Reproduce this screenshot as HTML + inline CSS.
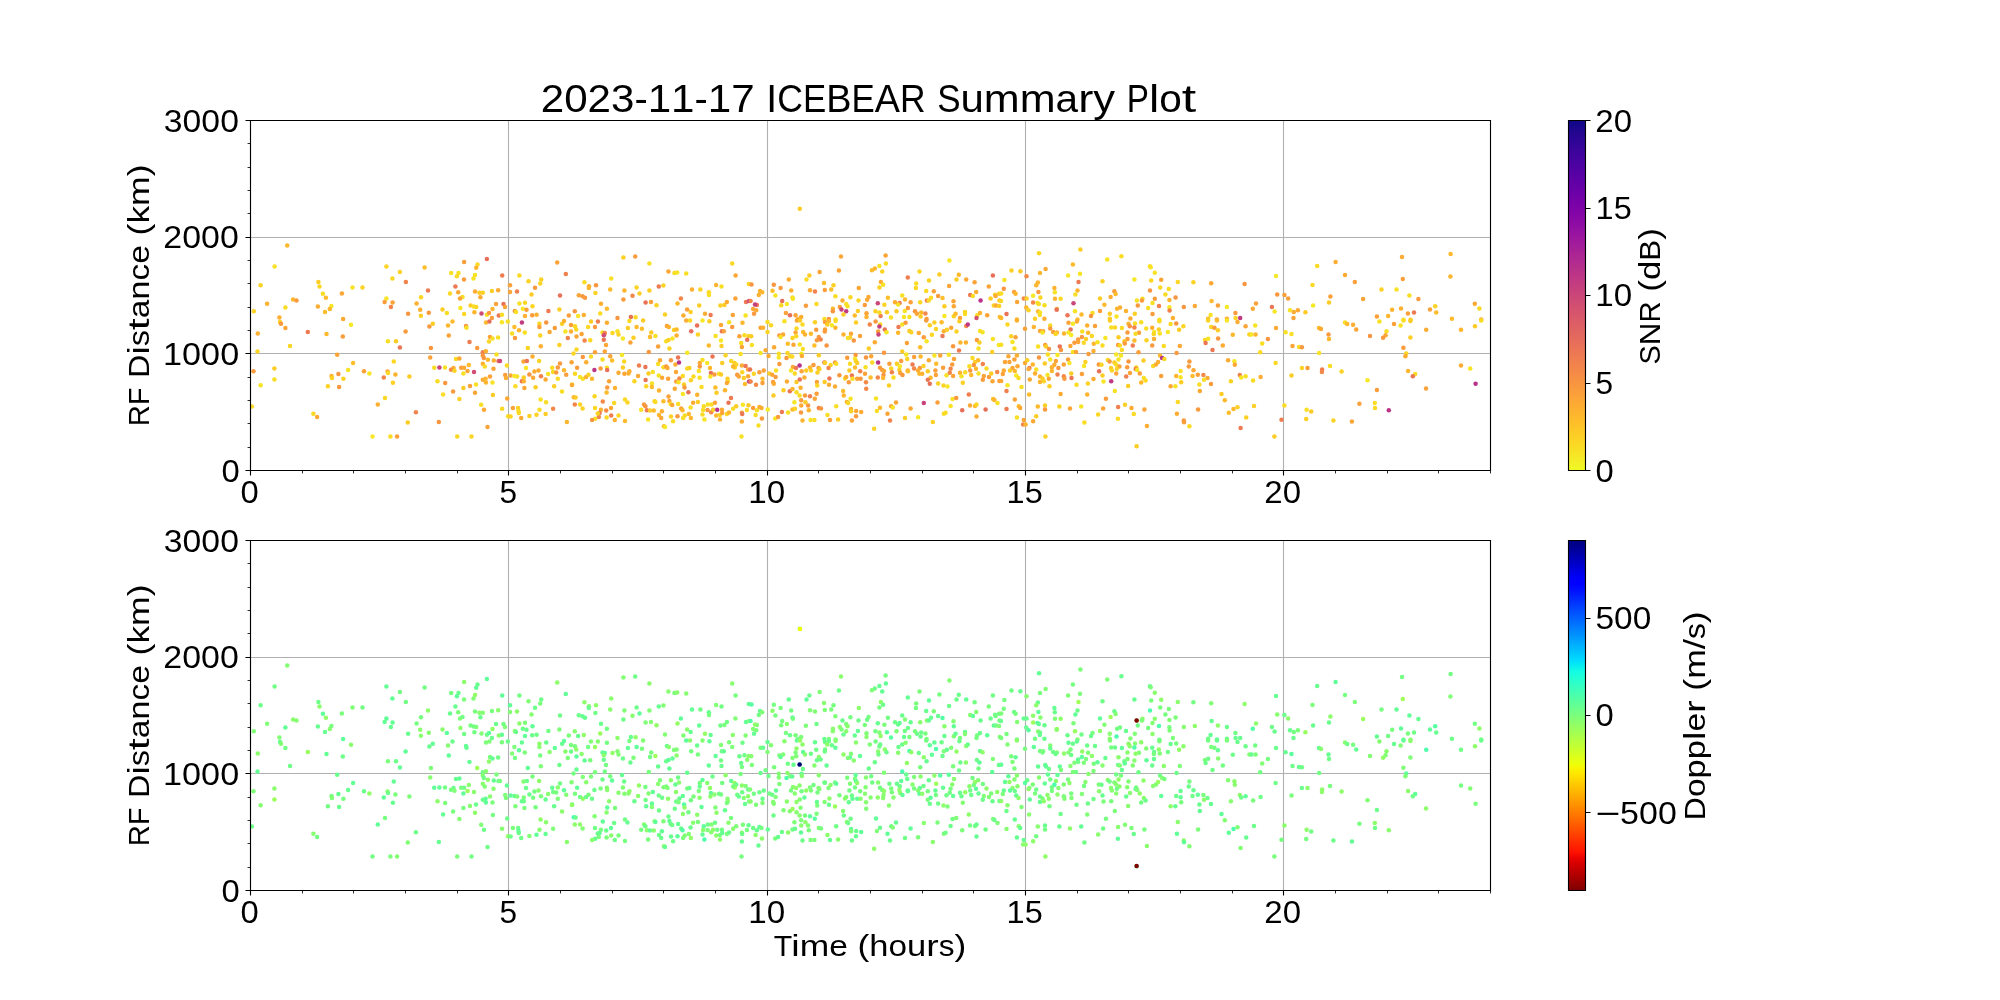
<!DOCTYPE html><html><head><meta charset="utf-8"><title>2023-11-17 ICEBEAR Summary Plot</title><style>html,body{margin:0;padding:0;background:#fff;}svg{display:block;will-change:transform;}text{font-family:"Liberation Sans",sans-serif;fill:#000;}</style></head><body>
<svg width="2000" height="1000" viewBox="0 0 2000 1000">
<rect x="0" y="0" width="2000" height="1000" fill="#fff"/>
<defs><linearGradient id="gp" x1="0" y1="1" x2="0" y2="0"><stop offset="0.0000" stop-color="#f0f921"/><stop offset="0.0156" stop-color="#f2f227"/><stop offset="0.0312" stop-color="#f5eb27"/><stop offset="0.0469" stop-color="#f7e425"/><stop offset="0.0625" stop-color="#f9dd25"/><stop offset="0.0781" stop-color="#fbd724"/><stop offset="0.0938" stop-color="#fcd025"/><stop offset="0.1094" stop-color="#fdca26"/><stop offset="0.1250" stop-color="#fdc328"/><stop offset="0.1406" stop-color="#febd2a"/><stop offset="0.1562" stop-color="#feb72d"/><stop offset="0.1719" stop-color="#fdb130"/><stop offset="0.1875" stop-color="#fdab33"/><stop offset="0.2031" stop-color="#fca537"/><stop offset="0.2188" stop-color="#fb9f3a"/><stop offset="0.2344" stop-color="#f99a3e"/><stop offset="0.2500" stop-color="#f89441"/><stop offset="0.2656" stop-color="#f68f44"/><stop offset="0.2812" stop-color="#f48948"/><stop offset="0.2969" stop-color="#f2844b"/><stop offset="0.3125" stop-color="#f07f4f"/><stop offset="0.3281" stop-color="#ed7a52"/><stop offset="0.3438" stop-color="#eb7556"/><stop offset="0.3594" stop-color="#e87059"/><stop offset="0.3750" stop-color="#e56b5d"/><stop offset="0.3906" stop-color="#e26660"/><stop offset="0.4062" stop-color="#df6263"/><stop offset="0.4219" stop-color="#dc5d67"/><stop offset="0.4375" stop-color="#d9586a"/><stop offset="0.4531" stop-color="#d5546e"/><stop offset="0.4688" stop-color="#d24f71"/><stop offset="0.4844" stop-color="#ce4b75"/><stop offset="0.5000" stop-color="#cb4679"/><stop offset="0.5156" stop-color="#c7427c"/><stop offset="0.5312" stop-color="#c33d80"/><stop offset="0.5469" stop-color="#bf3984"/><stop offset="0.5625" stop-color="#bb3488"/><stop offset="0.5781" stop-color="#b6308b"/><stop offset="0.5938" stop-color="#b22b8f"/><stop offset="0.6094" stop-color="#ad2793"/><stop offset="0.6250" stop-color="#a82296"/><stop offset="0.6406" stop-color="#a31e9a"/><stop offset="0.6562" stop-color="#9e199d"/><stop offset="0.6719" stop-color="#99159f"/><stop offset="0.6875" stop-color="#9410a2"/><stop offset="0.7031" stop-color="#8e0ca4"/><stop offset="0.7188" stop-color="#8808a6"/><stop offset="0.7344" stop-color="#8305a7"/><stop offset="0.7500" stop-color="#7d03a8"/><stop offset="0.7656" stop-color="#7701a8"/><stop offset="0.7812" stop-color="#7100a8"/><stop offset="0.7969" stop-color="#6a00a8"/><stop offset="0.8125" stop-color="#6400a7"/><stop offset="0.8281" stop-color="#5e01a6"/><stop offset="0.8438" stop-color="#5801a4"/><stop offset="0.8594" stop-color="#5102a3"/><stop offset="0.8750" stop-color="#4b03a1"/><stop offset="0.8906" stop-color="#44039e"/><stop offset="0.9062" stop-color="#3e049c"/><stop offset="0.9219" stop-color="#370499"/><stop offset="0.9375" stop-color="#2f0596"/><stop offset="0.9531" stop-color="#280592"/><stop offset="0.9688" stop-color="#20068f"/><stop offset="0.9844" stop-color="#16078a"/><stop offset="1.0000" stop-color="#0d0887"/></linearGradient>
<linearGradient id="gj" x1="0" y1="1" x2="0" y2="0"><stop offset="0.0000" stop-color="#800000"/><stop offset="0.0156" stop-color="#920000"/><stop offset="0.0312" stop-color="#a40000"/><stop offset="0.0469" stop-color="#b60000"/><stop offset="0.0625" stop-color="#c80000"/><stop offset="0.0781" stop-color="#da0000"/><stop offset="0.0938" stop-color="#ed0400"/><stop offset="0.1094" stop-color="#ff1300"/><stop offset="0.1250" stop-color="#ff2200"/><stop offset="0.1406" stop-color="#ff3000"/><stop offset="0.1562" stop-color="#ff3f00"/><stop offset="0.1719" stop-color="#ff4e00"/><stop offset="0.1875" stop-color="#ff5d00"/><stop offset="0.2031" stop-color="#ff6c00"/><stop offset="0.2188" stop-color="#ff7a00"/><stop offset="0.2344" stop-color="#ff8900"/><stop offset="0.2500" stop-color="#ff9800"/><stop offset="0.2656" stop-color="#ffa700"/><stop offset="0.2812" stop-color="#ffb600"/><stop offset="0.2969" stop-color="#ffc400"/><stop offset="0.3125" stop-color="#ffd300"/><stop offset="0.3281" stop-color="#ffe200"/><stop offset="0.3438" stop-color="#fbf100"/><stop offset="0.3594" stop-color="#eeff09"/><stop offset="0.3750" stop-color="#e1ff16"/><stop offset="0.3906" stop-color="#d4ff23"/><stop offset="0.4062" stop-color="#c7ff30"/><stop offset="0.4219" stop-color="#baff3c"/><stop offset="0.4375" stop-color="#adff49"/><stop offset="0.4531" stop-color="#a0ff56"/><stop offset="0.4688" stop-color="#94ff63"/><stop offset="0.4844" stop-color="#87ff70"/><stop offset="0.5000" stop-color="#7aff7d"/><stop offset="0.5156" stop-color="#6dff8a"/><stop offset="0.5312" stop-color="#60ff97"/><stop offset="0.5469" stop-color="#53ffa4"/><stop offset="0.5625" stop-color="#46ffb1"/><stop offset="0.5781" stop-color="#39ffbe"/><stop offset="0.5938" stop-color="#2cffca"/><stop offset="0.6094" stop-color="#1fffd7"/><stop offset="0.6250" stop-color="#13fce4"/><stop offset="0.6406" stop-color="#06edf1"/><stop offset="0.6562" stop-color="#00dcfe"/><stop offset="0.6719" stop-color="#00ccff"/><stop offset="0.6875" stop-color="#00bcff"/><stop offset="0.7031" stop-color="#00adff"/><stop offset="0.7188" stop-color="#009cff"/><stop offset="0.7344" stop-color="#008cff"/><stop offset="0.7500" stop-color="#007dff"/><stop offset="0.7656" stop-color="#006dff"/><stop offset="0.7812" stop-color="#005dff"/><stop offset="0.7969" stop-color="#004dff"/><stop offset="0.8125" stop-color="#003dff"/><stop offset="0.8281" stop-color="#002dff"/><stop offset="0.8438" stop-color="#001dff"/><stop offset="0.8594" stop-color="#000dff"/><stop offset="0.8750" stop-color="#0000ff"/><stop offset="0.8906" stop-color="#0000fa"/><stop offset="0.9062" stop-color="#0000e8"/><stop offset="0.9219" stop-color="#0000d6"/><stop offset="0.9375" stop-color="#0000c4"/><stop offset="0.9531" stop-color="#0000b2"/><stop offset="0.9688" stop-color="#00009f"/><stop offset="0.9844" stop-color="#00008d"/><stop offset="1.0000" stop-color="#000080"/></linearGradient></defs>
<path d="M250.5 120V470M508.5 120V470M767.5 120V470M1025.5 120V470M1283.5 120V470M250 353.5H1490M250 237.5H1490" stroke="#b0b0b0" stroke-width="1.11" fill="none"/>
<rect x="1568" y="120" width="17.5" height="350" fill="url(#gp)"/>
<path d="M250.5 540V890M508.5 540V890M767.5 540V890M1025.5 540V890M1283.5 540V890M250 773.5H1490M250 657.5H1490" stroke="#b0b0b0" stroke-width="1.11" fill="none"/>
<rect x="1568" y="540" width="17.5" height="350" fill="url(#gj)"/>
<defs><clipPath id="ca"><rect x="250" y="120" width="1240" height="350"/></clipPath><clipPath id="cb"><rect x="250" y="540" width="1240" height="350"/></clipPath></defs><g clip-path="url(#ca)"><circle cx="287.2" cy="245.6" r="2.25" fill="#feb82c"/><circle cx="274.6" cy="266.5" r="2.25" fill="#f8e125"/><circle cx="386.4" cy="266.5" r="2.25" fill="#fbd524"/><circle cx="424.6" cy="267.6" r="2.25" fill="#febd2a"/><circle cx="399.9" cy="271.9" r="2.25" fill="#fcd225"/><circle cx="464.1" cy="262.1" r="2.25" fill="#fb9f3a"/><circle cx="486.9" cy="259.0" r="2.25" fill="#e87059"/><circle cx="477.5" cy="264.4" r="2.25" fill="#fad824"/><circle cx="476.2" cy="267.8" r="2.25" fill="#fdb52e"/><circle cx="451.2" cy="273.1" r="2.25" fill="#f8e125"/><circle cx="458.5" cy="273.1" r="2.25" fill="#f8e125"/><circle cx="456.9" cy="276.2" r="2.25" fill="#fada24"/><circle cx="464.0" cy="279.4" r="2.25" fill="#fa9b3d"/><circle cx="475.0" cy="275.0" r="2.25" fill="#f7e225"/><circle cx="473.5" cy="278.5" r="2.25" fill="#f7e425"/><circle cx="260.6" cy="285.2" r="2.25" fill="#fbd324"/><circle cx="318.4" cy="282.1" r="2.25" fill="#fcce25"/><circle cx="319.5" cy="286.5" r="2.25" fill="#fbd724"/><circle cx="392.4" cy="278.5" r="2.25" fill="#fad824"/><circle cx="405.9" cy="282.1" r="2.25" fill="#f1834c"/><circle cx="352.5" cy="287.5" r="2.25" fill="#f7e225"/><circle cx="362.5" cy="287.5" r="2.25" fill="#fbd324"/><circle cx="341.9" cy="293.4" r="2.25" fill="#fca835"/><circle cx="322.9" cy="293.8" r="2.25" fill="#f9dc24"/><circle cx="325.9" cy="297.8" r="2.25" fill="#febb2b"/><circle cx="455.4" cy="286.6" r="2.25" fill="#ed7953"/><circle cx="428.0" cy="290.6" r="2.25" fill="#ee7b51"/><circle cx="450.0" cy="293.4" r="2.25" fill="#fad824"/><circle cx="458.2" cy="292.2" r="2.25" fill="#fca835"/><circle cx="475.0" cy="291.5" r="2.25" fill="#fdab33"/><circle cx="479.4" cy="292.8" r="2.25" fill="#fdcb26"/><circle cx="482.8" cy="292.8" r="2.25" fill="#fcd025"/><circle cx="491.9" cy="290.9" r="2.25" fill="#fcd025"/><circle cx="498.1" cy="290.2" r="2.25" fill="#fdac33"/><circle cx="421.0" cy="297.2" r="2.25" fill="#fbd724"/><circle cx="462.5" cy="296.9" r="2.25" fill="#fada24"/><circle cx="460.0" cy="298.5" r="2.25" fill="#fca636"/><circle cx="480.4" cy="297.2" r="2.25" fill="#fdab33"/><circle cx="293.1" cy="299.4" r="2.25" fill="#feb72d"/><circle cx="296.5" cy="300.6" r="2.25" fill="#fa9c3c"/><circle cx="267.1" cy="303.8" r="2.25" fill="#fdb22f"/><circle cx="386.4" cy="298.5" r="2.25" fill="#f6e626"/><circle cx="384.6" cy="301.9" r="2.25" fill="#fa9e3b"/><circle cx="392.6" cy="302.5" r="2.25" fill="#fca338"/><circle cx="390.9" cy="306.9" r="2.25" fill="#f3854b"/><circle cx="416.6" cy="303.5" r="2.25" fill="#fdb22f"/><circle cx="285.4" cy="307.5" r="2.25" fill="#f9dd25"/><circle cx="317.9" cy="306.6" r="2.25" fill="#fdae32"/><circle cx="331.4" cy="306.0" r="2.25" fill="#f7e425"/><circle cx="329.8" cy="309.0" r="2.25" fill="#fdb52e"/><circle cx="325.0" cy="311.9" r="2.25" fill="#febd2a"/><circle cx="253.8" cy="311.2" r="2.25" fill="#fcd225"/><circle cx="496.0" cy="304.1" r="2.25" fill="#fba238"/><circle cx="470.6" cy="305.4" r="2.25" fill="#fdcb26"/><circle cx="473.8" cy="306.6" r="2.25" fill="#f8e125"/><circle cx="476.2" cy="306.9" r="2.25" fill="#fbd724"/><circle cx="460.4" cy="308.1" r="2.25" fill="#f6e626"/><circle cx="442.5" cy="309.4" r="2.25" fill="#fcce25"/><circle cx="420.2" cy="309.8" r="2.25" fill="#fdb130"/><circle cx="446.9" cy="312.9" r="2.25" fill="#f9dc24"/><circle cx="428.8" cy="312.8" r="2.25" fill="#f99a3e"/><circle cx="408.1" cy="313.8" r="2.25" fill="#f9973f"/><circle cx="420.9" cy="315.8" r="2.25" fill="#fcce25"/><circle cx="464.1" cy="313.9" r="2.25" fill="#fad824"/><circle cx="474.4" cy="312.2" r="2.25" fill="#fdb52e"/><circle cx="481.5" cy="313.4" r="2.25" fill="#cf4c74"/><circle cx="486.9" cy="314.8" r="2.25" fill="#f8df25"/><circle cx="489.0" cy="313.1" r="2.25" fill="#f99a3e"/><circle cx="492.5" cy="309.0" r="2.25" fill="#fdb52e"/><circle cx="491.9" cy="318.1" r="2.25" fill="#fa9e3b"/><circle cx="498.8" cy="315.6" r="2.25" fill="#eb7655"/><circle cx="279.4" cy="317.5" r="2.25" fill="#fdaf31"/><circle cx="343.1" cy="319.1" r="2.25" fill="#fca934"/><circle cx="280.0" cy="321.9" r="2.25" fill="#fcd225"/><circle cx="281.0" cy="323.8" r="2.25" fill="#f9983e"/><circle cx="285.4" cy="328.1" r="2.25" fill="#fca537"/><circle cx="257.8" cy="333.4" r="2.25" fill="#fdaf31"/><circle cx="307.8" cy="331.9" r="2.25" fill="#ed7953"/><circle cx="326.5" cy="334.0" r="2.25" fill="#feb82c"/><circle cx="351.0" cy="324.8" r="2.25" fill="#f6e826"/><circle cx="342.8" cy="336.6" r="2.25" fill="#fa9c3c"/><circle cx="290.0" cy="345.9" r="2.25" fill="#fbd524"/><circle cx="257.5" cy="351.6" r="2.25" fill="#fbd724"/><circle cx="387.9" cy="341.2" r="2.25" fill="#f8df25"/><circle cx="396.0" cy="341.2" r="2.25" fill="#fccd25"/><circle cx="405.6" cy="331.6" r="2.25" fill="#fa9c3c"/><circle cx="399.9" cy="347.5" r="2.25" fill="#eb7655"/><circle cx="429.4" cy="326.5" r="2.25" fill="#f99a3e"/><circle cx="432.8" cy="323.8" r="2.25" fill="#fdcb26"/><circle cx="448.0" cy="325.6" r="2.25" fill="#feb72d"/><circle cx="452.5" cy="321.6" r="2.25" fill="#feba2c"/><circle cx="466.0" cy="326.0" r="2.25" fill="#f89540"/><circle cx="466.5" cy="327.8" r="2.25" fill="#f8e125"/><circle cx="448.8" cy="335.6" r="2.25" fill="#fba238"/><circle cx="430.9" cy="348.1" r="2.25" fill="#f89540"/><circle cx="469.5" cy="341.9" r="2.25" fill="#ef7c51"/><circle cx="477.2" cy="347.9" r="2.25" fill="#f9983e"/><circle cx="486.0" cy="322.5" r="2.25" fill="#feba2c"/><circle cx="489.4" cy="321.5" r="2.25" fill="#e76e5b"/><circle cx="490.0" cy="336.9" r="2.25" fill="#fba238"/><circle cx="492.5" cy="338.5" r="2.25" fill="#f8df25"/><circle cx="498.1" cy="337.5" r="2.25" fill="#f8df25"/><circle cx="489.0" cy="341.6" r="2.25" fill="#fbd524"/><circle cx="482.8" cy="352.2" r="2.25" fill="#f07f4f"/><circle cx="485.9" cy="351.2" r="2.25" fill="#fdb130"/><circle cx="496.5" cy="354.4" r="2.25" fill="#f8df25"/><circle cx="337.2" cy="354.8" r="2.25" fill="#fca537"/><circle cx="353.1" cy="363.1" r="2.25" fill="#febd2a"/><circle cx="393.8" cy="361.5" r="2.25" fill="#fbd724"/><circle cx="430.2" cy="357.5" r="2.25" fill="#fca338"/><circle cx="456.0" cy="359.0" r="2.25" fill="#fad824"/><circle cx="459.4" cy="358.4" r="2.25" fill="#fca934"/><circle cx="482.8" cy="355.6" r="2.25" fill="#f9973f"/><circle cx="483.8" cy="358.1" r="2.25" fill="#f89540"/><circle cx="487.9" cy="359.8" r="2.25" fill="#feba2c"/><circle cx="493.8" cy="360.6" r="2.25" fill="#fdb130"/><circle cx="498.5" cy="360.9" r="2.25" fill="#e87059"/><circle cx="274.4" cy="368.5" r="2.25" fill="#fccd25"/><circle cx="253.5" cy="371.2" r="2.25" fill="#fa9b3d"/><circle cx="348.1" cy="370.0" r="2.25" fill="#f7e225"/><circle cx="364.0" cy="371.2" r="2.25" fill="#fba139"/><circle cx="369.4" cy="373.5" r="2.25" fill="#f6e626"/><circle cx="387.6" cy="371.5" r="2.25" fill="#fca636"/><circle cx="388.0" cy="373.1" r="2.25" fill="#fada24"/><circle cx="395.4" cy="374.6" r="2.25" fill="#fdb22f"/><circle cx="434.2" cy="367.8" r="2.25" fill="#f9dc24"/><circle cx="439.4" cy="367.5" r="2.25" fill="#cb4679"/><circle cx="445.0" cy="367.5" r="2.25" fill="#f8e125"/><circle cx="453.5" cy="367.9" r="2.25" fill="#fdac33"/><circle cx="451.0" cy="369.8" r="2.25" fill="#f58b47"/><circle cx="454.5" cy="370.8" r="2.25" fill="#fbd524"/><circle cx="461.2" cy="367.8" r="2.25" fill="#fb9f3a"/><circle cx="464.1" cy="367.8" r="2.25" fill="#fca934"/><circle cx="467.5" cy="371.0" r="2.25" fill="#fca636"/><circle cx="463.4" cy="373.5" r="2.25" fill="#f8df25"/><circle cx="468.8" cy="365.0" r="2.25" fill="#febb2b"/><circle cx="474.0" cy="371.9" r="2.25" fill="#d04d73"/><circle cx="482.8" cy="363.8" r="2.25" fill="#fdb130"/><circle cx="484.8" cy="366.6" r="2.25" fill="#f9dd25"/><circle cx="493.5" cy="368.8" r="2.25" fill="#fca537"/><circle cx="338.4" cy="374.1" r="2.25" fill="#f9973f"/><circle cx="331.5" cy="376.0" r="2.25" fill="#fdb42f"/><circle cx="332.0" cy="378.1" r="2.25" fill="#fcd225"/><circle cx="343.4" cy="378.8" r="2.25" fill="#fcd225"/><circle cx="383.8" cy="377.5" r="2.25" fill="#f3854b"/><circle cx="409.4" cy="376.5" r="2.25" fill="#fdcb26"/><circle cx="274.4" cy="379.4" r="2.25" fill="#f8df25"/><circle cx="260.6" cy="385.2" r="2.25" fill="#f7e425"/><circle cx="327.9" cy="386.2" r="2.25" fill="#fbd324"/><circle cx="339.1" cy="387.1" r="2.25" fill="#f9983e"/><circle cx="392.9" cy="382.8" r="2.25" fill="#fcd025"/><circle cx="437.5" cy="381.2" r="2.25" fill="#f9dd25"/><circle cx="445.2" cy="382.9" r="2.25" fill="#f9973f"/><circle cx="482.8" cy="379.8" r="2.25" fill="#fdac33"/><circle cx="485.6" cy="378.8" r="2.25" fill="#fdb42f"/><circle cx="485.9" cy="382.5" r="2.25" fill="#fdb52e"/><circle cx="490.0" cy="376.5" r="2.25" fill="#fca338"/><circle cx="492.5" cy="382.5" r="2.25" fill="#f7e225"/><circle cx="476.0" cy="384.5" r="2.25" fill="#f8df25"/><circle cx="470.0" cy="385.9" r="2.25" fill="#fba139"/><circle cx="463.4" cy="388.1" r="2.25" fill="#fdcb26"/><circle cx="453.1" cy="391.4" r="2.25" fill="#fa9b3d"/><circle cx="443.1" cy="394.6" r="2.25" fill="#f9dc24"/><circle cx="459.4" cy="399.0" r="2.25" fill="#fcd025"/><circle cx="475.0" cy="392.8" r="2.25" fill="#fca636"/><circle cx="492.9" cy="395.0" r="2.25" fill="#fdcb26"/><circle cx="385.0" cy="398.1" r="2.25" fill="#fbd724"/><circle cx="377.8" cy="404.4" r="2.25" fill="#fdaf31"/><circle cx="251.9" cy="406.5" r="2.25" fill="#fada24"/><circle cx="481.2" cy="404.8" r="2.25" fill="#f9dc24"/><circle cx="484.0" cy="409.8" r="2.25" fill="#fca934"/><circle cx="415.9" cy="412.2" r="2.25" fill="#f2844b"/><circle cx="313.4" cy="413.8" r="2.25" fill="#fbd724"/><circle cx="317.1" cy="417.0" r="2.25" fill="#fca835"/><circle cx="407.8" cy="422.5" r="2.25" fill="#fcce25"/><circle cx="438.8" cy="421.9" r="2.25" fill="#f89540"/><circle cx="487.5" cy="426.9" r="2.25" fill="#fca338"/><circle cx="372.5" cy="436.5" r="2.25" fill="#f6e826"/><circle cx="390.4" cy="436.5" r="2.25" fill="#f9dc24"/><circle cx="397.1" cy="436.5" r="2.25" fill="#fb9f3a"/><circle cx="457.2" cy="436.5" r="2.25" fill="#fad824"/><circle cx="471.5" cy="436.5" r="2.25" fill="#fbd524"/><circle cx="557.2" cy="262.6" r="2.25" fill="#fca338"/><circle cx="623.4" cy="257.5" r="2.25" fill="#fcd025"/><circle cx="635.2" cy="256.5" r="2.25" fill="#fa9c3c"/><circle cx="649.4" cy="263.4" r="2.25" fill="#f8e125"/><circle cx="732.2" cy="263.4" r="2.25" fill="#fad824"/><circle cx="502.2" cy="275.4" r="2.25" fill="#ef7c51"/><circle cx="519.4" cy="275.4" r="2.25" fill="#fad824"/><circle cx="565.8" cy="274.0" r="2.25" fill="#f0804e"/><circle cx="668.4" cy="271.4" r="2.25" fill="#fca835"/><circle cx="674.4" cy="272.9" r="2.25" fill="#f9dc24"/><circle cx="677.2" cy="272.5" r="2.25" fill="#f7e225"/><circle cx="686.2" cy="273.4" r="2.25" fill="#f8df25"/><circle cx="735.6" cy="275.6" r="2.25" fill="#fca835"/><circle cx="528.5" cy="281.2" r="2.25" fill="#fcd225"/><circle cx="541.2" cy="279.4" r="2.25" fill="#fcd225"/><circle cx="540.2" cy="283.4" r="2.25" fill="#fbd524"/><circle cx="611.2" cy="278.4" r="2.25" fill="#f7e225"/><circle cx="584.4" cy="282.2" r="2.25" fill="#f9dd25"/><circle cx="510.0" cy="285.2" r="2.25" fill="#fba139"/><circle cx="535.0" cy="287.8" r="2.25" fill="#f9983e"/><circle cx="589.0" cy="286.2" r="2.25" fill="#fdac33"/><circle cx="588.8" cy="288.1" r="2.25" fill="#fdb52e"/><circle cx="596.0" cy="285.2" r="2.25" fill="#f89540"/><circle cx="636.6" cy="287.6" r="2.25" fill="#fcd225"/><circle cx="658.8" cy="286.6" r="2.25" fill="#ee7b51"/><circle cx="663.4" cy="285.6" r="2.25" fill="#fcd225"/><circle cx="716.1" cy="285.0" r="2.25" fill="#fdb42f"/><circle cx="721.5" cy="286.5" r="2.25" fill="#f8df25"/><circle cx="748.8" cy="284.0" r="2.25" fill="#fad824"/><circle cx="610.2" cy="289.6" r="2.25" fill="#febb2b"/><circle cx="624.4" cy="290.6" r="2.25" fill="#fdb52e"/><circle cx="649.4" cy="290.4" r="2.25" fill="#fcd025"/><circle cx="692.0" cy="289.6" r="2.25" fill="#fdaf31"/><circle cx="700.4" cy="289.4" r="2.25" fill="#fbd324"/><circle cx="708.8" cy="292.2" r="2.25" fill="#fad824"/><circle cx="709.0" cy="295.0" r="2.25" fill="#f8e125"/><circle cx="510.0" cy="291.9" r="2.25" fill="#fca537"/><circle cx="517.0" cy="291.5" r="2.25" fill="#f0804e"/><circle cx="531.5" cy="294.4" r="2.25" fill="#fdca26"/><circle cx="560.0" cy="295.4" r="2.25" fill="#e97158"/><circle cx="578.8" cy="295.2" r="2.25" fill="#fca537"/><circle cx="582.5" cy="296.2" r="2.25" fill="#f99a3e"/><circle cx="585.0" cy="297.8" r="2.25" fill="#f9983e"/><circle cx="595.4" cy="293.1" r="2.25" fill="#fbd324"/><circle cx="632.5" cy="295.8" r="2.25" fill="#f3874a"/><circle cx="639.5" cy="293.5" r="2.25" fill="#fccd25"/><circle cx="623.4" cy="299.4" r="2.25" fill="#fa9b3d"/><circle cx="680.9" cy="298.5" r="2.25" fill="#f3874a"/><circle cx="735.4" cy="298.4" r="2.25" fill="#fca338"/><circle cx="503.5" cy="304.0" r="2.25" fill="#e97158"/><circle cx="505.0" cy="306.9" r="2.25" fill="#fca338"/><circle cx="519.4" cy="303.4" r="2.25" fill="#f8e125"/><circle cx="525.0" cy="302.8" r="2.25" fill="#fbd724"/><circle cx="532.5" cy="306.2" r="2.25" fill="#fbd724"/><circle cx="601.0" cy="303.8" r="2.25" fill="#fdaf31"/><circle cx="645.6" cy="302.5" r="2.25" fill="#e97158"/><circle cx="651.0" cy="302.1" r="2.25" fill="#fba139"/><circle cx="656.5" cy="305.2" r="2.25" fill="#fcd225"/><circle cx="677.5" cy="303.4" r="2.25" fill="#feb72d"/><circle cx="699.2" cy="305.6" r="2.25" fill="#fcce25"/><circle cx="720.4" cy="305.6" r="2.25" fill="#fcd025"/><circle cx="724.4" cy="305.0" r="2.25" fill="#fdcb26"/><circle cx="726.9" cy="301.9" r="2.25" fill="#fdab33"/><circle cx="746.0" cy="302.1" r="2.25" fill="#eb7655"/><circle cx="749.1" cy="301.0" r="2.25" fill="#c6417d"/><circle cx="522.8" cy="308.8" r="2.25" fill="#f6e626"/><circle cx="526.5" cy="309.8" r="2.25" fill="#fb9f3a"/><circle cx="514.8" cy="311.0" r="2.25" fill="#fa9c3c"/><circle cx="516.0" cy="311.9" r="2.25" fill="#f8df25"/><circle cx="548.4" cy="310.9" r="2.25" fill="#ed7a52"/><circle cx="559.4" cy="309.4" r="2.25" fill="#fcd025"/><circle cx="606.9" cy="308.8" r="2.25" fill="#feba2c"/><circle cx="574.8" cy="311.2" r="2.25" fill="#f89540"/><circle cx="687.1" cy="309.4" r="2.25" fill="#fba139"/><circle cx="690.6" cy="311.9" r="2.25" fill="#fcce25"/><circle cx="501.9" cy="314.8" r="2.25" fill="#f9dd25"/><circle cx="525.0" cy="316.0" r="2.25" fill="#fdaf31"/><circle cx="532.2" cy="315.2" r="2.25" fill="#fa9c3c"/><circle cx="536.6" cy="314.8" r="2.25" fill="#fdb130"/><circle cx="568.8" cy="315.4" r="2.25" fill="#fb9f3a"/><circle cx="578.1" cy="316.0" r="2.25" fill="#f7e425"/><circle cx="583.8" cy="315.0" r="2.25" fill="#fdaf31"/><circle cx="600.2" cy="313.5" r="2.25" fill="#fada24"/><circle cx="617.5" cy="317.9" r="2.25" fill="#f89540"/><circle cx="630.9" cy="316.9" r="2.25" fill="#e87059"/><circle cx="635.6" cy="317.2" r="2.25" fill="#fad824"/><circle cx="665.0" cy="314.4" r="2.25" fill="#fcd025"/><circle cx="683.4" cy="315.6" r="2.25" fill="#fdae32"/><circle cx="705.0" cy="313.8" r="2.25" fill="#fdac33"/><circle cx="710.6" cy="315.0" r="2.25" fill="#ee7b51"/><circle cx="732.8" cy="315.0" r="2.25" fill="#fba139"/><circle cx="745.6" cy="315.6" r="2.25" fill="#f7e225"/><circle cx="501.9" cy="322.2" r="2.25" fill="#f6e626"/><circle cx="507.8" cy="321.5" r="2.25" fill="#f8df25"/><circle cx="521.9" cy="322.5" r="2.25" fill="#c23c81"/><circle cx="514.4" cy="327.1" r="2.25" fill="#febb2b"/><circle cx="519.0" cy="330.2" r="2.25" fill="#feb72d"/><circle cx="512.1" cy="333.4" r="2.25" fill="#f9dd25"/><circle cx="524.8" cy="332.5" r="2.25" fill="#f8df25"/><circle cx="515.0" cy="338.1" r="2.25" fill="#f99a3e"/><circle cx="539.4" cy="323.8" r="2.25" fill="#fbd324"/><circle cx="539.4" cy="326.9" r="2.25" fill="#fa9c3c"/><circle cx="546.2" cy="322.5" r="2.25" fill="#f89540"/><circle cx="540.2" cy="335.6" r="2.25" fill="#fcd225"/><circle cx="549.6" cy="331.9" r="2.25" fill="#fca934"/><circle cx="554.8" cy="328.1" r="2.25" fill="#fa9c3c"/><circle cx="562.1" cy="323.8" r="2.25" fill="#fcce25"/><circle cx="564.0" cy="321.0" r="2.25" fill="#fdb130"/><circle cx="565.4" cy="331.5" r="2.25" fill="#f7e425"/><circle cx="571.0" cy="325.0" r="2.25" fill="#fb9f3a"/><circle cx="575.0" cy="326.2" r="2.25" fill="#fbd724"/><circle cx="576.2" cy="329.4" r="2.25" fill="#fad824"/><circle cx="571.0" cy="331.5" r="2.25" fill="#fdac33"/><circle cx="567.8" cy="338.1" r="2.25" fill="#f1814d"/><circle cx="576.5" cy="336.5" r="2.25" fill="#fca636"/><circle cx="581.6" cy="334.0" r="2.25" fill="#fca338"/><circle cx="588.1" cy="327.1" r="2.25" fill="#fbd724"/><circle cx="591.0" cy="321.5" r="2.25" fill="#fdcb26"/><circle cx="595.0" cy="326.9" r="2.25" fill="#f9983e"/><circle cx="597.9" cy="321.5" r="2.25" fill="#f07f4f"/><circle cx="606.9" cy="322.8" r="2.25" fill="#fdae32"/><circle cx="602.5" cy="332.5" r="2.25" fill="#f9dd25"/><circle cx="604.8" cy="333.1" r="2.25" fill="#f0804e"/><circle cx="603.8" cy="335.2" r="2.25" fill="#cf4c74"/><circle cx="612.5" cy="332.9" r="2.25" fill="#fbd724"/><circle cx="617.5" cy="331.2" r="2.25" fill="#f8e125"/><circle cx="618.5" cy="334.4" r="2.25" fill="#fbd324"/><circle cx="629.4" cy="321.0" r="2.25" fill="#fada24"/><circle cx="627.9" cy="328.1" r="2.25" fill="#fdcb26"/><circle cx="636.6" cy="327.1" r="2.25" fill="#feb82c"/><circle cx="641.9" cy="328.8" r="2.25" fill="#febd2a"/><circle cx="643.1" cy="320.6" r="2.25" fill="#fdcb26"/><circle cx="633.5" cy="337.8" r="2.25" fill="#fcce25"/><circle cx="651.2" cy="332.5" r="2.25" fill="#fdca26"/><circle cx="655.4" cy="335.9" r="2.25" fill="#f9dd25"/><circle cx="650.0" cy="336.9" r="2.25" fill="#feba2c"/><circle cx="666.9" cy="326.0" r="2.25" fill="#fba238"/><circle cx="668.8" cy="326.9" r="2.25" fill="#fdb22f"/><circle cx="674.0" cy="330.0" r="2.25" fill="#fcce25"/><circle cx="676.6" cy="329.4" r="2.25" fill="#feba2c"/><circle cx="676.6" cy="335.6" r="2.25" fill="#fdb130"/><circle cx="672.5" cy="338.4" r="2.25" fill="#f7e425"/><circle cx="686.2" cy="320.6" r="2.25" fill="#fdae32"/><circle cx="690.0" cy="320.6" r="2.25" fill="#fad824"/><circle cx="691.2" cy="331.2" r="2.25" fill="#e76e5b"/><circle cx="697.1" cy="325.6" r="2.25" fill="#e87059"/><circle cx="697.9" cy="334.6" r="2.25" fill="#fcd225"/><circle cx="702.5" cy="320.6" r="2.25" fill="#f6e826"/><circle cx="709.4" cy="321.2" r="2.25" fill="#fccd25"/><circle cx="721.0" cy="325.0" r="2.25" fill="#fca636"/><circle cx="721.9" cy="331.2" r="2.25" fill="#e97158"/><circle cx="723.8" cy="331.2" r="2.25" fill="#fba139"/><circle cx="729.1" cy="322.2" r="2.25" fill="#f7e225"/><circle cx="732.2" cy="327.1" r="2.25" fill="#f9973f"/><circle cx="742.5" cy="322.8" r="2.25" fill="#feb72d"/><circle cx="739.4" cy="336.2" r="2.25" fill="#fba139"/><circle cx="744.4" cy="335.2" r="2.25" fill="#f9dd25"/><circle cx="748.5" cy="336.0" r="2.25" fill="#fbd524"/><circle cx="527.8" cy="348.1" r="2.25" fill="#fbd324"/><circle cx="540.8" cy="346.2" r="2.25" fill="#fdaf31"/><circle cx="559.4" cy="345.0" r="2.25" fill="#fcd025"/><circle cx="576.5" cy="349.4" r="2.25" fill="#fad824"/><circle cx="584.6" cy="340.6" r="2.25" fill="#f3874a"/><circle cx="590.2" cy="340.2" r="2.25" fill="#fad824"/><circle cx="603.8" cy="339.8" r="2.25" fill="#eb7655"/><circle cx="606.0" cy="345.0" r="2.25" fill="#fca636"/><circle cx="622.9" cy="338.5" r="2.25" fill="#f6e826"/><circle cx="630.4" cy="342.5" r="2.25" fill="#fca338"/><circle cx="658.1" cy="346.6" r="2.25" fill="#fba139"/><circle cx="669.4" cy="348.5" r="2.25" fill="#fbd524"/><circle cx="666.2" cy="341.2" r="2.25" fill="#f9dd25"/><circle cx="668.5" cy="340.0" r="2.25" fill="#fcd025"/><circle cx="708.8" cy="345.6" r="2.25" fill="#feba2c"/><circle cx="715.6" cy="335.9" r="2.25" fill="#f8df25"/><circle cx="721.0" cy="340.6" r="2.25" fill="#f6e826"/><circle cx="721.5" cy="346.0" r="2.25" fill="#fccd25"/><circle cx="741.9" cy="346.9" r="2.25" fill="#fba238"/><circle cx="741.2" cy="343.1" r="2.25" fill="#f9dd25"/><circle cx="747.2" cy="339.8" r="2.25" fill="#e97257"/><circle cx="573.5" cy="353.5" r="2.25" fill="#fbd524"/><circle cx="595.0" cy="352.2" r="2.25" fill="#fba238"/><circle cx="604.8" cy="351.5" r="2.25" fill="#fca636"/><circle cx="648.8" cy="351.9" r="2.25" fill="#f9983e"/><circle cx="687.2" cy="352.8" r="2.25" fill="#f6e626"/><circle cx="740.6" cy="354.0" r="2.25" fill="#f8e125"/><circle cx="500.0" cy="361.0" r="2.25" fill="#cd4a76"/><circle cx="506.9" cy="365.6" r="2.25" fill="#fada24"/><circle cx="532.5" cy="356.5" r="2.25" fill="#fdae32"/><circle cx="523.5" cy="361.5" r="2.25" fill="#fca636"/><circle cx="526.9" cy="361.0" r="2.25" fill="#eb7655"/><circle cx="539.1" cy="361.0" r="2.25" fill="#fbd324"/><circle cx="526.0" cy="367.9" r="2.25" fill="#f7e425"/><circle cx="560.0" cy="363.5" r="2.25" fill="#fa9b3d"/><circle cx="557.8" cy="367.5" r="2.25" fill="#f99a3e"/><circle cx="552.2" cy="367.8" r="2.25" fill="#f9dc24"/><circle cx="571.6" cy="362.2" r="2.25" fill="#fca537"/><circle cx="577.1" cy="367.8" r="2.25" fill="#fa9c3c"/><circle cx="582.8" cy="356.9" r="2.25" fill="#f9973f"/><circle cx="586.2" cy="362.2" r="2.25" fill="#fdae32"/><circle cx="591.0" cy="356.6" r="2.25" fill="#fada24"/><circle cx="602.5" cy="359.6" r="2.25" fill="#f9dc24"/><circle cx="610.2" cy="356.2" r="2.25" fill="#fca537"/><circle cx="612.1" cy="360.6" r="2.25" fill="#febd2a"/><circle cx="622.0" cy="355.0" r="2.25" fill="#f6e826"/><circle cx="624.1" cy="361.5" r="2.25" fill="#fad824"/><circle cx="622.9" cy="367.5" r="2.25" fill="#fdcb26"/><circle cx="594.4" cy="370.0" r="2.25" fill="#bd3786"/><circle cx="600.6" cy="368.5" r="2.25" fill="#fa9c3c"/><circle cx="606.9" cy="367.8" r="2.25" fill="#f9dd25"/><circle cx="607.2" cy="370.0" r="2.25" fill="#e87059"/><circle cx="639.0" cy="365.6" r="2.25" fill="#f0804e"/><circle cx="645.4" cy="366.9" r="2.25" fill="#ea7457"/><circle cx="658.1" cy="364.0" r="2.25" fill="#f9dd25"/><circle cx="660.0" cy="360.2" r="2.25" fill="#fdab33"/><circle cx="663.5" cy="367.2" r="2.25" fill="#fad824"/><circle cx="666.2" cy="366.5" r="2.25" fill="#f99a3e"/><circle cx="667.5" cy="368.1" r="2.25" fill="#fca934"/><circle cx="670.9" cy="360.2" r="2.25" fill="#f89540"/><circle cx="675.4" cy="364.4" r="2.25" fill="#fdae32"/><circle cx="678.1" cy="357.5" r="2.25" fill="#eb7556"/><circle cx="679.0" cy="362.5" r="2.25" fill="#b7318a"/><circle cx="687.2" cy="368.5" r="2.25" fill="#fada24"/><circle cx="689.4" cy="368.1" r="2.25" fill="#fcd025"/><circle cx="699.8" cy="363.1" r="2.25" fill="#fdab33"/><circle cx="699.8" cy="366.5" r="2.25" fill="#f9983e"/><circle cx="702.5" cy="360.0" r="2.25" fill="#f9dd25"/><circle cx="707.2" cy="363.1" r="2.25" fill="#f6e626"/><circle cx="712.5" cy="356.6" r="2.25" fill="#eb7655"/><circle cx="710.0" cy="367.9" r="2.25" fill="#feb72d"/><circle cx="722.2" cy="362.9" r="2.25" fill="#fdcb26"/><circle cx="725.6" cy="355.2" r="2.25" fill="#fbd524"/><circle cx="731.2" cy="361.0" r="2.25" fill="#fad824"/><circle cx="734.4" cy="363.1" r="2.25" fill="#fcd025"/><circle cx="736.2" cy="364.4" r="2.25" fill="#fbd324"/><circle cx="734.8" cy="367.5" r="2.25" fill="#fcd025"/><circle cx="733.1" cy="366.5" r="2.25" fill="#feb72d"/><circle cx="741.9" cy="365.4" r="2.25" fill="#fdac33"/><circle cx="745.6" cy="366.0" r="2.25" fill="#eb7556"/><circle cx="748.1" cy="369.4" r="2.25" fill="#fba238"/><circle cx="505.2" cy="375.0" r="2.25" fill="#fa9e3b"/><circle cx="506.0" cy="378.1" r="2.25" fill="#fdae32"/><circle cx="510.6" cy="375.6" r="2.25" fill="#fca934"/><circle cx="514.4" cy="376.0" r="2.25" fill="#f6e826"/><circle cx="517.1" cy="376.5" r="2.25" fill="#f8df25"/><circle cx="529.4" cy="374.6" r="2.25" fill="#f89540"/><circle cx="533.1" cy="377.8" r="2.25" fill="#fca835"/><circle cx="534.4" cy="371.5" r="2.25" fill="#fdac33"/><circle cx="538.5" cy="370.6" r="2.25" fill="#fdae32"/><circle cx="541.0" cy="376.2" r="2.25" fill="#f0804e"/><circle cx="523.8" cy="377.5" r="2.25" fill="#fcce25"/><circle cx="521.9" cy="381.2" r="2.25" fill="#eb7556"/><circle cx="523.8" cy="381.2" r="2.25" fill="#fdb22f"/><circle cx="545.6" cy="379.6" r="2.25" fill="#fca934"/><circle cx="548.1" cy="374.0" r="2.25" fill="#f8e125"/><circle cx="553.1" cy="372.1" r="2.25" fill="#fad824"/><circle cx="556.2" cy="372.5" r="2.25" fill="#f99a3e"/><circle cx="557.8" cy="378.8" r="2.25" fill="#f9dc24"/><circle cx="564.0" cy="370.2" r="2.25" fill="#feba2c"/><circle cx="566.2" cy="374.8" r="2.25" fill="#fb9f3a"/><circle cx="575.0" cy="373.8" r="2.25" fill="#fbd724"/><circle cx="580.0" cy="376.9" r="2.25" fill="#f6e626"/><circle cx="582.9" cy="378.8" r="2.25" fill="#f8df25"/><circle cx="586.2" cy="376.9" r="2.25" fill="#fdaf31"/><circle cx="588.5" cy="374.8" r="2.25" fill="#fbd324"/><circle cx="592.0" cy="378.8" r="2.25" fill="#feba2c"/><circle cx="618.5" cy="372.8" r="2.25" fill="#fdab33"/><circle cx="624.4" cy="373.8" r="2.25" fill="#fca537"/><circle cx="628.5" cy="373.5" r="2.25" fill="#fdb22f"/><circle cx="629.4" cy="371.2" r="2.25" fill="#fdb130"/><circle cx="609.1" cy="381.2" r="2.25" fill="#fca338"/><circle cx="634.4" cy="381.2" r="2.25" fill="#fbd524"/><circle cx="638.1" cy="375.9" r="2.25" fill="#fca835"/><circle cx="645.6" cy="380.0" r="2.25" fill="#eb7655"/><circle cx="648.5" cy="373.5" r="2.25" fill="#fccd25"/><circle cx="652.8" cy="371.9" r="2.25" fill="#f8e125"/><circle cx="658.8" cy="375.6" r="2.25" fill="#f7e225"/><circle cx="662.1" cy="377.8" r="2.25" fill="#fca934"/><circle cx="668.1" cy="378.8" r="2.25" fill="#fca338"/><circle cx="676.0" cy="371.9" r="2.25" fill="#fca835"/><circle cx="676.2" cy="381.5" r="2.25" fill="#fa9e3b"/><circle cx="679.4" cy="378.4" r="2.25" fill="#f48849"/><circle cx="682.8" cy="375.9" r="2.25" fill="#fbd724"/><circle cx="678.5" cy="382.2" r="2.25" fill="#f8e125"/><circle cx="684.0" cy="384.4" r="2.25" fill="#fccd25"/><circle cx="690.9" cy="380.2" r="2.25" fill="#fbd324"/><circle cx="693.5" cy="376.5" r="2.25" fill="#fada24"/><circle cx="698.8" cy="371.0" r="2.25" fill="#f7e225"/><circle cx="699.6" cy="377.8" r="2.25" fill="#f7e225"/><circle cx="710.9" cy="372.9" r="2.25" fill="#e76e5b"/><circle cx="714.4" cy="374.6" r="2.25" fill="#f9983e"/><circle cx="710.4" cy="376.6" r="2.25" fill="#f7e225"/><circle cx="719.0" cy="373.8" r="2.25" fill="#f8df25"/><circle cx="721.0" cy="374.4" r="2.25" fill="#fdcb26"/><circle cx="727.5" cy="378.8" r="2.25" fill="#fdca26"/><circle cx="727.8" cy="381.5" r="2.25" fill="#fbd524"/><circle cx="726.9" cy="383.1" r="2.25" fill="#fca934"/><circle cx="737.2" cy="374.8" r="2.25" fill="#f9983e"/><circle cx="738.8" cy="376.5" r="2.25" fill="#fca537"/><circle cx="742.2" cy="372.2" r="2.25" fill="#fbd724"/><circle cx="743.8" cy="378.1" r="2.25" fill="#fcce25"/><circle cx="748.1" cy="376.2" r="2.25" fill="#fdac33"/><circle cx="749.1" cy="381.6" r="2.25" fill="#c43e7f"/><circle cx="745.0" cy="384.1" r="2.25" fill="#febd2a"/><circle cx="515.4" cy="386.2" r="2.25" fill="#f9dd25"/><circle cx="524.4" cy="388.1" r="2.25" fill="#fca537"/><circle cx="535.6" cy="387.2" r="2.25" fill="#fcce25"/><circle cx="554.1" cy="386.2" r="2.25" fill="#fcd025"/><circle cx="562.0" cy="391.5" r="2.25" fill="#f9dd25"/><circle cx="572.2" cy="384.4" r="2.25" fill="#f7e425"/><circle cx="571.9" cy="385.0" r="2.25" fill="#fca835"/><circle cx="607.2" cy="387.5" r="2.25" fill="#fa9b3d"/><circle cx="606.6" cy="392.5" r="2.25" fill="#febb2b"/><circle cx="615.0" cy="387.9" r="2.25" fill="#fdb22f"/><circle cx="646.2" cy="386.2" r="2.25" fill="#fbd724"/><circle cx="651.9" cy="383.5" r="2.25" fill="#f7e225"/><circle cx="651.9" cy="386.9" r="2.25" fill="#feba2c"/><circle cx="659.0" cy="390.6" r="2.25" fill="#fdb22f"/><circle cx="674.8" cy="388.8" r="2.25" fill="#fca934"/><circle cx="684.5" cy="387.5" r="2.25" fill="#f99a3e"/><circle cx="682.9" cy="394.0" r="2.25" fill="#f6e626"/><circle cx="688.4" cy="392.2" r="2.25" fill="#e97158"/><circle cx="701.5" cy="386.9" r="2.25" fill="#f9dd25"/><circle cx="697.2" cy="394.8" r="2.25" fill="#fdb130"/><circle cx="715.4" cy="387.5" r="2.25" fill="#febd2a"/><circle cx="716.5" cy="392.8" r="2.25" fill="#fcce25"/><circle cx="725.0" cy="390.2" r="2.25" fill="#fdb52e"/><circle cx="507.2" cy="398.5" r="2.25" fill="#fca537"/><circle cx="540.6" cy="399.4" r="2.25" fill="#f7e225"/><circle cx="546.0" cy="402.2" r="2.25" fill="#f9dd25"/><circle cx="573.8" cy="397.2" r="2.25" fill="#fdb42f"/><circle cx="575.6" cy="397.5" r="2.25" fill="#fdcb26"/><circle cx="594.6" cy="396.2" r="2.25" fill="#fbd724"/><circle cx="602.8" cy="401.5" r="2.25" fill="#f48849"/><circle cx="614.1" cy="402.9" r="2.25" fill="#fad824"/><circle cx="625.0" cy="399.6" r="2.25" fill="#fad824"/><circle cx="627.5" cy="402.5" r="2.25" fill="#fbd524"/><circle cx="654.6" cy="401.2" r="2.25" fill="#fbd324"/><circle cx="655.4" cy="401.9" r="2.25" fill="#f9dc24"/><circle cx="663.4" cy="401.2" r="2.25" fill="#febd2a"/><circle cx="668.5" cy="396.5" r="2.25" fill="#fba238"/><circle cx="669.4" cy="401.0" r="2.25" fill="#fba139"/><circle cx="693.1" cy="402.8" r="2.25" fill="#fdac33"/><circle cx="697.9" cy="402.1" r="2.25" fill="#fdcb26"/><circle cx="731.0" cy="398.1" r="2.25" fill="#ed7a52"/><circle cx="728.5" cy="402.8" r="2.25" fill="#eb7655"/><circle cx="502.1" cy="408.8" r="2.25" fill="#fada24"/><circle cx="512.9" cy="408.1" r="2.25" fill="#fba238"/><circle cx="518.1" cy="408.1" r="2.25" fill="#fcd025"/><circle cx="518.5" cy="411.0" r="2.25" fill="#f8df25"/><circle cx="518.8" cy="413.1" r="2.25" fill="#fada24"/><circle cx="508.1" cy="416.2" r="2.25" fill="#fada24"/><circle cx="510.6" cy="416.5" r="2.25" fill="#fbd324"/><circle cx="521.2" cy="418.1" r="2.25" fill="#fdab33"/><circle cx="529.4" cy="416.0" r="2.25" fill="#fcd025"/><circle cx="536.5" cy="414.8" r="2.25" fill="#fcd225"/><circle cx="539.5" cy="409.8" r="2.25" fill="#f9dd25"/><circle cx="545.6" cy="414.0" r="2.25" fill="#fcce25"/><circle cx="553.1" cy="408.8" r="2.25" fill="#f3874a"/><circle cx="574.8" cy="404.6" r="2.25" fill="#f3874a"/><circle cx="580.0" cy="404.4" r="2.25" fill="#fbd524"/><circle cx="582.6" cy="408.5" r="2.25" fill="#fbd324"/><circle cx="595.0" cy="408.1" r="2.25" fill="#fad824"/><circle cx="600.9" cy="409.8" r="2.25" fill="#fdb130"/><circle cx="599.6" cy="413.1" r="2.25" fill="#ef7c51"/><circle cx="598.8" cy="416.9" r="2.25" fill="#f2844b"/><circle cx="597.8" cy="413.5" r="2.25" fill="#fbd524"/><circle cx="595.2" cy="418.8" r="2.25" fill="#f9dc24"/><circle cx="592.1" cy="420.0" r="2.25" fill="#f89540"/><circle cx="606.2" cy="410.6" r="2.25" fill="#f58b47"/><circle cx="611.0" cy="408.1" r="2.25" fill="#fca934"/><circle cx="611.2" cy="415.4" r="2.25" fill="#f07f4f"/><circle cx="606.6" cy="417.5" r="2.25" fill="#fad824"/><circle cx="618.5" cy="415.4" r="2.25" fill="#fbd724"/><circle cx="614.8" cy="420.0" r="2.25" fill="#fdb22f"/><circle cx="625.0" cy="421.0" r="2.25" fill="#feba2c"/><circle cx="644.0" cy="404.4" r="2.25" fill="#f99a3e"/><circle cx="645.4" cy="406.2" r="2.25" fill="#f89540"/><circle cx="641.2" cy="409.8" r="2.25" fill="#f8e125"/><circle cx="646.9" cy="410.2" r="2.25" fill="#ee7b51"/><circle cx="650.0" cy="410.6" r="2.25" fill="#fdcb26"/><circle cx="653.8" cy="410.6" r="2.25" fill="#febb2b"/><circle cx="648.1" cy="419.4" r="2.25" fill="#f6e626"/><circle cx="661.9" cy="411.2" r="2.25" fill="#fdaf31"/><circle cx="659.0" cy="415.0" r="2.25" fill="#fdb52e"/><circle cx="661.2" cy="418.1" r="2.25" fill="#fca636"/><circle cx="670.6" cy="404.1" r="2.25" fill="#f8e125"/><circle cx="672.2" cy="405.0" r="2.25" fill="#fca636"/><circle cx="678.1" cy="404.0" r="2.25" fill="#f9dc24"/><circle cx="681.2" cy="408.5" r="2.25" fill="#fca338"/><circle cx="682.5" cy="410.2" r="2.25" fill="#feb72d"/><circle cx="671.0" cy="416.5" r="2.25" fill="#fcd025"/><circle cx="677.5" cy="416.2" r="2.25" fill="#fa9b3d"/><circle cx="683.1" cy="418.1" r="2.25" fill="#f8df25"/><circle cx="684.8" cy="415.6" r="2.25" fill="#fada24"/><circle cx="688.8" cy="414.0" r="2.25" fill="#feb82c"/><circle cx="690.9" cy="418.1" r="2.25" fill="#feb82c"/><circle cx="690.6" cy="407.5" r="2.25" fill="#f8e125"/><circle cx="703.8" cy="406.2" r="2.25" fill="#f9dc24"/><circle cx="707.9" cy="404.4" r="2.25" fill="#f8e125"/><circle cx="711.6" cy="404.4" r="2.25" fill="#fada24"/><circle cx="715.0" cy="402.8" r="2.25" fill="#fca338"/><circle cx="703.1" cy="410.0" r="2.25" fill="#f9dc24"/><circle cx="707.5" cy="410.0" r="2.25" fill="#f99a3e"/><circle cx="711.2" cy="412.2" r="2.25" fill="#f3874a"/><circle cx="713.1" cy="409.8" r="2.25" fill="#fccd25"/><circle cx="717.2" cy="409.8" r="2.25" fill="#b83289"/><circle cx="721.9" cy="409.8" r="2.25" fill="#fdab33"/><circle cx="702.5" cy="414.4" r="2.25" fill="#fada24"/><circle cx="716.2" cy="415.6" r="2.25" fill="#feb72d"/><circle cx="720.0" cy="415.0" r="2.25" fill="#fbd324"/><circle cx="722.2" cy="413.1" r="2.25" fill="#fca338"/><circle cx="726.9" cy="414.0" r="2.25" fill="#fbd524"/><circle cx="729.0" cy="412.5" r="2.25" fill="#feb72d"/><circle cx="733.1" cy="408.8" r="2.25" fill="#f9dc24"/><circle cx="736.2" cy="406.2" r="2.25" fill="#fccd25"/><circle cx="742.9" cy="404.8" r="2.25" fill="#f6e626"/><circle cx="748.5" cy="405.2" r="2.25" fill="#fdcb26"/><circle cx="746.9" cy="410.0" r="2.25" fill="#f9dd25"/><circle cx="741.9" cy="412.8" r="2.25" fill="#f99a3e"/><circle cx="742.2" cy="414.0" r="2.25" fill="#ec7754"/><circle cx="704.4" cy="419.6" r="2.25" fill="#f7e425"/><circle cx="720.0" cy="419.6" r="2.25" fill="#fdb22f"/><circle cx="566.9" cy="421.9" r="2.25" fill="#fdb52e"/><circle cx="673.1" cy="421.2" r="2.25" fill="#f9dd25"/><circle cx="664.0" cy="426.2" r="2.25" fill="#febb2b"/><circle cx="665.0" cy="426.9" r="2.25" fill="#f6e826"/><circle cx="741.9" cy="421.6" r="2.25" fill="#fdae32"/><circle cx="741.5" cy="436.5" r="2.25" fill="#f8e125"/><circle cx="799.8" cy="208.8" r="2.25" fill="#fccd25"/><circle cx="841.0" cy="256.6" r="2.25" fill="#fca636"/><circle cx="885.6" cy="255.4" r="2.25" fill="#fca537"/><circle cx="885.9" cy="263.5" r="2.25" fill="#f9dd25"/><circle cx="879.4" cy="265.9" r="2.25" fill="#f7e225"/><circle cx="874.8" cy="268.5" r="2.25" fill="#fdb52e"/><circle cx="871.9" cy="270.2" r="2.25" fill="#febb2b"/><circle cx="882.2" cy="271.4" r="2.25" fill="#fbd324"/><circle cx="838.9" cy="270.4" r="2.25" fill="#fca338"/><circle cx="819.6" cy="272.1" r="2.25" fill="#fca537"/><circle cx="809.4" cy="275.4" r="2.25" fill="#fdcb26"/><circle cx="806.5" cy="279.5" r="2.25" fill="#fada24"/><circle cx="788.8" cy="279.5" r="2.25" fill="#fdae32"/><circle cx="949.4" cy="260.4" r="2.25" fill="#f6e626"/><circle cx="919.5" cy="271.6" r="2.25" fill="#fbd724"/><circle cx="939.4" cy="274.4" r="2.25" fill="#fccd25"/><circle cx="907.8" cy="277.6" r="2.25" fill="#ef7e50"/><circle cx="929.0" cy="280.4" r="2.25" fill="#fbd324"/><circle cx="958.8" cy="274.8" r="2.25" fill="#feb72d"/><circle cx="956.5" cy="279.6" r="2.25" fill="#fcce25"/><circle cx="966.2" cy="279.6" r="2.25" fill="#fca934"/><circle cx="974.6" cy="282.2" r="2.25" fill="#fca338"/><circle cx="992.9" cy="275.4" r="2.25" fill="#e76f5a"/><circle cx="988.8" cy="286.5" r="2.25" fill="#fba238"/><circle cx="949.1" cy="286.0" r="2.25" fill="#fca537"/><circle cx="916.2" cy="283.5" r="2.25" fill="#f9dd25"/><circle cx="915.9" cy="287.9" r="2.25" fill="#fbd724"/><circle cx="880.9" cy="282.1" r="2.25" fill="#fdab33"/><circle cx="883.1" cy="284.8" r="2.25" fill="#f8e125"/><circle cx="879.4" cy="287.5" r="2.25" fill="#fcd225"/><circle cx="858.8" cy="287.9" r="2.25" fill="#fca636"/><circle cx="833.5" cy="285.2" r="2.25" fill="#fcd025"/><circle cx="831.2" cy="289.4" r="2.25" fill="#febd2a"/><circle cx="824.8" cy="290.0" r="2.25" fill="#fb9f3a"/><circle cx="824.0" cy="283.1" r="2.25" fill="#febb2b"/><circle cx="810.0" cy="290.2" r="2.25" fill="#fdab33"/><circle cx="815.0" cy="291.6" r="2.25" fill="#f1814d"/><circle cx="791.2" cy="290.4" r="2.25" fill="#fdaf31"/><circle cx="780.6" cy="288.1" r="2.25" fill="#fa9b3d"/><circle cx="773.8" cy="284.8" r="2.25" fill="#f89540"/><circle cx="772.5" cy="290.8" r="2.25" fill="#febd2a"/><circle cx="775.4" cy="295.4" r="2.25" fill="#f6e626"/><circle cx="751.5" cy="284.5" r="2.25" fill="#f89540"/><circle cx="760.0" cy="291.0" r="2.25" fill="#fdb22f"/><circle cx="762.2" cy="292.2" r="2.25" fill="#feb72d"/><circle cx="758.8" cy="295.0" r="2.25" fill="#fdb130"/><circle cx="926.2" cy="290.9" r="2.25" fill="#fada24"/><circle cx="933.8" cy="291.2" r="2.25" fill="#fca338"/><circle cx="938.1" cy="295.9" r="2.25" fill="#fa9c3c"/><circle cx="942.5" cy="298.1" r="2.25" fill="#febd2a"/><circle cx="976.2" cy="292.0" r="2.25" fill="#fdae32"/><circle cx="970.2" cy="295.0" r="2.25" fill="#ed7953"/><circle cx="972.9" cy="295.9" r="2.25" fill="#fada24"/><circle cx="995.0" cy="294.8" r="2.25" fill="#fcd225"/><circle cx="995.6" cy="296.0" r="2.25" fill="#fdab33"/><circle cx="990.6" cy="298.4" r="2.25" fill="#fcce25"/><circle cx="999.1" cy="293.8" r="2.25" fill="#fdcb26"/><circle cx="980.6" cy="300.4" r="2.25" fill="#ba3388"/><circle cx="953.5" cy="301.2" r="2.25" fill="#fca537"/><circle cx="953.8" cy="306.2" r="2.25" fill="#fca636"/><circle cx="944.4" cy="306.2" r="2.25" fill="#fccd25"/><circle cx="931.0" cy="297.8" r="2.25" fill="#fada24"/><circle cx="926.9" cy="300.4" r="2.25" fill="#f48948"/><circle cx="928.8" cy="300.6" r="2.25" fill="#fada24"/><circle cx="920.2" cy="302.2" r="2.25" fill="#fad824"/><circle cx="910.6" cy="302.2" r="2.25" fill="#fb9f3a"/><circle cx="905.0" cy="299.4" r="2.25" fill="#feb82c"/><circle cx="902.2" cy="295.6" r="2.25" fill="#f8e125"/><circle cx="899.6" cy="303.1" r="2.25" fill="#ef7c51"/><circle cx="898.1" cy="304.4" r="2.25" fill="#f7e425"/><circle cx="895.0" cy="302.2" r="2.25" fill="#fdae32"/><circle cx="887.9" cy="297.8" r="2.25" fill="#febd2a"/><circle cx="884.4" cy="304.8" r="2.25" fill="#fcd225"/><circle cx="877.8" cy="303.2" r="2.25" fill="#cc4778"/><circle cx="868.5" cy="296.9" r="2.25" fill="#fca934"/><circle cx="867.1" cy="299.8" r="2.25" fill="#fca835"/><circle cx="864.8" cy="305.0" r="2.25" fill="#fa9b3d"/><circle cx="858.5" cy="300.6" r="2.25" fill="#fbd524"/><circle cx="850.4" cy="297.2" r="2.25" fill="#fbd724"/><circle cx="842.5" cy="300.4" r="2.25" fill="#fdae32"/><circle cx="846.2" cy="304.0" r="2.25" fill="#f8e125"/><circle cx="847.5" cy="306.2" r="2.25" fill="#f8e125"/><circle cx="839.8" cy="306.9" r="2.25" fill="#fa9e3b"/><circle cx="841.5" cy="309.4" r="2.25" fill="#cb4679"/><circle cx="846.2" cy="311.2" r="2.25" fill="#c13b82"/><circle cx="843.5" cy="314.6" r="2.25" fill="#fcce25"/><circle cx="835.4" cy="296.2" r="2.25" fill="#f9dc24"/><circle cx="832.9" cy="308.8" r="2.25" fill="#feb72d"/><circle cx="832.8" cy="311.2" r="2.25" fill="#f9973f"/><circle cx="857.9" cy="310.9" r="2.25" fill="#fcce25"/><circle cx="866.5" cy="313.2" r="2.25" fill="#fca338"/><circle cx="866.5" cy="316.9" r="2.25" fill="#fdb130"/><circle cx="854.8" cy="315.4" r="2.25" fill="#feba2c"/><circle cx="880.6" cy="316.0" r="2.25" fill="#ee7b51"/><circle cx="875.4" cy="311.2" r="2.25" fill="#fcd225"/><circle cx="879.4" cy="312.5" r="2.25" fill="#fad824"/><circle cx="886.9" cy="312.2" r="2.25" fill="#fdcb26"/><circle cx="891.0" cy="317.5" r="2.25" fill="#f7e225"/><circle cx="896.5" cy="311.2" r="2.25" fill="#fdcb26"/><circle cx="904.8" cy="311.0" r="2.25" fill="#f7e425"/><circle cx="907.9" cy="307.9" r="2.25" fill="#fa9c3c"/><circle cx="904.0" cy="316.9" r="2.25" fill="#f7e425"/><circle cx="909.4" cy="316.9" r="2.25" fill="#f8e125"/><circle cx="915.0" cy="311.2" r="2.25" fill="#f9983e"/><circle cx="916.9" cy="313.8" r="2.25" fill="#fca636"/><circle cx="921.2" cy="312.5" r="2.25" fill="#feb82c"/><circle cx="925.4" cy="313.5" r="2.25" fill="#f48849"/><circle cx="920.6" cy="316.5" r="2.25" fill="#fccd25"/><circle cx="926.6" cy="319.1" r="2.25" fill="#f9983e"/><circle cx="944.4" cy="316.0" r="2.25" fill="#f6e826"/><circle cx="953.8" cy="316.2" r="2.25" fill="#fcd025"/><circle cx="955.6" cy="313.8" r="2.25" fill="#feba2c"/><circle cx="960.0" cy="318.1" r="2.25" fill="#fb9f3a"/><circle cx="965.0" cy="312.1" r="2.25" fill="#fbd524"/><circle cx="965.0" cy="314.0" r="2.25" fill="#f9dd25"/><circle cx="977.2" cy="315.2" r="2.25" fill="#f9dc24"/><circle cx="980.0" cy="312.9" r="2.25" fill="#fdb52e"/><circle cx="976.5" cy="318.1" r="2.25" fill="#d45270"/><circle cx="987.2" cy="315.2" r="2.25" fill="#fca338"/><circle cx="993.8" cy="305.6" r="2.25" fill="#fcd025"/><circle cx="996.0" cy="305.4" r="2.25" fill="#fdac33"/><circle cx="999.1" cy="306.0" r="2.25" fill="#fcce25"/><circle cx="999.4" cy="300.6" r="2.25" fill="#fccd25"/><circle cx="999.8" cy="316.9" r="2.25" fill="#febb2b"/><circle cx="816.5" cy="304.1" r="2.25" fill="#fad824"/><circle cx="805.9" cy="305.8" r="2.25" fill="#fa9b3d"/><circle cx="792.5" cy="297.5" r="2.25" fill="#fada24"/><circle cx="792.9" cy="298.8" r="2.25" fill="#f7e425"/><circle cx="786.9" cy="304.0" r="2.25" fill="#f6e826"/><circle cx="782.2" cy="301.0" r="2.25" fill="#e76e5b"/><circle cx="781.2" cy="305.2" r="2.25" fill="#fbd524"/><circle cx="756.9" cy="305.0" r="2.25" fill="#eb7655"/><circle cx="755.0" cy="304.4" r="2.25" fill="#c5407e"/><circle cx="753.1" cy="309.0" r="2.25" fill="#fca835"/><circle cx="756.2" cy="310.2" r="2.25" fill="#fdab33"/><circle cx="754.0" cy="313.8" r="2.25" fill="#f99a3e"/><circle cx="750.6" cy="301.0" r="2.25" fill="#f3874a"/><circle cx="785.9" cy="312.9" r="2.25" fill="#fba238"/><circle cx="790.0" cy="315.2" r="2.25" fill="#e87059"/><circle cx="795.6" cy="315.2" r="2.25" fill="#fca338"/><circle cx="801.2" cy="316.9" r="2.25" fill="#fdae32"/><circle cx="798.1" cy="319.0" r="2.25" fill="#fdb22f"/><circle cx="824.4" cy="319.1" r="2.25" fill="#f8df25"/><circle cx="828.8" cy="319.1" r="2.25" fill="#f89540"/><circle cx="835.6" cy="319.4" r="2.25" fill="#f8df25"/><circle cx="767.5" cy="321.9" r="2.25" fill="#fada24"/><circle cx="771.0" cy="325.2" r="2.25" fill="#fad824"/><circle cx="767.5" cy="331.9" r="2.25" fill="#fbd324"/><circle cx="760.6" cy="327.8" r="2.25" fill="#fca537"/><circle cx="763.1" cy="327.8" r="2.25" fill="#fdb130"/><circle cx="751.2" cy="336.2" r="2.25" fill="#fdcb26"/><circle cx="784.4" cy="321.2" r="2.25" fill="#f8e125"/><circle cx="796.9" cy="320.6" r="2.25" fill="#fca636"/><circle cx="800.0" cy="320.6" r="2.25" fill="#fdca26"/><circle cx="802.5" cy="324.4" r="2.25" fill="#fada24"/><circle cx="796.5" cy="328.5" r="2.25" fill="#fad824"/><circle cx="795.6" cy="332.5" r="2.25" fill="#fca835"/><circle cx="803.1" cy="331.9" r="2.25" fill="#febb2b"/><circle cx="805.0" cy="334.4" r="2.25" fill="#fdb22f"/><circle cx="796.2" cy="336.2" r="2.25" fill="#fbd724"/><circle cx="792.5" cy="338.1" r="2.25" fill="#fbd524"/><circle cx="779.4" cy="335.6" r="2.25" fill="#f9983e"/><circle cx="783.1" cy="334.4" r="2.25" fill="#fca835"/><circle cx="780.6" cy="336.9" r="2.25" fill="#f7e225"/><circle cx="810.9" cy="333.8" r="2.25" fill="#febb2b"/><circle cx="815.0" cy="322.2" r="2.25" fill="#fcd025"/><circle cx="816.2" cy="329.8" r="2.25" fill="#f99a3e"/><circle cx="825.0" cy="321.9" r="2.25" fill="#fba139"/><circle cx="828.8" cy="321.2" r="2.25" fill="#feb82c"/><circle cx="827.2" cy="324.4" r="2.25" fill="#fcce25"/><circle cx="831.9" cy="325.2" r="2.25" fill="#f6e826"/><circle cx="835.6" cy="321.0" r="2.25" fill="#fada24"/><circle cx="835.4" cy="327.8" r="2.25" fill="#fdb52e"/><circle cx="825.0" cy="329.4" r="2.25" fill="#fca338"/><circle cx="824.8" cy="331.5" r="2.25" fill="#fa9b3d"/><circle cx="818.8" cy="336.9" r="2.25" fill="#f9983e"/><circle cx="820.6" cy="339.4" r="2.25" fill="#f2844b"/><circle cx="816.9" cy="340.2" r="2.25" fill="#f99a3e"/><circle cx="843.5" cy="334.4" r="2.25" fill="#fdb22f"/><circle cx="851.0" cy="333.8" r="2.25" fill="#fca835"/><circle cx="850.0" cy="337.5" r="2.25" fill="#fccd25"/><circle cx="847.9" cy="338.1" r="2.25" fill="#f8df25"/><circle cx="853.8" cy="340.4" r="2.25" fill="#f89540"/><circle cx="860.0" cy="336.0" r="2.25" fill="#fba139"/><circle cx="856.0" cy="322.5" r="2.25" fill="#fcd025"/><circle cx="869.8" cy="324.4" r="2.25" fill="#f3874a"/><circle cx="875.6" cy="321.5" r="2.25" fill="#f99a3e"/><circle cx="880.2" cy="324.4" r="2.25" fill="#fad824"/><circle cx="879.4" cy="326.5" r="2.25" fill="#c43e7f"/><circle cx="878.1" cy="331.5" r="2.25" fill="#fca338"/><circle cx="878.5" cy="334.4" r="2.25" fill="#c8437b"/><circle cx="884.8" cy="329.4" r="2.25" fill="#ea7457"/><circle cx="886.5" cy="332.2" r="2.25" fill="#f7e425"/><circle cx="898.5" cy="327.1" r="2.25" fill="#ed7953"/><circle cx="902.2" cy="324.4" r="2.25" fill="#f8df25"/><circle cx="905.6" cy="322.8" r="2.25" fill="#fa9b3d"/><circle cx="898.1" cy="332.8" r="2.25" fill="#feb72d"/><circle cx="909.4" cy="331.0" r="2.25" fill="#fdcb26"/><circle cx="911.2" cy="332.2" r="2.25" fill="#fbd324"/><circle cx="918.8" cy="333.1" r="2.25" fill="#fdab33"/><circle cx="923.8" cy="337.2" r="2.25" fill="#fa9c3c"/><circle cx="926.6" cy="341.2" r="2.25" fill="#f6e826"/><circle cx="926.2" cy="320.6" r="2.25" fill="#fa9e3b"/><circle cx="929.8" cy="325.2" r="2.25" fill="#fcce25"/><circle cx="934.4" cy="322.5" r="2.25" fill="#fcd025"/><circle cx="936.0" cy="329.0" r="2.25" fill="#fbd324"/><circle cx="931.9" cy="334.8" r="2.25" fill="#fbd524"/><circle cx="941.6" cy="322.2" r="2.25" fill="#febb2b"/><circle cx="943.8" cy="331.2" r="2.25" fill="#fdb130"/><circle cx="946.9" cy="329.8" r="2.25" fill="#fcce25"/><circle cx="942.5" cy="336.0" r="2.25" fill="#ec7754"/><circle cx="951.2" cy="327.8" r="2.25" fill="#fca537"/><circle cx="956.5" cy="331.5" r="2.25" fill="#fbd324"/><circle cx="959.4" cy="321.2" r="2.25" fill="#fcce25"/><circle cx="966.2" cy="326.0" r="2.25" fill="#f58b47"/><circle cx="967.8" cy="324.4" r="2.25" fill="#be3885"/><circle cx="980.0" cy="331.0" r="2.25" fill="#f7e225"/><circle cx="982.5" cy="332.2" r="2.25" fill="#f7e225"/><circle cx="976.9" cy="340.0" r="2.25" fill="#fa9b3d"/><circle cx="979.4" cy="342.5" r="2.25" fill="#fccd25"/><circle cx="992.9" cy="339.0" r="2.25" fill="#f8e125"/><circle cx="751.9" cy="345.0" r="2.25" fill="#f8df25"/><circle cx="765.6" cy="350.2" r="2.25" fill="#fca835"/><circle cx="760.6" cy="353.1" r="2.25" fill="#f6e626"/><circle cx="774.1" cy="347.2" r="2.25" fill="#fca835"/><circle cx="787.8" cy="343.8" r="2.25" fill="#febd2a"/><circle cx="793.5" cy="344.8" r="2.25" fill="#fca636"/><circle cx="799.8" cy="344.5" r="2.25" fill="#f8e125"/><circle cx="802.9" cy="349.0" r="2.25" fill="#f8e125"/><circle cx="814.4" cy="345.6" r="2.25" fill="#febd2a"/><circle cx="826.6" cy="345.6" r="2.25" fill="#f89540"/><circle cx="874.8" cy="342.2" r="2.25" fill="#fdab33"/><circle cx="868.8" cy="348.5" r="2.25" fill="#fcce25"/><circle cx="884.0" cy="352.8" r="2.25" fill="#f9983e"/><circle cx="906.9" cy="343.1" r="2.25" fill="#fba238"/><circle cx="920.2" cy="347.2" r="2.25" fill="#febd2a"/><circle cx="902.2" cy="351.5" r="2.25" fill="#fcce25"/><circle cx="906.2" cy="354.4" r="2.25" fill="#f7e425"/><circle cx="953.1" cy="346.2" r="2.25" fill="#f9983e"/><circle cx="960.4" cy="342.5" r="2.25" fill="#fdb52e"/><circle cx="965.9" cy="342.5" r="2.25" fill="#fdb22f"/><circle cx="959.0" cy="350.4" r="2.25" fill="#ee7b51"/><circle cx="978.5" cy="348.5" r="2.25" fill="#f7e225"/><circle cx="992.2" cy="351.9" r="2.25" fill="#fccd25"/><circle cx="998.8" cy="345.0" r="2.25" fill="#f6e626"/><circle cx="778.8" cy="353.8" r="2.25" fill="#f9dc24"/><circle cx="787.5" cy="353.1" r="2.25" fill="#fbd724"/><circle cx="801.5" cy="353.8" r="2.25" fill="#f6e626"/><circle cx="768.5" cy="356.0" r="2.25" fill="#fdac33"/><circle cx="778.8" cy="357.5" r="2.25" fill="#f6e626"/><circle cx="786.5" cy="358.1" r="2.25" fill="#f9973f"/><circle cx="790.0" cy="356.2" r="2.25" fill="#fbd724"/><circle cx="792.2" cy="356.6" r="2.25" fill="#fad824"/><circle cx="801.9" cy="356.0" r="2.25" fill="#fca934"/><circle cx="818.8" cy="355.2" r="2.25" fill="#fccd25"/><circle cx="779.4" cy="364.1" r="2.25" fill="#fa9b3d"/><circle cx="792.9" cy="366.9" r="2.25" fill="#fca934"/><circle cx="796.0" cy="367.9" r="2.25" fill="#ed7a52"/><circle cx="799.6" cy="365.6" r="2.25" fill="#b7318a"/><circle cx="791.0" cy="370.6" r="2.25" fill="#f6e626"/><circle cx="794.8" cy="373.5" r="2.25" fill="#fad824"/><circle cx="801.6" cy="371.2" r="2.25" fill="#fca537"/><circle cx="806.2" cy="370.6" r="2.25" fill="#fdcb26"/><circle cx="811.0" cy="370.6" r="2.25" fill="#fbd724"/><circle cx="810.0" cy="367.5" r="2.25" fill="#feba2c"/><circle cx="813.5" cy="365.0" r="2.25" fill="#fa9c3c"/><circle cx="818.5" cy="368.1" r="2.25" fill="#fca537"/><circle cx="819.4" cy="369.0" r="2.25" fill="#fccd25"/><circle cx="824.4" cy="362.5" r="2.25" fill="#e76f5a"/><circle cx="825.0" cy="362.8" r="2.25" fill="#fccd25"/><circle cx="830.6" cy="365.0" r="2.25" fill="#fbd724"/><circle cx="828.5" cy="368.1" r="2.25" fill="#f3874a"/><circle cx="835.0" cy="362.5" r="2.25" fill="#fb9f3a"/><circle cx="836.2" cy="363.8" r="2.25" fill="#f9dc24"/><circle cx="776.0" cy="370.4" r="2.25" fill="#f8df25"/><circle cx="763.8" cy="370.6" r="2.25" fill="#fca338"/><circle cx="759.4" cy="372.2" r="2.25" fill="#fb9f3a"/><circle cx="753.8" cy="373.8" r="2.25" fill="#fbd524"/><circle cx="750.0" cy="369.4" r="2.25" fill="#e97257"/><circle cx="847.2" cy="357.8" r="2.25" fill="#fa9b3d"/><circle cx="855.6" cy="355.0" r="2.25" fill="#f9973f"/><circle cx="855.0" cy="358.8" r="2.25" fill="#f6e826"/><circle cx="856.0" cy="361.2" r="2.25" fill="#fbd524"/><circle cx="857.2" cy="363.1" r="2.25" fill="#fcce25"/><circle cx="850.0" cy="363.8" r="2.25" fill="#f9dd25"/><circle cx="855.0" cy="367.5" r="2.25" fill="#febd2a"/><circle cx="849.4" cy="370.4" r="2.25" fill="#fdca26"/><circle cx="860.2" cy="371.2" r="2.25" fill="#f3854b"/><circle cx="865.0" cy="373.8" r="2.25" fill="#fca338"/><circle cx="865.6" cy="367.2" r="2.25" fill="#f8e125"/><circle cx="866.0" cy="357.5" r="2.25" fill="#f89540"/><circle cx="871.2" cy="356.2" r="2.25" fill="#fca537"/><circle cx="872.2" cy="362.5" r="2.25" fill="#fad824"/><circle cx="878.1" cy="362.5" r="2.25" fill="#b83289"/><circle cx="880.0" cy="367.8" r="2.25" fill="#fb9f3a"/><circle cx="882.2" cy="370.0" r="2.25" fill="#fa9b3d"/><circle cx="884.0" cy="371.0" r="2.25" fill="#fca835"/><circle cx="889.4" cy="363.8" r="2.25" fill="#fb9f3a"/><circle cx="891.2" cy="368.5" r="2.25" fill="#fbd324"/><circle cx="891.9" cy="372.2" r="2.25" fill="#f1814d"/><circle cx="896.9" cy="363.8" r="2.25" fill="#fccd25"/><circle cx="899.8" cy="366.2" r="2.25" fill="#f6e826"/><circle cx="899.4" cy="370.0" r="2.25" fill="#fcce25"/><circle cx="901.2" cy="361.0" r="2.25" fill="#fa9c3c"/><circle cx="907.2" cy="359.1" r="2.25" fill="#fcd025"/><circle cx="907.8" cy="370.6" r="2.25" fill="#fdae32"/><circle cx="912.5" cy="364.4" r="2.25" fill="#ed7a52"/><circle cx="914.1" cy="368.5" r="2.25" fill="#f48849"/><circle cx="914.1" cy="357.1" r="2.25" fill="#fb9f3a"/><circle cx="920.6" cy="356.5" r="2.25" fill="#feba2c"/><circle cx="919.8" cy="367.9" r="2.25" fill="#f9973f"/><circle cx="923.5" cy="366.0" r="2.25" fill="#fcd025"/><circle cx="918.1" cy="370.6" r="2.25" fill="#fdac33"/><circle cx="928.8" cy="360.2" r="2.25" fill="#fdab33"/><circle cx="936.2" cy="363.8" r="2.25" fill="#febb2b"/><circle cx="934.4" cy="355.4" r="2.25" fill="#f6e626"/><circle cx="940.2" cy="355.6" r="2.25" fill="#fca537"/><circle cx="943.1" cy="367.8" r="2.25" fill="#fb9f3a"/><circle cx="948.8" cy="354.8" r="2.25" fill="#f7e225"/><circle cx="954.0" cy="359.0" r="2.25" fill="#fca338"/><circle cx="952.2" cy="364.4" r="2.25" fill="#fa9e3b"/><circle cx="950.6" cy="368.8" r="2.25" fill="#f3874a"/><circle cx="935.4" cy="370.6" r="2.25" fill="#fba139"/><circle cx="969.4" cy="366.2" r="2.25" fill="#f9dd25"/><circle cx="972.5" cy="358.1" r="2.25" fill="#fada24"/><circle cx="975.0" cy="361.9" r="2.25" fill="#fcce25"/><circle cx="978.1" cy="360.2" r="2.25" fill="#feba2c"/><circle cx="973.8" cy="365.0" r="2.25" fill="#f9983e"/><circle cx="976.0" cy="368.8" r="2.25" fill="#feb72d"/><circle cx="982.8" cy="364.0" r="2.25" fill="#f1814d"/><circle cx="986.5" cy="368.5" r="2.25" fill="#fad824"/><circle cx="970.2" cy="370.6" r="2.25" fill="#f9983e"/><circle cx="762.5" cy="378.8" r="2.25" fill="#feba2c"/><circle cx="762.5" cy="383.1" r="2.25" fill="#fb9f3a"/><circle cx="756.0" cy="384.8" r="2.25" fill="#f48948"/><circle cx="750.6" cy="381.5" r="2.25" fill="#f1814d"/><circle cx="769.4" cy="373.4" r="2.25" fill="#fccd25"/><circle cx="772.2" cy="374.8" r="2.25" fill="#fca537"/><circle cx="775.6" cy="376.9" r="2.25" fill="#f99a3e"/><circle cx="773.1" cy="381.9" r="2.25" fill="#fa9e3b"/><circle cx="773.8" cy="383.8" r="2.25" fill="#fdab33"/><circle cx="786.9" cy="381.5" r="2.25" fill="#fdac33"/><circle cx="796.5" cy="382.1" r="2.25" fill="#fdca26"/><circle cx="799.8" cy="379.4" r="2.25" fill="#ea7457"/><circle cx="804.4" cy="377.5" r="2.25" fill="#fdaf31"/><circle cx="817.5" cy="372.5" r="2.25" fill="#fccd25"/><circle cx="816.9" cy="382.1" r="2.25" fill="#fca338"/><circle cx="817.2" cy="385.6" r="2.25" fill="#fbd724"/><circle cx="824.6" cy="381.9" r="2.25" fill="#fdcb26"/><circle cx="829.4" cy="378.5" r="2.25" fill="#ea7457"/><circle cx="829.0" cy="384.8" r="2.25" fill="#fdac33"/><circle cx="835.0" cy="386.6" r="2.25" fill="#fdae32"/><circle cx="839.4" cy="375.2" r="2.25" fill="#f9983e"/><circle cx="845.0" cy="378.4" r="2.25" fill="#fbd524"/><circle cx="846.2" cy="376.9" r="2.25" fill="#fdae32"/><circle cx="848.8" cy="382.2" r="2.25" fill="#fa9c3c"/><circle cx="851.9" cy="375.6" r="2.25" fill="#ec7754"/><circle cx="852.5" cy="378.8" r="2.25" fill="#f8e125"/><circle cx="857.2" cy="378.8" r="2.25" fill="#fba238"/><circle cx="860.6" cy="378.8" r="2.25" fill="#f9973f"/><circle cx="866.0" cy="382.2" r="2.25" fill="#f48948"/><circle cx="866.2" cy="388.8" r="2.25" fill="#f48849"/><circle cx="870.6" cy="377.5" r="2.25" fill="#febb2b"/><circle cx="877.8" cy="377.5" r="2.25" fill="#f3874a"/><circle cx="883.5" cy="375.0" r="2.25" fill="#f89540"/><circle cx="883.1" cy="377.9" r="2.25" fill="#feb72d"/><circle cx="889.0" cy="385.6" r="2.25" fill="#fcce25"/><circle cx="893.5" cy="377.5" r="2.25" fill="#f9dc24"/><circle cx="900.2" cy="373.1" r="2.25" fill="#fba238"/><circle cx="902.5" cy="375.0" r="2.25" fill="#f9973f"/><circle cx="907.8" cy="371.2" r="2.25" fill="#febd2a"/><circle cx="919.4" cy="373.8" r="2.25" fill="#feba2c"/><circle cx="922.2" cy="373.8" r="2.25" fill="#fdb22f"/><circle cx="927.8" cy="371.2" r="2.25" fill="#fdcb26"/><circle cx="930.6" cy="377.8" r="2.25" fill="#feb82c"/><circle cx="927.8" cy="379.8" r="2.25" fill="#ec7754"/><circle cx="929.8" cy="383.8" r="2.25" fill="#e87059"/><circle cx="935.9" cy="375.0" r="2.25" fill="#fba139"/><circle cx="938.1" cy="383.4" r="2.25" fill="#fbd324"/><circle cx="943.5" cy="385.6" r="2.25" fill="#fcd225"/><circle cx="947.5" cy="386.5" r="2.25" fill="#f7e425"/><circle cx="946.5" cy="375.2" r="2.25" fill="#f8e125"/><circle cx="949.8" cy="372.8" r="2.25" fill="#f3874a"/><circle cx="953.1" cy="376.0" r="2.25" fill="#fca338"/><circle cx="960.0" cy="372.8" r="2.25" fill="#fdb130"/><circle cx="961.5" cy="376.2" r="2.25" fill="#f7e225"/><circle cx="965.2" cy="372.2" r="2.25" fill="#f9dd25"/><circle cx="962.8" cy="382.8" r="2.25" fill="#fcd025"/><circle cx="971.2" cy="375.0" r="2.25" fill="#feba2c"/><circle cx="978.5" cy="373.4" r="2.25" fill="#f8e125"/><circle cx="983.8" cy="376.0" r="2.25" fill="#fba238"/><circle cx="982.8" cy="379.8" r="2.25" fill="#fa9c3c"/><circle cx="989.0" cy="376.9" r="2.25" fill="#fa9b3d"/><circle cx="992.5" cy="381.2" r="2.25" fill="#fca636"/><circle cx="991.2" cy="373.5" r="2.25" fill="#fccd25"/><circle cx="997.2" cy="371.9" r="2.25" fill="#f48948"/><circle cx="999.4" cy="381.0" r="2.25" fill="#fa9c3c"/><circle cx="783.5" cy="390.2" r="2.25" fill="#fccd25"/><circle cx="789.8" cy="391.2" r="2.25" fill="#eb7655"/><circle cx="792.5" cy="389.0" r="2.25" fill="#fdb52e"/><circle cx="796.5" cy="392.2" r="2.25" fill="#f9dd25"/><circle cx="800.6" cy="387.8" r="2.25" fill="#fdaf31"/><circle cx="773.5" cy="395.6" r="2.25" fill="#fdcb26"/><circle cx="799.6" cy="395.6" r="2.25" fill="#f9dd25"/><circle cx="805.0" cy="395.6" r="2.25" fill="#fa9b3d"/><circle cx="810.0" cy="396.2" r="2.25" fill="#f0804e"/><circle cx="814.8" cy="398.8" r="2.25" fill="#fca537"/><circle cx="816.6" cy="393.8" r="2.25" fill="#fa9e3b"/><circle cx="801.2" cy="400.2" r="2.25" fill="#fa9b3d"/><circle cx="794.4" cy="402.2" r="2.25" fill="#f6e626"/><circle cx="805.4" cy="402.2" r="2.25" fill="#fcce25"/><circle cx="801.2" cy="405.6" r="2.25" fill="#fca934"/><circle cx="808.1" cy="405.4" r="2.25" fill="#f9983e"/><circle cx="808.8" cy="410.2" r="2.25" fill="#fdb52e"/><circle cx="843.1" cy="391.0" r="2.25" fill="#febd2a"/><circle cx="843.8" cy="395.6" r="2.25" fill="#fdb42f"/><circle cx="850.6" cy="398.8" r="2.25" fill="#f7e425"/><circle cx="846.9" cy="401.9" r="2.25" fill="#fdb22f"/><circle cx="848.1" cy="403.1" r="2.25" fill="#fbd724"/><circle cx="836.2" cy="406.2" r="2.25" fill="#f8df25"/><circle cx="818.8" cy="408.1" r="2.25" fill="#f3854b"/><circle cx="821.0" cy="408.5" r="2.25" fill="#f9973f"/><circle cx="876.0" cy="398.5" r="2.25" fill="#f7e225"/><circle cx="896.0" cy="402.5" r="2.25" fill="#fca537"/><circle cx="891.2" cy="406.2" r="2.25" fill="#fca835"/><circle cx="892.8" cy="407.5" r="2.25" fill="#f7e425"/><circle cx="880.0" cy="407.8" r="2.25" fill="#feb82c"/><circle cx="876.9" cy="411.0" r="2.25" fill="#f9dd25"/><circle cx="910.6" cy="408.4" r="2.25" fill="#fca835"/><circle cx="923.8" cy="403.1" r="2.25" fill="#c8437b"/><circle cx="937.5" cy="402.5" r="2.25" fill="#fb9f3a"/><circle cx="950.6" cy="406.0" r="2.25" fill="#f7e225"/><circle cx="952.5" cy="399.1" r="2.25" fill="#f7e225"/><circle cx="956.2" cy="398.1" r="2.25" fill="#f9973f"/><circle cx="968.8" cy="394.4" r="2.25" fill="#f07f4f"/><circle cx="962.2" cy="410.2" r="2.25" fill="#e76e5b"/><circle cx="970.0" cy="405.6" r="2.25" fill="#fca934"/><circle cx="975.0" cy="406.0" r="2.25" fill="#feba2c"/><circle cx="976.5" cy="404.4" r="2.25" fill="#fbd524"/><circle cx="985.6" cy="409.4" r="2.25" fill="#e76f5a"/><circle cx="993.1" cy="399.0" r="2.25" fill="#febb2b"/><circle cx="994.4" cy="400.0" r="2.25" fill="#fdb52e"/><circle cx="997.5" cy="403.1" r="2.25" fill="#f8e125"/><circle cx="753.1" cy="408.1" r="2.25" fill="#fa9e3b"/><circle cx="756.9" cy="410.2" r="2.25" fill="#f8df25"/><circle cx="759.4" cy="406.9" r="2.25" fill="#fdb22f"/><circle cx="761.5" cy="407.9" r="2.25" fill="#fdac33"/><circle cx="767.8" cy="409.6" r="2.25" fill="#f6e826"/><circle cx="851.0" cy="409.0" r="2.25" fill="#feb72d"/><circle cx="851.2" cy="411.2" r="2.25" fill="#fcd025"/><circle cx="856.2" cy="411.0" r="2.25" fill="#fca835"/><circle cx="861.2" cy="411.9" r="2.25" fill="#fdac33"/><circle cx="755.6" cy="415.0" r="2.25" fill="#f9dc24"/><circle cx="761.9" cy="418.4" r="2.25" fill="#fa9b3d"/><circle cx="758.5" cy="425.4" r="2.25" fill="#f9dc24"/><circle cx="775.2" cy="418.5" r="2.25" fill="#f6e626"/><circle cx="778.1" cy="416.9" r="2.25" fill="#fa9b3d"/><circle cx="781.9" cy="411.9" r="2.25" fill="#ed7953"/><circle cx="788.1" cy="412.5" r="2.25" fill="#f8df25"/><circle cx="792.5" cy="409.4" r="2.25" fill="#feb82c"/><circle cx="795.0" cy="408.8" r="2.25" fill="#fcd225"/><circle cx="801.0" cy="412.5" r="2.25" fill="#f99a3e"/><circle cx="802.5" cy="420.6" r="2.25" fill="#fdb52e"/><circle cx="810.6" cy="420.0" r="2.25" fill="#f7e225"/><circle cx="814.4" cy="420.0" r="2.25" fill="#f9dc24"/><circle cx="827.5" cy="415.0" r="2.25" fill="#f9dd25"/><circle cx="830.0" cy="420.0" r="2.25" fill="#fb9f3a"/><circle cx="838.1" cy="419.4" r="2.25" fill="#fcce25"/><circle cx="851.9" cy="420.6" r="2.25" fill="#fca338"/><circle cx="856.0" cy="416.2" r="2.25" fill="#fa9b3d"/><circle cx="887.5" cy="413.8" r="2.25" fill="#fca537"/><circle cx="890.0" cy="420.4" r="2.25" fill="#f1834c"/><circle cx="905.0" cy="418.1" r="2.25" fill="#fcce25"/><circle cx="918.1" cy="417.2" r="2.25" fill="#f6e826"/><circle cx="932.8" cy="421.9" r="2.25" fill="#fcd025"/><circle cx="943.8" cy="413.8" r="2.25" fill="#f9dc24"/><circle cx="945.6" cy="412.8" r="2.25" fill="#fada24"/><circle cx="976.5" cy="416.5" r="2.25" fill="#fdae32"/><circle cx="874.1" cy="428.8" r="2.25" fill="#fcd225"/><circle cx="1039.0" cy="253.2" r="2.25" fill="#fbd724"/><circle cx="1080.4" cy="249.4" r="2.25" fill="#fcce25"/><circle cx="1107.2" cy="259.4" r="2.25" fill="#f7e425"/><circle cx="1121.4" cy="256.2" r="2.25" fill="#f9dc24"/><circle cx="1072.9" cy="264.5" r="2.25" fill="#feba2c"/><circle cx="1011.5" cy="270.6" r="2.25" fill="#fcd025"/><circle cx="1020.4" cy="271.2" r="2.25" fill="#fdcb26"/><circle cx="1045.6" cy="269.0" r="2.25" fill="#fca835"/><circle cx="1040.0" cy="272.9" r="2.25" fill="#feb82c"/><circle cx="1026.5" cy="276.2" r="2.25" fill="#f58b47"/><circle cx="1068.1" cy="275.6" r="2.25" fill="#f6e626"/><circle cx="1080.0" cy="273.8" r="2.25" fill="#f7e425"/><circle cx="1150.0" cy="266.2" r="2.25" fill="#f8df25"/><circle cx="1150.6" cy="267.2" r="2.25" fill="#f7e225"/><circle cx="1154.8" cy="272.8" r="2.25" fill="#f8e125"/><circle cx="1004.4" cy="280.0" r="2.25" fill="#f7e225"/><circle cx="1037.9" cy="282.5" r="2.25" fill="#fdb52e"/><circle cx="1036.2" cy="285.2" r="2.25" fill="#fdb52e"/><circle cx="1078.5" cy="281.9" r="2.25" fill="#ed7a52"/><circle cx="1102.5" cy="281.2" r="2.25" fill="#fcd225"/><circle cx="1134.4" cy="279.4" r="2.25" fill="#f6e626"/><circle cx="1151.2" cy="280.4" r="2.25" fill="#fbd724"/><circle cx="1161.2" cy="279.8" r="2.25" fill="#fca537"/><circle cx="1177.8" cy="281.9" r="2.25" fill="#fbd724"/><circle cx="1193.4" cy="282.2" r="2.25" fill="#fcd225"/><circle cx="1211.2" cy="283.2" r="2.25" fill="#fca636"/><circle cx="1244.6" cy="284.1" r="2.25" fill="#f89540"/><circle cx="1003.8" cy="288.8" r="2.25" fill="#f89540"/><circle cx="1014.1" cy="291.9" r="2.25" fill="#fba238"/><circle cx="1015.6" cy="293.8" r="2.25" fill="#feb72d"/><circle cx="1001.2" cy="293.5" r="2.25" fill="#f8df25"/><circle cx="1054.4" cy="288.1" r="2.25" fill="#fdb22f"/><circle cx="1054.8" cy="292.2" r="2.25" fill="#f8e125"/><circle cx="1038.4" cy="291.9" r="2.25" fill="#fa9b3d"/><circle cx="1077.5" cy="290.4" r="2.25" fill="#fdb52e"/><circle cx="1075.4" cy="294.6" r="2.25" fill="#f8df25"/><circle cx="1114.4" cy="291.2" r="2.25" fill="#fa9e3b"/><circle cx="1115.6" cy="294.0" r="2.25" fill="#feba2c"/><circle cx="1150.0" cy="290.6" r="2.25" fill="#f9973f"/><circle cx="1160.2" cy="287.5" r="2.25" fill="#fad824"/><circle cx="1168.8" cy="289.0" r="2.25" fill="#f9dc24"/><circle cx="1165.4" cy="294.4" r="2.25" fill="#fada24"/><circle cx="1033.1" cy="295.8" r="2.25" fill="#f6e826"/><circle cx="1040.4" cy="297.5" r="2.25" fill="#fbd524"/><circle cx="1023.8" cy="298.4" r="2.25" fill="#f48948"/><circle cx="1026.6" cy="298.4" r="2.25" fill="#fcce25"/><circle cx="1055.0" cy="298.8" r="2.25" fill="#fdb42f"/><circle cx="1060.6" cy="298.8" r="2.25" fill="#fad824"/><circle cx="1100.0" cy="298.5" r="2.25" fill="#fcce25"/><circle cx="1110.6" cy="296.9" r="2.25" fill="#fdac33"/><circle cx="1136.9" cy="300.4" r="2.25" fill="#f7e225"/><circle cx="1142.5" cy="298.8" r="2.25" fill="#f9dd25"/><circle cx="1141.9" cy="300.6" r="2.25" fill="#fa9b3d"/><circle cx="1154.8" cy="298.8" r="2.25" fill="#fa9c3c"/><circle cx="1169.4" cy="300.0" r="2.25" fill="#fdb52e"/><circle cx="1175.6" cy="297.5" r="2.25" fill="#f89540"/><circle cx="1211.6" cy="301.0" r="2.25" fill="#feba2c"/><circle cx="1001.0" cy="301.0" r="2.25" fill="#fad824"/><circle cx="1017.1" cy="302.1" r="2.25" fill="#fca636"/><circle cx="1033.1" cy="302.5" r="2.25" fill="#f3874a"/><circle cx="1037.5" cy="303.1" r="2.25" fill="#f9dd25"/><circle cx="1038.8" cy="304.0" r="2.25" fill="#f9dc24"/><circle cx="1044.5" cy="305.2" r="2.25" fill="#f9dc24"/><circle cx="1073.5" cy="303.2" r="2.25" fill="#cb4679"/><circle cx="1104.4" cy="304.8" r="2.25" fill="#feba2c"/><circle cx="1152.5" cy="303.1" r="2.25" fill="#f8df25"/><circle cx="1137.8" cy="305.6" r="2.25" fill="#f9973f"/><circle cx="1159.0" cy="305.9" r="2.25" fill="#f0804e"/><circle cx="1169.4" cy="307.2" r="2.25" fill="#f6e826"/><circle cx="1183.8" cy="306.9" r="2.25" fill="#f89540"/><circle cx="1194.8" cy="305.9" r="2.25" fill="#fca835"/><circle cx="1217.9" cy="305.4" r="2.25" fill="#fb9f3a"/><circle cx="1226.9" cy="307.1" r="2.25" fill="#f6e826"/><circle cx="1148.1" cy="308.1" r="2.25" fill="#f8df25"/><circle cx="1120.0" cy="307.5" r="2.25" fill="#fdae32"/><circle cx="1117.1" cy="308.8" r="2.25" fill="#fdb42f"/><circle cx="1126.0" cy="311.0" r="2.25" fill="#fdb22f"/><circle cx="1100.0" cy="310.9" r="2.25" fill="#fa9e3b"/><circle cx="1075.0" cy="311.2" r="2.25" fill="#f7e425"/><circle cx="1056.9" cy="309.0" r="2.25" fill="#fdaf31"/><circle cx="1056.6" cy="309.8" r="2.25" fill="#e97158"/><circle cx="1026.2" cy="307.5" r="2.25" fill="#feb72d"/><circle cx="1028.5" cy="310.2" r="2.25" fill="#fbd324"/><circle cx="1038.1" cy="311.5" r="2.25" fill="#feb82c"/><circle cx="1040.0" cy="312.5" r="2.25" fill="#f7e425"/><circle cx="1039.8" cy="315.0" r="2.25" fill="#f8df25"/><circle cx="1006.5" cy="314.0" r="2.25" fill="#e97257"/><circle cx="1067.5" cy="315.2" r="2.25" fill="#eb7556"/><circle cx="1081.5" cy="314.4" r="2.25" fill="#feb82c"/><circle cx="1092.5" cy="313.1" r="2.25" fill="#fada24"/><circle cx="1091.0" cy="316.0" r="2.25" fill="#f89540"/><circle cx="1109.8" cy="313.8" r="2.25" fill="#fcce25"/><circle cx="1116.5" cy="316.5" r="2.25" fill="#f6e626"/><circle cx="1134.8" cy="313.8" r="2.25" fill="#fcd025"/><circle cx="1152.5" cy="314.0" r="2.25" fill="#fa9c3c"/><circle cx="1169.6" cy="310.6" r="2.25" fill="#f2844b"/><circle cx="1210.6" cy="315.0" r="2.25" fill="#f7e225"/><circle cx="1235.4" cy="312.9" r="2.25" fill="#f9983e"/><circle cx="1001.2" cy="318.1" r="2.25" fill="#feb82c"/><circle cx="1016.9" cy="319.4" r="2.25" fill="#fdb52e"/><circle cx="1035.0" cy="318.8" r="2.25" fill="#fcd025"/><circle cx="1044.4" cy="318.8" r="2.25" fill="#fdaf31"/><circle cx="1077.5" cy="319.4" r="2.25" fill="#feba2c"/><circle cx="1109.8" cy="318.8" r="2.25" fill="#fccd25"/><circle cx="1130.4" cy="318.5" r="2.25" fill="#fdac33"/><circle cx="1159.4" cy="319.8" r="2.25" fill="#f8e125"/><circle cx="1172.9" cy="318.1" r="2.25" fill="#fdaf31"/><circle cx="1208.1" cy="318.8" r="2.25" fill="#febb2b"/><circle cx="1216.9" cy="319.4" r="2.25" fill="#fb9f3a"/><circle cx="1226.9" cy="318.8" r="2.25" fill="#fdaf31"/><circle cx="1235.6" cy="318.1" r="2.25" fill="#fbd324"/><circle cx="1240.2" cy="318.1" r="2.25" fill="#c03a83"/><circle cx="1007.5" cy="324.4" r="2.25" fill="#fbd724"/><circle cx="1016.9" cy="320.6" r="2.25" fill="#fdb22f"/><circle cx="1025.0" cy="328.8" r="2.25" fill="#fba139"/><circle cx="1033.8" cy="326.9" r="2.25" fill="#fdb42f"/><circle cx="1040.0" cy="331.0" r="2.25" fill="#fca934"/><circle cx="1043.1" cy="331.2" r="2.25" fill="#fb9f3a"/><circle cx="1042.5" cy="332.5" r="2.25" fill="#f7e425"/><circle cx="1050.2" cy="325.6" r="2.25" fill="#f9dc24"/><circle cx="1050.2" cy="328.5" r="2.25" fill="#fa9b3d"/><circle cx="1053.1" cy="331.9" r="2.25" fill="#fba139"/><circle cx="1056.9" cy="332.5" r="2.25" fill="#fdb42f"/><circle cx="1055.6" cy="334.0" r="2.25" fill="#fbd724"/><circle cx="1064.0" cy="333.4" r="2.25" fill="#fdb42f"/><circle cx="1068.5" cy="322.8" r="2.25" fill="#fba238"/><circle cx="1072.9" cy="323.8" r="2.25" fill="#f6e826"/><circle cx="1076.9" cy="321.5" r="2.25" fill="#fdaf31"/><circle cx="1070.6" cy="329.4" r="2.25" fill="#e97158"/><circle cx="1068.5" cy="332.5" r="2.25" fill="#f6e626"/><circle cx="1071.2" cy="335.0" r="2.25" fill="#f6e826"/><circle cx="1082.2" cy="331.5" r="2.25" fill="#f8df25"/><circle cx="1087.2" cy="325.6" r="2.25" fill="#fdb130"/><circle cx="1088.1" cy="332.8" r="2.25" fill="#feb82c"/><circle cx="1095.0" cy="325.9" r="2.25" fill="#fba139"/><circle cx="1091.9" cy="336.0" r="2.25" fill="#fbd524"/><circle cx="1081.9" cy="336.9" r="2.25" fill="#f9973f"/><circle cx="1111.2" cy="327.5" r="2.25" fill="#f8df25"/><circle cx="1115.0" cy="327.5" r="2.25" fill="#fbd724"/><circle cx="1121.9" cy="328.1" r="2.25" fill="#fada24"/><circle cx="1110.0" cy="320.6" r="2.25" fill="#fdcb26"/><circle cx="1128.5" cy="323.8" r="2.25" fill="#fdb52e"/><circle cx="1129.8" cy="326.2" r="2.25" fill="#f89540"/><circle cx="1135.0" cy="323.5" r="2.25" fill="#f9dc24"/><circle cx="1134.4" cy="327.5" r="2.25" fill="#f2844b"/><circle cx="1141.2" cy="322.2" r="2.25" fill="#f8df25"/><circle cx="1146.2" cy="328.5" r="2.25" fill="#f9dd25"/><circle cx="1139.0" cy="332.8" r="2.25" fill="#fba238"/><circle cx="1135.6" cy="333.8" r="2.25" fill="#f9dc24"/><circle cx="1127.5" cy="332.5" r="2.25" fill="#fa9b3d"/><circle cx="1152.2" cy="327.8" r="2.25" fill="#fdae32"/><circle cx="1154.1" cy="331.9" r="2.25" fill="#f6e626"/><circle cx="1153.8" cy="334.0" r="2.25" fill="#fbd724"/><circle cx="1158.8" cy="329.4" r="2.25" fill="#fccd25"/><circle cx="1159.8" cy="333.5" r="2.25" fill="#f8df25"/><circle cx="1159.4" cy="321.2" r="2.25" fill="#fada24"/><circle cx="1170.6" cy="324.0" r="2.25" fill="#fada24"/><circle cx="1176.2" cy="323.5" r="2.25" fill="#f89540"/><circle cx="1179.1" cy="329.8" r="2.25" fill="#fccd25"/><circle cx="1183.4" cy="326.2" r="2.25" fill="#fbd524"/><circle cx="1167.9" cy="331.9" r="2.25" fill="#f6e626"/><circle cx="1211.2" cy="326.9" r="2.25" fill="#fbd324"/><circle cx="1214.4" cy="327.8" r="2.25" fill="#fa9c3c"/><circle cx="1217.9" cy="330.2" r="2.25" fill="#fccd25"/><circle cx="1208.1" cy="320.6" r="2.25" fill="#fbd324"/><circle cx="1216.9" cy="320.6" r="2.25" fill="#febd2a"/><circle cx="1226.9" cy="320.6" r="2.25" fill="#f6e626"/><circle cx="1237.5" cy="321.9" r="2.25" fill="#fdae32"/><circle cx="1245.6" cy="326.2" r="2.25" fill="#fca537"/><circle cx="1232.8" cy="334.8" r="2.25" fill="#feb72d"/><circle cx="1011.2" cy="336.2" r="2.25" fill="#fbd324"/><circle cx="1015.6" cy="337.2" r="2.25" fill="#fba238"/><circle cx="1249.4" cy="334.4" r="2.25" fill="#fcd025"/><circle cx="1012.5" cy="341.9" r="2.25" fill="#f7e425"/><circle cx="1001.2" cy="344.8" r="2.25" fill="#f8df25"/><circle cx="1014.4" cy="348.5" r="2.25" fill="#fada24"/><circle cx="1038.1" cy="346.6" r="2.25" fill="#f8e125"/><circle cx="1045.2" cy="345.0" r="2.25" fill="#f9983e"/><circle cx="1046.0" cy="346.5" r="2.25" fill="#fcd025"/><circle cx="1049.0" cy="349.0" r="2.25" fill="#f89540"/><circle cx="1059.8" cy="346.6" r="2.25" fill="#e97257"/><circle cx="1061.0" cy="350.0" r="2.25" fill="#f89540"/><circle cx="1070.4" cy="346.0" r="2.25" fill="#fca636"/><circle cx="1074.4" cy="342.8" r="2.25" fill="#fa9c3c"/><circle cx="1078.1" cy="339.4" r="2.25" fill="#f99a3e"/><circle cx="1078.1" cy="341.9" r="2.25" fill="#fca537"/><circle cx="1083.8" cy="342.8" r="2.25" fill="#fad824"/><circle cx="1086.0" cy="339.0" r="2.25" fill="#fcce25"/><circle cx="1093.8" cy="343.8" r="2.25" fill="#fdb52e"/><circle cx="1097.5" cy="342.2" r="2.25" fill="#f8e125"/><circle cx="1102.5" cy="345.4" r="2.25" fill="#fada24"/><circle cx="1105.4" cy="338.1" r="2.25" fill="#f6e626"/><circle cx="1118.5" cy="337.2" r="2.25" fill="#fccd25"/><circle cx="1118.1" cy="345.0" r="2.25" fill="#f9983e"/><circle cx="1119.8" cy="345.6" r="2.25" fill="#fbd724"/><circle cx="1124.4" cy="341.2" r="2.25" fill="#fcce25"/><circle cx="1124.8" cy="343.5" r="2.25" fill="#f99a3e"/><circle cx="1127.5" cy="339.0" r="2.25" fill="#fb9f3a"/><circle cx="1134.4" cy="340.6" r="2.25" fill="#febb2b"/><circle cx="1132.8" cy="345.6" r="2.25" fill="#ef7e50"/><circle cx="1121.9" cy="350.0" r="2.25" fill="#fad824"/><circle cx="1146.5" cy="340.2" r="2.25" fill="#fbd324"/><circle cx="1154.0" cy="339.0" r="2.25" fill="#fdb130"/><circle cx="1152.2" cy="345.6" r="2.25" fill="#f99a3e"/><circle cx="1163.8" cy="346.0" r="2.25" fill="#fada24"/><circle cx="1179.8" cy="346.0" r="2.25" fill="#fca835"/><circle cx="1205.0" cy="340.0" r="2.25" fill="#fcd225"/><circle cx="1205.6" cy="342.9" r="2.25" fill="#eb7655"/><circle cx="1208.1" cy="338.8" r="2.25" fill="#f7e425"/><circle cx="1218.1" cy="338.5" r="2.25" fill="#f9973f"/><circle cx="1222.8" cy="345.4" r="2.25" fill="#fdab33"/><circle cx="1212.5" cy="350.0" r="2.25" fill="#ec7754"/><circle cx="1072.9" cy="351.9" r="2.25" fill="#f8e125"/><circle cx="1076.0" cy="351.9" r="2.25" fill="#fba238"/><circle cx="1093.5" cy="351.0" r="2.25" fill="#fdaf31"/><circle cx="1088.5" cy="354.0" r="2.25" fill="#fb9f3a"/><circle cx="1047.9" cy="354.4" r="2.25" fill="#f9dc24"/><circle cx="1057.5" cy="355.0" r="2.25" fill="#f6e826"/><circle cx="1121.0" cy="355.6" r="2.25" fill="#f6e626"/><circle cx="1116.2" cy="354.4" r="2.25" fill="#f6e626"/><circle cx="1138.5" cy="352.2" r="2.25" fill="#fba139"/><circle cx="1176.6" cy="353.1" r="2.25" fill="#fa9b3d"/><circle cx="1016.9" cy="355.6" r="2.25" fill="#fdaf31"/><circle cx="1008.4" cy="356.2" r="2.25" fill="#fca934"/><circle cx="1014.4" cy="359.4" r="2.25" fill="#fba238"/><circle cx="1005.0" cy="361.9" r="2.25" fill="#fca537"/><circle cx="1009.4" cy="361.9" r="2.25" fill="#fba238"/><circle cx="1017.5" cy="366.2" r="2.25" fill="#fca835"/><circle cx="1012.5" cy="367.9" r="2.25" fill="#fca338"/><circle cx="1003.8" cy="370.6" r="2.25" fill="#fdab33"/><circle cx="1010.0" cy="370.6" r="2.25" fill="#fdca26"/><circle cx="1014.8" cy="371.0" r="2.25" fill="#feb72d"/><circle cx="1002.8" cy="374.0" r="2.25" fill="#fba238"/><circle cx="1025.0" cy="363.1" r="2.25" fill="#fca934"/><circle cx="1027.2" cy="360.2" r="2.25" fill="#fccd25"/><circle cx="1029.4" cy="368.1" r="2.25" fill="#ea7457"/><circle cx="1028.5" cy="369.0" r="2.25" fill="#fdab33"/><circle cx="1032.8" cy="364.6" r="2.25" fill="#fdb52e"/><circle cx="1036.2" cy="369.4" r="2.25" fill="#f8df25"/><circle cx="1035.0" cy="373.5" r="2.25" fill="#fdae32"/><circle cx="1039.0" cy="357.5" r="2.25" fill="#f9983e"/><circle cx="1044.8" cy="363.4" r="2.25" fill="#fdcb26"/><circle cx="1050.2" cy="359.4" r="2.25" fill="#f7e425"/><circle cx="1055.9" cy="361.0" r="2.25" fill="#fca338"/><circle cx="1054.4" cy="364.8" r="2.25" fill="#fdae32"/><circle cx="1051.9" cy="367.2" r="2.25" fill="#fdb130"/><circle cx="1051.9" cy="370.9" r="2.25" fill="#fdb52e"/><circle cx="1058.4" cy="368.1" r="2.25" fill="#f9973f"/><circle cx="1063.8" cy="364.4" r="2.25" fill="#fca338"/><circle cx="1068.1" cy="359.4" r="2.25" fill="#fb9f3a"/><circle cx="1069.4" cy="363.1" r="2.25" fill="#f6e626"/><circle cx="1084.0" cy="366.0" r="2.25" fill="#f6e626"/><circle cx="1085.4" cy="361.9" r="2.25" fill="#fcd225"/><circle cx="1098.8" cy="364.4" r="2.25" fill="#f99a3e"/><circle cx="1101.5" cy="364.8" r="2.25" fill="#fbd524"/><circle cx="1099.1" cy="371.2" r="2.25" fill="#e87059"/><circle cx="1107.8" cy="360.0" r="2.25" fill="#fad824"/><circle cx="1109.6" cy="361.5" r="2.25" fill="#f99a3e"/><circle cx="1114.4" cy="362.5" r="2.25" fill="#fcce25"/><circle cx="1118.5" cy="359.4" r="2.25" fill="#f7e225"/><circle cx="1116.0" cy="364.4" r="2.25" fill="#f9dc24"/><circle cx="1119.4" cy="366.5" r="2.25" fill="#fba238"/><circle cx="1111.0" cy="367.9" r="2.25" fill="#fdcb26"/><circle cx="1111.9" cy="370.6" r="2.25" fill="#fbd724"/><circle cx="1116.9" cy="368.8" r="2.25" fill="#fbd324"/><circle cx="1128.5" cy="361.5" r="2.25" fill="#f9973f"/><circle cx="1127.2" cy="367.2" r="2.25" fill="#fa9b3d"/><circle cx="1136.2" cy="367.5" r="2.25" fill="#fccd25"/><circle cx="1135.6" cy="369.1" r="2.25" fill="#f48849"/><circle cx="1137.2" cy="370.0" r="2.25" fill="#f7e425"/><circle cx="1143.5" cy="360.6" r="2.25" fill="#fdcb26"/><circle cx="1153.1" cy="366.0" r="2.25" fill="#fbd724"/><circle cx="1156.0" cy="364.4" r="2.25" fill="#fdaf31"/><circle cx="1158.1" cy="361.9" r="2.25" fill="#fdaf31"/><circle cx="1160.0" cy="355.6" r="2.25" fill="#febd2a"/><circle cx="1162.1" cy="358.1" r="2.25" fill="#b7318a"/><circle cx="1164.4" cy="359.0" r="2.25" fill="#fad824"/><circle cx="1189.4" cy="361.6" r="2.25" fill="#fa9b3d"/><circle cx="1188.8" cy="366.5" r="2.25" fill="#f99a3e"/><circle cx="1193.5" cy="370.2" r="2.25" fill="#fca835"/><circle cx="1180.6" cy="370.9" r="2.25" fill="#f7e225"/><circle cx="1228.1" cy="360.2" r="2.25" fill="#fdac33"/><circle cx="1234.4" cy="361.2" r="2.25" fill="#f6e626"/><circle cx="1234.8" cy="364.8" r="2.25" fill="#fca636"/><circle cx="1016.2" cy="375.6" r="2.25" fill="#f6e826"/><circle cx="1018.5" cy="378.1" r="2.25" fill="#f9dc24"/><circle cx="1001.2" cy="381.0" r="2.25" fill="#fca934"/><circle cx="1007.5" cy="385.2" r="2.25" fill="#f6e626"/><circle cx="1021.5" cy="386.9" r="2.25" fill="#f8df25"/><circle cx="1029.8" cy="379.4" r="2.25" fill="#fdac33"/><circle cx="1040.0" cy="376.5" r="2.25" fill="#fdb22f"/><circle cx="1042.5" cy="378.5" r="2.25" fill="#fdcb26"/><circle cx="1040.0" cy="381.9" r="2.25" fill="#fdb52e"/><circle cx="1043.8" cy="381.2" r="2.25" fill="#fcd225"/><circle cx="1047.5" cy="375.0" r="2.25" fill="#f6e626"/><circle cx="1048.8" cy="378.8" r="2.25" fill="#fca835"/><circle cx="1049.5" cy="386.2" r="2.25" fill="#fcce25"/><circle cx="1057.5" cy="374.6" r="2.25" fill="#f0804e"/><circle cx="1063.8" cy="376.2" r="2.25" fill="#f48849"/><circle cx="1064.4" cy="378.8" r="2.25" fill="#f99a3e"/><circle cx="1071.2" cy="373.5" r="2.25" fill="#fcce25"/><circle cx="1071.5" cy="378.1" r="2.25" fill="#ea7457"/><circle cx="1076.5" cy="384.8" r="2.25" fill="#f9dc24"/><circle cx="1081.9" cy="374.1" r="2.25" fill="#fb9f3a"/><circle cx="1087.9" cy="383.5" r="2.25" fill="#fcd225"/><circle cx="1093.5" cy="379.0" r="2.25" fill="#fdac33"/><circle cx="1102.5" cy="375.6" r="2.25" fill="#fccd25"/><circle cx="1103.5" cy="381.6" r="2.25" fill="#f7e425"/><circle cx="1111.2" cy="381.2" r="2.25" fill="#c03a83"/><circle cx="1116.2" cy="373.5" r="2.25" fill="#fca537"/><circle cx="1126.2" cy="376.5" r="2.25" fill="#f0804e"/><circle cx="1130.0" cy="373.1" r="2.25" fill="#fba238"/><circle cx="1128.1" cy="386.0" r="2.25" fill="#fcce25"/><circle cx="1139.8" cy="373.5" r="2.25" fill="#fba139"/><circle cx="1141.2" cy="382.5" r="2.25" fill="#feb72d"/><circle cx="1143.8" cy="378.1" r="2.25" fill="#f8df25"/><circle cx="1145.6" cy="380.6" r="2.25" fill="#fada24"/><circle cx="1161.2" cy="376.0" r="2.25" fill="#fb9f3a"/><circle cx="1176.2" cy="375.9" r="2.25" fill="#fdb42f"/><circle cx="1180.6" cy="377.2" r="2.25" fill="#f7e225"/><circle cx="1181.2" cy="382.2" r="2.25" fill="#fccd25"/><circle cx="1170.6" cy="386.2" r="2.25" fill="#fca835"/><circle cx="1175.4" cy="386.2" r="2.25" fill="#f7e225"/><circle cx="1192.5" cy="375.9" r="2.25" fill="#febb2b"/><circle cx="1197.8" cy="374.8" r="2.25" fill="#fb9f3a"/><circle cx="1203.4" cy="375.0" r="2.25" fill="#f48849"/><circle cx="1207.5" cy="378.1" r="2.25" fill="#fdac33"/><circle cx="1204.0" cy="379.8" r="2.25" fill="#f9dc24"/><circle cx="1211.0" cy="384.1" r="2.25" fill="#fa9b3d"/><circle cx="1199.4" cy="384.6" r="2.25" fill="#f9dd25"/><circle cx="1230.9" cy="381.2" r="2.25" fill="#fcd225"/><circle cx="1239.8" cy="375.0" r="2.25" fill="#f1834c"/><circle cx="1241.2" cy="377.5" r="2.25" fill="#f7e425"/><circle cx="1245.6" cy="376.2" r="2.25" fill="#f8df25"/><circle cx="1006.5" cy="390.9" r="2.25" fill="#f07f4f"/><circle cx="1029.1" cy="394.5" r="2.25" fill="#febd2a"/><circle cx="1014.8" cy="399.4" r="2.25" fill="#fca338"/><circle cx="1060.6" cy="394.1" r="2.25" fill="#fca934"/><circle cx="1087.2" cy="394.6" r="2.25" fill="#fdb42f"/><circle cx="1114.8" cy="391.0" r="2.25" fill="#f7e225"/><circle cx="1105.9" cy="398.8" r="2.25" fill="#fa9c3c"/><circle cx="1199.8" cy="390.9" r="2.25" fill="#fca934"/><circle cx="1221.5" cy="394.0" r="2.25" fill="#fdcb26"/><circle cx="1224.8" cy="400.2" r="2.25" fill="#feba2c"/><circle cx="1177.8" cy="401.9" r="2.25" fill="#fad824"/><circle cx="1018.8" cy="406.2" r="2.25" fill="#febb2b"/><circle cx="1020.2" cy="407.9" r="2.25" fill="#fca934"/><circle cx="1006.5" cy="409.0" r="2.25" fill="#ed7953"/><circle cx="1037.8" cy="406.6" r="2.25" fill="#feb82c"/><circle cx="1045.0" cy="405.6" r="2.25" fill="#fccd25"/><circle cx="1045.0" cy="409.4" r="2.25" fill="#f9983e"/><circle cx="1059.4" cy="406.5" r="2.25" fill="#fcd225"/><circle cx="1070.0" cy="408.5" r="2.25" fill="#fca636"/><circle cx="1081.2" cy="406.5" r="2.25" fill="#f7e425"/><circle cx="1103.1" cy="408.5" r="2.25" fill="#fca537"/><circle cx="1118.1" cy="406.9" r="2.25" fill="#f07f4f"/><circle cx="1125.0" cy="404.8" r="2.25" fill="#fcce25"/><circle cx="1131.5" cy="408.1" r="2.25" fill="#fdab33"/><circle cx="1144.4" cy="409.4" r="2.25" fill="#fca537"/><circle cx="1198.1" cy="409.4" r="2.25" fill="#f99a3e"/><circle cx="1233.5" cy="409.1" r="2.25" fill="#feb82c"/><circle cx="1237.5" cy="407.2" r="2.25" fill="#fcd025"/><circle cx="1228.8" cy="412.8" r="2.25" fill="#febe2a"/><circle cx="1176.9" cy="413.8" r="2.25" fill="#fdac33"/><circle cx="1098.1" cy="414.6" r="2.25" fill="#fbd724"/><circle cx="1133.8" cy="414.0" r="2.25" fill="#f9dc24"/><circle cx="1036.2" cy="416.2" r="2.25" fill="#fcce25"/><circle cx="1016.9" cy="417.5" r="2.25" fill="#f8df25"/><circle cx="1023.8" cy="420.0" r="2.25" fill="#fca636"/><circle cx="1023.1" cy="424.4" r="2.25" fill="#f3854b"/><circle cx="1025.6" cy="424.4" r="2.25" fill="#fdb52e"/><circle cx="1033.1" cy="421.2" r="2.25" fill="#fca934"/><circle cx="1117.9" cy="418.8" r="2.25" fill="#fada24"/><circle cx="1084.4" cy="422.5" r="2.25" fill="#f9dc24"/><circle cx="1183.8" cy="420.6" r="2.25" fill="#f99a3e"/><circle cx="1184.0" cy="422.2" r="2.25" fill="#fa9e3b"/><circle cx="1189.4" cy="426.2" r="2.25" fill="#fad824"/><circle cx="1246.2" cy="417.5" r="2.25" fill="#fcd025"/><circle cx="1240.6" cy="428.1" r="2.25" fill="#ee7b51"/><circle cx="1146.9" cy="425.9" r="2.25" fill="#fdae32"/><circle cx="1045.4" cy="436.5" r="2.25" fill="#fcd225"/><circle cx="1450.6" cy="254.0" r="2.25" fill="#feba2c"/><circle cx="1402.0" cy="256.9" r="2.25" fill="#fdac33"/><circle cx="1335.6" cy="261.9" r="2.25" fill="#fdae32"/><circle cx="1317.2" cy="266.0" r="2.25" fill="#fada24"/><circle cx="1276.0" cy="276.0" r="2.25" fill="#f6e826"/><circle cx="1345.0" cy="275.0" r="2.25" fill="#fca934"/><circle cx="1354.8" cy="282.1" r="2.25" fill="#fb9f3a"/><circle cx="1402.8" cy="279.0" r="2.25" fill="#fa9e3b"/><circle cx="1450.4" cy="276.5" r="2.25" fill="#fdb52e"/><circle cx="1312.5" cy="285.0" r="2.25" fill="#fad824"/><circle cx="1381.5" cy="289.6" r="2.25" fill="#fcd025"/><circle cx="1396.5" cy="289.4" r="2.25" fill="#f7e225"/><circle cx="1277.2" cy="294.6" r="2.25" fill="#f9973f"/><circle cx="1284.4" cy="295.0" r="2.25" fill="#fa9e3b"/><circle cx="1288.1" cy="298.5" r="2.25" fill="#fa9e3b"/><circle cx="1330.4" cy="296.5" r="2.25" fill="#fba139"/><circle cx="1409.4" cy="295.4" r="2.25" fill="#f9dd25"/><circle cx="1418.4" cy="299.0" r="2.25" fill="#fa9b3d"/><circle cx="1363.1" cy="299.0" r="2.25" fill="#fca338"/><circle cx="1329.0" cy="302.5" r="2.25" fill="#fdcb26"/><circle cx="1313.1" cy="305.6" r="2.25" fill="#f6e826"/><circle cx="1256.0" cy="303.5" r="2.25" fill="#fca338"/><circle cx="1271.9" cy="306.9" r="2.25" fill="#ec7754"/><circle cx="1252.8" cy="308.8" r="2.25" fill="#fca835"/><circle cx="1274.6" cy="311.5" r="2.25" fill="#f6e626"/><circle cx="1290.0" cy="310.2" r="2.25" fill="#f7e225"/><circle cx="1293.8" cy="312.1" r="2.25" fill="#fdab33"/><circle cx="1297.9" cy="310.2" r="2.25" fill="#fca934"/><circle cx="1305.4" cy="312.2" r="2.25" fill="#fdcb26"/><circle cx="1474.8" cy="303.8" r="2.25" fill="#fca835"/><circle cx="1479.4" cy="308.4" r="2.25" fill="#fad824"/><circle cx="1435.2" cy="306.2" r="2.25" fill="#fbd324"/><circle cx="1430.0" cy="309.4" r="2.25" fill="#fca338"/><circle cx="1436.2" cy="312.5" r="2.25" fill="#febe2a"/><circle cx="1401.0" cy="308.4" r="2.25" fill="#fdaf31"/><circle cx="1392.1" cy="309.8" r="2.25" fill="#fdb42f"/><circle cx="1407.9" cy="313.5" r="2.25" fill="#fb9f3a"/><circle cx="1414.0" cy="312.5" r="2.25" fill="#ed7953"/><circle cx="1376.9" cy="316.5" r="2.25" fill="#fb9f3a"/><circle cx="1388.1" cy="316.0" r="2.25" fill="#fdb52e"/><circle cx="1293.5" cy="318.1" r="2.25" fill="#fca338"/><circle cx="1451.9" cy="318.8" r="2.25" fill="#feba2c"/><circle cx="1481.2" cy="319.4" r="2.25" fill="#fdae32"/><circle cx="1403.5" cy="319.8" r="2.25" fill="#f9dd25"/><circle cx="1410.6" cy="319.8" r="2.25" fill="#fccd25"/><circle cx="1255.2" cy="325.4" r="2.25" fill="#f7e425"/><circle cx="1276.0" cy="327.9" r="2.25" fill="#fdab33"/><circle cx="1251.5" cy="334.4" r="2.25" fill="#f6e626"/><circle cx="1255.6" cy="334.4" r="2.25" fill="#fdb42f"/><circle cx="1267.9" cy="339.0" r="2.25" fill="#f89540"/><circle cx="1262.2" cy="343.4" r="2.25" fill="#f9dc24"/><circle cx="1260.2" cy="352.2" r="2.25" fill="#fada24"/><circle cx="1285.6" cy="332.2" r="2.25" fill="#f8e125"/><circle cx="1291.5" cy="334.1" r="2.25" fill="#f8df25"/><circle cx="1292.5" cy="346.0" r="2.25" fill="#fca537"/><circle cx="1299.0" cy="346.9" r="2.25" fill="#f9dd25"/><circle cx="1301.9" cy="347.2" r="2.25" fill="#f9983e"/><circle cx="1319.0" cy="328.1" r="2.25" fill="#febb2b"/><circle cx="1321.0" cy="329.0" r="2.25" fill="#fca934"/><circle cx="1328.5" cy="334.6" r="2.25" fill="#f99a3e"/><circle cx="1329.0" cy="339.0" r="2.25" fill="#feb82c"/><circle cx="1319.1" cy="352.9" r="2.25" fill="#f7e225"/><circle cx="1345.0" cy="322.5" r="2.25" fill="#f9dc24"/><circle cx="1347.2" cy="324.0" r="2.25" fill="#feba2c"/><circle cx="1353.1" cy="324.8" r="2.25" fill="#fdae32"/><circle cx="1356.2" cy="329.4" r="2.25" fill="#fca537"/><circle cx="1370.0" cy="335.9" r="2.25" fill="#f89540"/><circle cx="1379.4" cy="321.5" r="2.25" fill="#f7e225"/><circle cx="1386.5" cy="331.2" r="2.25" fill="#f8df25"/><circle cx="1385.6" cy="335.2" r="2.25" fill="#fca835"/><circle cx="1383.1" cy="337.8" r="2.25" fill="#f9983e"/><circle cx="1394.0" cy="324.0" r="2.25" fill="#fb9f3a"/><circle cx="1400.6" cy="325.6" r="2.25" fill="#f8e125"/><circle cx="1403.5" cy="320.6" r="2.25" fill="#f9dc24"/><circle cx="1410.4" cy="321.0" r="2.25" fill="#fdcb26"/><circle cx="1410.4" cy="337.5" r="2.25" fill="#fccd25"/><circle cx="1403.4" cy="347.8" r="2.25" fill="#fa9b3d"/><circle cx="1406.2" cy="353.5" r="2.25" fill="#fcd225"/><circle cx="1405.4" cy="356.2" r="2.25" fill="#fdac33"/><circle cx="1426.2" cy="329.8" r="2.25" fill="#fdac33"/><circle cx="1461.0" cy="329.8" r="2.25" fill="#fdb52e"/><circle cx="1475.0" cy="326.2" r="2.25" fill="#fdcb26"/><circle cx="1481.2" cy="320.6" r="2.25" fill="#f9dc24"/><circle cx="1275.6" cy="363.1" r="2.25" fill="#fad824"/><circle cx="1301.9" cy="368.1" r="2.25" fill="#fbd324"/><circle cx="1307.5" cy="367.9" r="2.25" fill="#fa9e3b"/><circle cx="1322.1" cy="369.4" r="2.25" fill="#ef7c51"/><circle cx="1321.9" cy="371.9" r="2.25" fill="#f48849"/><circle cx="1330.0" cy="366.0" r="2.25" fill="#f9dc24"/><circle cx="1341.6" cy="371.6" r="2.25" fill="#fbd324"/><circle cx="1291.5" cy="375.4" r="2.25" fill="#fccd25"/><circle cx="1260.6" cy="376.9" r="2.25" fill="#fdac33"/><circle cx="1253.1" cy="380.6" r="2.25" fill="#fada24"/><circle cx="1367.5" cy="380.2" r="2.25" fill="#f6e826"/><circle cx="1376.9" cy="390.0" r="2.25" fill="#fa9e3b"/><circle cx="1408.1" cy="370.9" r="2.25" fill="#fdb42f"/><circle cx="1415.2" cy="374.0" r="2.25" fill="#f9dd25"/><circle cx="1412.8" cy="376.2" r="2.25" fill="#eb7655"/><circle cx="1426.0" cy="388.5" r="2.25" fill="#fba238"/><circle cx="1461.0" cy="365.6" r="2.25" fill="#fdac33"/><circle cx="1470.2" cy="368.4" r="2.25" fill="#f6e626"/><circle cx="1475.6" cy="383.8" r="2.25" fill="#b83289"/><circle cx="1254.0" cy="405.9" r="2.25" fill="#fcd025"/><circle cx="1284.4" cy="405.6" r="2.25" fill="#f9dc24"/><circle cx="1306.6" cy="409.8" r="2.25" fill="#f8df25"/><circle cx="1311.2" cy="411.5" r="2.25" fill="#fdcb26"/><circle cx="1359.4" cy="403.8" r="2.25" fill="#fba139"/><circle cx="1374.8" cy="403.1" r="2.25" fill="#f9dd25"/><circle cx="1375.0" cy="408.1" r="2.25" fill="#fad824"/><circle cx="1388.8" cy="410.2" r="2.25" fill="#bb3488"/><circle cx="1281.5" cy="419.8" r="2.25" fill="#ef7e50"/><circle cx="1306.2" cy="419.1" r="2.25" fill="#fcd025"/><circle cx="1333.4" cy="420.4" r="2.25" fill="#fbd324"/><circle cx="1351.9" cy="421.6" r="2.25" fill="#fca537"/><circle cx="1274.4" cy="436.5" r="2.25" fill="#fccd25"/><circle cx="1136.6" cy="446.2" r="2.25" fill="#fccd25"/></g><g clip-path="url(#cb)"><circle cx="287.2" cy="665.6" r="2.25" fill="#83ff73"/><circle cx="274.6" cy="686.5" r="2.25" fill="#73ff83"/><circle cx="386.4" cy="686.5" r="2.25" fill="#63ff94"/><circle cx="424.6" cy="687.6" r="2.25" fill="#73ff83"/><circle cx="399.9" cy="691.9" r="2.25" fill="#73ff83"/><circle cx="464.1" cy="682.1" r="2.25" fill="#8dff6a"/><circle cx="486.9" cy="679.0" r="2.25" fill="#60ff97"/><circle cx="477.5" cy="684.4" r="2.25" fill="#6aff8d"/><circle cx="476.2" cy="687.8" r="2.25" fill="#60ff97"/><circle cx="451.2" cy="693.1" r="2.25" fill="#77ff80"/><circle cx="458.5" cy="693.1" r="2.25" fill="#6aff8d"/><circle cx="456.9" cy="696.2" r="2.25" fill="#60ff97"/><circle cx="464.0" cy="699.4" r="2.25" fill="#7dff7a"/><circle cx="475.0" cy="695.0" r="2.25" fill="#94ff63"/><circle cx="473.5" cy="698.5" r="2.25" fill="#83ff73"/><circle cx="260.6" cy="705.2" r="2.25" fill="#6dff8a"/><circle cx="318.4" cy="702.1" r="2.25" fill="#6dff8a"/><circle cx="319.5" cy="706.5" r="2.25" fill="#8aff6d"/><circle cx="392.4" cy="698.5" r="2.25" fill="#60ff97"/><circle cx="405.9" cy="702.1" r="2.25" fill="#73ff83"/><circle cx="352.5" cy="707.5" r="2.25" fill="#80ff77"/><circle cx="362.5" cy="707.5" r="2.25" fill="#73ff83"/><circle cx="341.9" cy="713.4" r="2.25" fill="#7aff7d"/><circle cx="322.9" cy="713.8" r="2.25" fill="#60ff97"/><circle cx="325.9" cy="717.8" r="2.25" fill="#90ff66"/><circle cx="455.4" cy="706.6" r="2.25" fill="#66ff90"/><circle cx="428.0" cy="710.6" r="2.25" fill="#8dff6a"/><circle cx="450.0" cy="713.4" r="2.25" fill="#6aff8d"/><circle cx="458.2" cy="712.2" r="2.25" fill="#7dff7a"/><circle cx="475.0" cy="711.5" r="2.25" fill="#7aff7d"/><circle cx="479.4" cy="712.8" r="2.25" fill="#87ff70"/><circle cx="482.8" cy="712.8" r="2.25" fill="#83ff73"/><circle cx="491.9" cy="710.9" r="2.25" fill="#7aff7d"/><circle cx="498.1" cy="710.2" r="2.25" fill="#8aff6d"/><circle cx="421.0" cy="717.2" r="2.25" fill="#77ff80"/><circle cx="462.5" cy="716.9" r="2.25" fill="#70ff87"/><circle cx="460.0" cy="718.5" r="2.25" fill="#7dff7a"/><circle cx="480.4" cy="717.2" r="2.25" fill="#6aff8d"/><circle cx="293.1" cy="719.4" r="2.25" fill="#8aff6d"/><circle cx="296.5" cy="720.6" r="2.25" fill="#87ff70"/><circle cx="267.1" cy="723.8" r="2.25" fill="#80ff77"/><circle cx="386.4" cy="718.5" r="2.25" fill="#60ff97"/><circle cx="384.6" cy="721.9" r="2.25" fill="#63ff94"/><circle cx="392.6" cy="722.5" r="2.25" fill="#63ff94"/><circle cx="390.9" cy="726.9" r="2.25" fill="#66ff90"/><circle cx="416.6" cy="723.5" r="2.25" fill="#77ff80"/><circle cx="285.4" cy="727.5" r="2.25" fill="#60ff97"/><circle cx="317.9" cy="726.6" r="2.25" fill="#66ff90"/><circle cx="331.4" cy="726.0" r="2.25" fill="#77ff80"/><circle cx="329.8" cy="729.0" r="2.25" fill="#87ff70"/><circle cx="325.0" cy="731.9" r="2.25" fill="#66ff90"/><circle cx="253.8" cy="731.2" r="2.25" fill="#80ff77"/><circle cx="496.0" cy="724.1" r="2.25" fill="#6aff8d"/><circle cx="470.6" cy="725.4" r="2.25" fill="#77ff80"/><circle cx="473.8" cy="726.6" r="2.25" fill="#73ff83"/><circle cx="476.2" cy="726.9" r="2.25" fill="#7dff7a"/><circle cx="460.4" cy="728.1" r="2.25" fill="#8dff6a"/><circle cx="442.5" cy="729.4" r="2.25" fill="#8aff6d"/><circle cx="420.2" cy="729.8" r="2.25" fill="#8aff6d"/><circle cx="446.9" cy="732.9" r="2.25" fill="#60ff97"/><circle cx="428.8" cy="732.8" r="2.25" fill="#87ff70"/><circle cx="408.1" cy="733.8" r="2.25" fill="#66ff90"/><circle cx="420.9" cy="735.8" r="2.25" fill="#87ff70"/><circle cx="464.1" cy="733.9" r="2.25" fill="#70ff87"/><circle cx="474.4" cy="732.2" r="2.25" fill="#73ff83"/><circle cx="481.5" cy="733.4" r="2.25" fill="#80ff77"/><circle cx="486.9" cy="734.8" r="2.25" fill="#70ff87"/><circle cx="489.0" cy="733.1" r="2.25" fill="#60ff97"/><circle cx="492.5" cy="729.0" r="2.25" fill="#90ff66"/><circle cx="491.9" cy="738.1" r="2.25" fill="#6aff8d"/><circle cx="498.8" cy="735.6" r="2.25" fill="#8dff6a"/><circle cx="279.4" cy="737.5" r="2.25" fill="#80ff77"/><circle cx="343.1" cy="739.1" r="2.25" fill="#5dff9a"/><circle cx="280.0" cy="741.9" r="2.25" fill="#66ff90"/><circle cx="281.0" cy="743.8" r="2.25" fill="#83ff73"/><circle cx="285.4" cy="748.1" r="2.25" fill="#70ff87"/><circle cx="257.8" cy="753.4" r="2.25" fill="#8aff6d"/><circle cx="307.8" cy="751.9" r="2.25" fill="#97ff60"/><circle cx="326.5" cy="754.0" r="2.25" fill="#63ff94"/><circle cx="351.0" cy="744.8" r="2.25" fill="#8aff6d"/><circle cx="342.8" cy="756.6" r="2.25" fill="#70ff87"/><circle cx="290.0" cy="765.9" r="2.25" fill="#70ff87"/><circle cx="257.5" cy="771.6" r="2.25" fill="#63ff94"/><circle cx="387.9" cy="761.2" r="2.25" fill="#7aff7d"/><circle cx="396.0" cy="761.2" r="2.25" fill="#6dff8a"/><circle cx="405.6" cy="751.6" r="2.25" fill="#60ff97"/><circle cx="399.9" cy="767.5" r="2.25" fill="#63ff94"/><circle cx="429.4" cy="746.5" r="2.25" fill="#6aff8d"/><circle cx="432.8" cy="743.8" r="2.25" fill="#63ff94"/><circle cx="448.0" cy="745.6" r="2.25" fill="#83ff73"/><circle cx="452.5" cy="741.6" r="2.25" fill="#6aff8d"/><circle cx="466.0" cy="746.0" r="2.25" fill="#63ff94"/><circle cx="466.5" cy="747.8" r="2.25" fill="#63ff94"/><circle cx="448.8" cy="755.6" r="2.25" fill="#60ff97"/><circle cx="430.9" cy="768.1" r="2.25" fill="#7dff7a"/><circle cx="469.5" cy="761.9" r="2.25" fill="#63ff94"/><circle cx="477.2" cy="767.9" r="2.25" fill="#9dff5a"/><circle cx="486.0" cy="742.5" r="2.25" fill="#7dff7a"/><circle cx="489.4" cy="741.5" r="2.25" fill="#80ff77"/><circle cx="490.0" cy="756.9" r="2.25" fill="#7aff7d"/><circle cx="492.5" cy="758.5" r="2.25" fill="#63ff94"/><circle cx="498.1" cy="757.5" r="2.25" fill="#70ff87"/><circle cx="489.0" cy="761.6" r="2.25" fill="#8dff6a"/><circle cx="482.8" cy="772.2" r="2.25" fill="#70ff87"/><circle cx="485.9" cy="771.2" r="2.25" fill="#8aff6d"/><circle cx="496.5" cy="774.4" r="2.25" fill="#7aff7d"/><circle cx="337.2" cy="774.8" r="2.25" fill="#6aff8d"/><circle cx="353.1" cy="783.1" r="2.25" fill="#63ff94"/><circle cx="393.8" cy="781.5" r="2.25" fill="#63ff94"/><circle cx="430.2" cy="777.5" r="2.25" fill="#87ff70"/><circle cx="456.0" cy="779.0" r="2.25" fill="#66ff90"/><circle cx="459.4" cy="778.4" r="2.25" fill="#63ff94"/><circle cx="482.8" cy="775.6" r="2.25" fill="#83ff73"/><circle cx="483.8" cy="778.1" r="2.25" fill="#6dff8a"/><circle cx="487.9" cy="779.8" r="2.25" fill="#8dff6a"/><circle cx="493.8" cy="780.6" r="2.25" fill="#66ff90"/><circle cx="498.5" cy="780.9" r="2.25" fill="#6dff8a"/><circle cx="274.4" cy="788.5" r="2.25" fill="#8aff6d"/><circle cx="253.5" cy="791.2" r="2.25" fill="#80ff77"/><circle cx="348.1" cy="790.0" r="2.25" fill="#66ff90"/><circle cx="364.0" cy="791.2" r="2.25" fill="#6aff8d"/><circle cx="369.4" cy="793.5" r="2.25" fill="#90ff66"/><circle cx="387.6" cy="791.5" r="2.25" fill="#8aff6d"/><circle cx="388.0" cy="793.1" r="2.25" fill="#70ff87"/><circle cx="395.4" cy="794.6" r="2.25" fill="#7dff7a"/><circle cx="434.2" cy="787.8" r="2.25" fill="#60ff97"/><circle cx="439.4" cy="787.5" r="2.25" fill="#63ff94"/><circle cx="445.0" cy="787.5" r="2.25" fill="#73ff83"/><circle cx="453.5" cy="787.9" r="2.25" fill="#6aff8d"/><circle cx="451.0" cy="789.8" r="2.25" fill="#77ff80"/><circle cx="454.5" cy="790.8" r="2.25" fill="#80ff77"/><circle cx="461.2" cy="787.8" r="2.25" fill="#77ff80"/><circle cx="464.1" cy="787.8" r="2.25" fill="#73ff83"/><circle cx="467.5" cy="791.0" r="2.25" fill="#9aff5d"/><circle cx="463.4" cy="793.5" r="2.25" fill="#60ff97"/><circle cx="468.8" cy="785.0" r="2.25" fill="#8aff6d"/><circle cx="474.0" cy="791.9" r="2.25" fill="#8aff6d"/><circle cx="482.8" cy="783.8" r="2.25" fill="#8aff6d"/><circle cx="484.8" cy="786.6" r="2.25" fill="#83ff73"/><circle cx="493.5" cy="788.8" r="2.25" fill="#8aff6d"/><circle cx="338.4" cy="794.1" r="2.25" fill="#66ff90"/><circle cx="331.5" cy="796.0" r="2.25" fill="#7aff7d"/><circle cx="332.0" cy="798.1" r="2.25" fill="#80ff77"/><circle cx="343.4" cy="798.8" r="2.25" fill="#77ff80"/><circle cx="383.8" cy="797.5" r="2.25" fill="#60ff97"/><circle cx="409.4" cy="796.5" r="2.25" fill="#7dff7a"/><circle cx="274.4" cy="799.4" r="2.25" fill="#9dff5a"/><circle cx="260.6" cy="805.2" r="2.25" fill="#87ff70"/><circle cx="327.9" cy="806.2" r="2.25" fill="#73ff83"/><circle cx="339.1" cy="807.1" r="2.25" fill="#6aff8d"/><circle cx="392.9" cy="802.8" r="2.25" fill="#66ff90"/><circle cx="437.5" cy="801.2" r="2.25" fill="#8dff6a"/><circle cx="445.2" cy="802.9" r="2.25" fill="#7dff7a"/><circle cx="482.8" cy="799.8" r="2.25" fill="#6dff8a"/><circle cx="485.6" cy="798.8" r="2.25" fill="#60ff97"/><circle cx="485.9" cy="802.5" r="2.25" fill="#60ff97"/><circle cx="490.0" cy="796.5" r="2.25" fill="#87ff70"/><circle cx="492.5" cy="802.5" r="2.25" fill="#7aff7d"/><circle cx="476.0" cy="804.5" r="2.25" fill="#6aff8d"/><circle cx="470.0" cy="805.9" r="2.25" fill="#87ff70"/><circle cx="463.4" cy="808.1" r="2.25" fill="#77ff80"/><circle cx="453.1" cy="811.4" r="2.25" fill="#7aff7d"/><circle cx="443.1" cy="814.6" r="2.25" fill="#63ff94"/><circle cx="459.4" cy="819.0" r="2.25" fill="#83ff73"/><circle cx="475.0" cy="812.8" r="2.25" fill="#8dff6a"/><circle cx="492.9" cy="815.0" r="2.25" fill="#77ff80"/><circle cx="385.0" cy="818.1" r="2.25" fill="#77ff80"/><circle cx="377.8" cy="824.4" r="2.25" fill="#60ff97"/><circle cx="251.9" cy="826.5" r="2.25" fill="#6dff8a"/><circle cx="481.2" cy="824.8" r="2.25" fill="#80ff77"/><circle cx="484.0" cy="829.8" r="2.25" fill="#70ff87"/><circle cx="415.9" cy="832.2" r="2.25" fill="#6dff8a"/><circle cx="313.4" cy="833.8" r="2.25" fill="#87ff70"/><circle cx="317.1" cy="837.0" r="2.25" fill="#73ff83"/><circle cx="407.8" cy="842.5" r="2.25" fill="#83ff73"/><circle cx="438.8" cy="841.9" r="2.25" fill="#66ff90"/><circle cx="487.5" cy="846.9" r="2.25" fill="#70ff87"/><circle cx="372.5" cy="856.5" r="2.25" fill="#73ff83"/><circle cx="390.4" cy="856.5" r="2.25" fill="#7dff7a"/><circle cx="397.1" cy="856.5" r="2.25" fill="#83ff73"/><circle cx="457.2" cy="856.5" r="2.25" fill="#7dff7a"/><circle cx="471.5" cy="856.5" r="2.25" fill="#73ff83"/><circle cx="557.2" cy="682.6" r="2.25" fill="#8dff6a"/><circle cx="623.4" cy="677.5" r="2.25" fill="#83ff73"/><circle cx="635.2" cy="676.5" r="2.25" fill="#70ff87"/><circle cx="649.4" cy="683.4" r="2.25" fill="#8aff6d"/><circle cx="732.2" cy="683.4" r="2.25" fill="#87ff70"/><circle cx="502.2" cy="695.4" r="2.25" fill="#60ff97"/><circle cx="519.4" cy="695.4" r="2.25" fill="#73ff83"/><circle cx="565.8" cy="694.0" r="2.25" fill="#60ff97"/><circle cx="668.4" cy="691.4" r="2.25" fill="#87ff70"/><circle cx="674.4" cy="692.9" r="2.25" fill="#7dff7a"/><circle cx="677.2" cy="692.5" r="2.25" fill="#8aff6d"/><circle cx="686.2" cy="693.4" r="2.25" fill="#87ff70"/><circle cx="735.6" cy="695.6" r="2.25" fill="#77ff80"/><circle cx="528.5" cy="701.2" r="2.25" fill="#80ff77"/><circle cx="541.2" cy="699.4" r="2.25" fill="#6dff8a"/><circle cx="540.2" cy="703.4" r="2.25" fill="#7aff7d"/><circle cx="611.2" cy="698.4" r="2.25" fill="#8aff6d"/><circle cx="584.4" cy="702.2" r="2.25" fill="#8dff6a"/><circle cx="510.0" cy="705.2" r="2.25" fill="#60ff97"/><circle cx="535.0" cy="707.8" r="2.25" fill="#6dff8a"/><circle cx="589.0" cy="706.2" r="2.25" fill="#87ff70"/><circle cx="588.8" cy="708.1" r="2.25" fill="#66ff90"/><circle cx="596.0" cy="705.2" r="2.25" fill="#8dff6a"/><circle cx="636.6" cy="707.6" r="2.25" fill="#6dff8a"/><circle cx="658.8" cy="706.6" r="2.25" fill="#66ff90"/><circle cx="663.4" cy="705.6" r="2.25" fill="#83ff73"/><circle cx="716.1" cy="705.0" r="2.25" fill="#83ff73"/><circle cx="721.5" cy="706.5" r="2.25" fill="#73ff83"/><circle cx="748.8" cy="704.0" r="2.25" fill="#66ff90"/><circle cx="610.2" cy="709.6" r="2.25" fill="#8aff6d"/><circle cx="624.4" cy="710.6" r="2.25" fill="#80ff77"/><circle cx="649.4" cy="710.4" r="2.25" fill="#80ff77"/><circle cx="692.0" cy="709.6" r="2.25" fill="#63ff94"/><circle cx="700.4" cy="709.4" r="2.25" fill="#73ff83"/><circle cx="708.8" cy="712.2" r="2.25" fill="#66ff90"/><circle cx="709.0" cy="715.0" r="2.25" fill="#77ff80"/><circle cx="510.0" cy="711.9" r="2.25" fill="#83ff73"/><circle cx="517.0" cy="711.5" r="2.25" fill="#8dff6a"/><circle cx="531.5" cy="714.4" r="2.25" fill="#87ff70"/><circle cx="560.0" cy="715.4" r="2.25" fill="#70ff87"/><circle cx="578.8" cy="715.2" r="2.25" fill="#6dff8a"/><circle cx="582.5" cy="716.2" r="2.25" fill="#66ff90"/><circle cx="585.0" cy="717.8" r="2.25" fill="#66ff90"/><circle cx="595.4" cy="713.1" r="2.25" fill="#70ff87"/><circle cx="632.5" cy="715.8" r="2.25" fill="#87ff70"/><circle cx="639.5" cy="713.5" r="2.25" fill="#60ff97"/><circle cx="623.4" cy="719.4" r="2.25" fill="#6dff8a"/><circle cx="680.9" cy="718.5" r="2.25" fill="#60ff97"/><circle cx="735.4" cy="718.4" r="2.25" fill="#80ff77"/><circle cx="503.5" cy="724.0" r="2.25" fill="#73ff83"/><circle cx="505.0" cy="726.9" r="2.25" fill="#80ff77"/><circle cx="519.4" cy="723.4" r="2.25" fill="#8dff6a"/><circle cx="525.0" cy="722.8" r="2.25" fill="#7dff7a"/><circle cx="532.5" cy="726.2" r="2.25" fill="#60ff97"/><circle cx="601.0" cy="723.8" r="2.25" fill="#6aff8d"/><circle cx="645.6" cy="722.5" r="2.25" fill="#80ff77"/><circle cx="651.0" cy="722.1" r="2.25" fill="#83ff73"/><circle cx="656.5" cy="725.2" r="2.25" fill="#90ff66"/><circle cx="677.5" cy="723.4" r="2.25" fill="#94ff63"/><circle cx="699.2" cy="725.6" r="2.25" fill="#63ff94"/><circle cx="720.4" cy="725.6" r="2.25" fill="#70ff87"/><circle cx="724.4" cy="725.0" r="2.25" fill="#7aff7d"/><circle cx="726.9" cy="721.9" r="2.25" fill="#73ff83"/><circle cx="746.0" cy="722.1" r="2.25" fill="#60ff97"/><circle cx="749.1" cy="721.0" r="2.25" fill="#87ff70"/><circle cx="522.8" cy="728.8" r="2.25" fill="#70ff87"/><circle cx="526.5" cy="729.8" r="2.25" fill="#66ff90"/><circle cx="514.8" cy="731.0" r="2.25" fill="#8aff6d"/><circle cx="516.0" cy="731.9" r="2.25" fill="#6aff8d"/><circle cx="548.4" cy="730.9" r="2.25" fill="#70ff87"/><circle cx="559.4" cy="729.4" r="2.25" fill="#7dff7a"/><circle cx="606.9" cy="728.8" r="2.25" fill="#73ff83"/><circle cx="574.8" cy="731.2" r="2.25" fill="#87ff70"/><circle cx="687.1" cy="729.4" r="2.25" fill="#8aff6d"/><circle cx="690.6" cy="731.9" r="2.25" fill="#66ff90"/><circle cx="501.9" cy="734.8" r="2.25" fill="#63ff94"/><circle cx="525.0" cy="736.0" r="2.25" fill="#60ff97"/><circle cx="532.2" cy="735.2" r="2.25" fill="#6dff8a"/><circle cx="536.6" cy="734.8" r="2.25" fill="#70ff87"/><circle cx="568.8" cy="735.4" r="2.25" fill="#7aff7d"/><circle cx="578.1" cy="736.0" r="2.25" fill="#66ff90"/><circle cx="583.8" cy="735.0" r="2.25" fill="#90ff66"/><circle cx="600.2" cy="733.5" r="2.25" fill="#9aff5d"/><circle cx="617.5" cy="737.9" r="2.25" fill="#8dff6a"/><circle cx="630.9" cy="736.9" r="2.25" fill="#66ff90"/><circle cx="635.6" cy="737.2" r="2.25" fill="#90ff66"/><circle cx="665.0" cy="734.4" r="2.25" fill="#83ff73"/><circle cx="683.4" cy="735.6" r="2.25" fill="#80ff77"/><circle cx="705.0" cy="733.8" r="2.25" fill="#90ff66"/><circle cx="710.6" cy="735.0" r="2.25" fill="#66ff90"/><circle cx="732.8" cy="735.0" r="2.25" fill="#8aff6d"/><circle cx="745.6" cy="735.6" r="2.25" fill="#83ff73"/><circle cx="501.9" cy="742.2" r="2.25" fill="#7aff7d"/><circle cx="507.8" cy="741.5" r="2.25" fill="#6dff8a"/><circle cx="521.9" cy="742.5" r="2.25" fill="#63ff94"/><circle cx="514.4" cy="747.1" r="2.25" fill="#7dff7a"/><circle cx="519.0" cy="750.2" r="2.25" fill="#60ff97"/><circle cx="512.1" cy="753.4" r="2.25" fill="#80ff77"/><circle cx="524.8" cy="752.5" r="2.25" fill="#7dff7a"/><circle cx="515.0" cy="758.1" r="2.25" fill="#73ff83"/><circle cx="539.4" cy="743.8" r="2.25" fill="#8dff6a"/><circle cx="539.4" cy="746.9" r="2.25" fill="#87ff70"/><circle cx="546.2" cy="742.5" r="2.25" fill="#6aff8d"/><circle cx="540.2" cy="755.6" r="2.25" fill="#77ff80"/><circle cx="549.6" cy="751.9" r="2.25" fill="#8aff6d"/><circle cx="554.8" cy="748.1" r="2.25" fill="#60ff97"/><circle cx="562.1" cy="743.8" r="2.25" fill="#66ff90"/><circle cx="564.0" cy="741.0" r="2.25" fill="#60ff97"/><circle cx="565.4" cy="751.5" r="2.25" fill="#8aff6d"/><circle cx="571.0" cy="745.0" r="2.25" fill="#7aff7d"/><circle cx="575.0" cy="746.2" r="2.25" fill="#7aff7d"/><circle cx="576.2" cy="749.4" r="2.25" fill="#8dff6a"/><circle cx="571.0" cy="751.5" r="2.25" fill="#6dff8a"/><circle cx="567.8" cy="758.1" r="2.25" fill="#7dff7a"/><circle cx="576.5" cy="756.5" r="2.25" fill="#5aff9d"/><circle cx="581.6" cy="754.0" r="2.25" fill="#8aff6d"/><circle cx="588.1" cy="747.1" r="2.25" fill="#73ff83"/><circle cx="591.0" cy="741.5" r="2.25" fill="#80ff77"/><circle cx="595.0" cy="746.9" r="2.25" fill="#94ff63"/><circle cx="597.9" cy="741.5" r="2.25" fill="#87ff70"/><circle cx="606.9" cy="742.8" r="2.25" fill="#77ff80"/><circle cx="602.5" cy="752.5" r="2.25" fill="#63ff94"/><circle cx="604.8" cy="753.1" r="2.25" fill="#60ff97"/><circle cx="603.8" cy="755.2" r="2.25" fill="#8aff6d"/><circle cx="612.5" cy="752.9" r="2.25" fill="#90ff66"/><circle cx="617.5" cy="751.2" r="2.25" fill="#83ff73"/><circle cx="618.5" cy="754.4" r="2.25" fill="#83ff73"/><circle cx="629.4" cy="741.0" r="2.25" fill="#77ff80"/><circle cx="627.9" cy="748.1" r="2.25" fill="#63ff94"/><circle cx="636.6" cy="747.1" r="2.25" fill="#5dff9a"/><circle cx="641.9" cy="748.8" r="2.25" fill="#77ff80"/><circle cx="643.1" cy="740.6" r="2.25" fill="#83ff73"/><circle cx="633.5" cy="757.8" r="2.25" fill="#7dff7a"/><circle cx="651.2" cy="752.5" r="2.25" fill="#7aff7d"/><circle cx="655.4" cy="755.9" r="2.25" fill="#9dff5a"/><circle cx="650.0" cy="756.9" r="2.25" fill="#73ff83"/><circle cx="666.9" cy="746.0" r="2.25" fill="#6dff8a"/><circle cx="668.8" cy="746.9" r="2.25" fill="#87ff70"/><circle cx="674.0" cy="750.0" r="2.25" fill="#80ff77"/><circle cx="676.6" cy="749.4" r="2.25" fill="#80ff77"/><circle cx="676.6" cy="755.6" r="2.25" fill="#8aff6d"/><circle cx="672.5" cy="758.4" r="2.25" fill="#63ff94"/><circle cx="686.2" cy="740.6" r="2.25" fill="#5dff9a"/><circle cx="690.0" cy="740.6" r="2.25" fill="#8aff6d"/><circle cx="691.2" cy="751.2" r="2.25" fill="#77ff80"/><circle cx="697.1" cy="745.6" r="2.25" fill="#6aff8d"/><circle cx="697.9" cy="754.6" r="2.25" fill="#77ff80"/><circle cx="702.5" cy="740.6" r="2.25" fill="#83ff73"/><circle cx="709.4" cy="741.2" r="2.25" fill="#60ff97"/><circle cx="721.0" cy="745.0" r="2.25" fill="#83ff73"/><circle cx="721.9" cy="751.2" r="2.25" fill="#6dff8a"/><circle cx="723.8" cy="751.2" r="2.25" fill="#66ff90"/><circle cx="729.1" cy="742.2" r="2.25" fill="#7dff7a"/><circle cx="732.2" cy="747.1" r="2.25" fill="#7dff7a"/><circle cx="742.5" cy="742.8" r="2.25" fill="#6dff8a"/><circle cx="739.4" cy="756.2" r="2.25" fill="#6aff8d"/><circle cx="744.4" cy="755.2" r="2.25" fill="#70ff87"/><circle cx="748.5" cy="756.0" r="2.25" fill="#8aff6d"/><circle cx="527.8" cy="768.1" r="2.25" fill="#60ff97"/><circle cx="540.8" cy="766.2" r="2.25" fill="#7dff7a"/><circle cx="559.4" cy="765.0" r="2.25" fill="#6dff8a"/><circle cx="576.5" cy="769.4" r="2.25" fill="#66ff90"/><circle cx="584.6" cy="760.6" r="2.25" fill="#63ff94"/><circle cx="590.2" cy="760.2" r="2.25" fill="#7aff7d"/><circle cx="603.8" cy="759.8" r="2.25" fill="#6aff8d"/><circle cx="606.0" cy="765.0" r="2.25" fill="#73ff83"/><circle cx="622.9" cy="758.5" r="2.25" fill="#6dff8a"/><circle cx="630.4" cy="762.5" r="2.25" fill="#6aff8d"/><circle cx="658.1" cy="766.6" r="2.25" fill="#66ff90"/><circle cx="669.4" cy="768.5" r="2.25" fill="#60ff97"/><circle cx="666.2" cy="761.2" r="2.25" fill="#6aff8d"/><circle cx="668.5" cy="760.0" r="2.25" fill="#60ff97"/><circle cx="708.8" cy="765.6" r="2.25" fill="#63ff94"/><circle cx="715.6" cy="755.9" r="2.25" fill="#60ff97"/><circle cx="721.0" cy="760.6" r="2.25" fill="#73ff83"/><circle cx="721.5" cy="766.0" r="2.25" fill="#6aff8d"/><circle cx="741.9" cy="766.9" r="2.25" fill="#77ff80"/><circle cx="741.2" cy="763.1" r="2.25" fill="#6aff8d"/><circle cx="747.2" cy="759.8" r="2.25" fill="#87ff70"/><circle cx="573.5" cy="773.5" r="2.25" fill="#73ff83"/><circle cx="595.0" cy="772.2" r="2.25" fill="#7aff7d"/><circle cx="604.8" cy="771.5" r="2.25" fill="#73ff83"/><circle cx="648.8" cy="771.9" r="2.25" fill="#7aff7d"/><circle cx="687.2" cy="772.8" r="2.25" fill="#66ff90"/><circle cx="740.6" cy="774.0" r="2.25" fill="#7aff7d"/><circle cx="500.0" cy="781.0" r="2.25" fill="#7aff7d"/><circle cx="506.9" cy="785.6" r="2.25" fill="#63ff94"/><circle cx="532.5" cy="776.5" r="2.25" fill="#7aff7d"/><circle cx="523.5" cy="781.5" r="2.25" fill="#83ff73"/><circle cx="526.9" cy="781.0" r="2.25" fill="#6dff8a"/><circle cx="539.1" cy="781.0" r="2.25" fill="#8dff6a"/><circle cx="526.0" cy="787.9" r="2.25" fill="#6aff8d"/><circle cx="560.0" cy="783.5" r="2.25" fill="#70ff87"/><circle cx="557.8" cy="787.5" r="2.25" fill="#8aff6d"/><circle cx="552.2" cy="787.8" r="2.25" fill="#63ff94"/><circle cx="571.6" cy="782.2" r="2.25" fill="#80ff77"/><circle cx="577.1" cy="787.8" r="2.25" fill="#60ff97"/><circle cx="582.8" cy="776.9" r="2.25" fill="#80ff77"/><circle cx="586.2" cy="782.2" r="2.25" fill="#8aff6d"/><circle cx="591.0" cy="776.6" r="2.25" fill="#7dff7a"/><circle cx="602.5" cy="779.6" r="2.25" fill="#6dff8a"/><circle cx="610.2" cy="776.2" r="2.25" fill="#77ff80"/><circle cx="612.1" cy="780.6" r="2.25" fill="#60ff97"/><circle cx="622.0" cy="775.0" r="2.25" fill="#66ff90"/><circle cx="624.1" cy="781.5" r="2.25" fill="#6dff8a"/><circle cx="622.9" cy="787.5" r="2.25" fill="#83ff73"/><circle cx="594.4" cy="790.0" r="2.25" fill="#6aff8d"/><circle cx="600.6" cy="788.5" r="2.25" fill="#7aff7d"/><circle cx="606.9" cy="787.8" r="2.25" fill="#83ff73"/><circle cx="607.2" cy="790.0" r="2.25" fill="#8aff6d"/><circle cx="639.0" cy="785.6" r="2.25" fill="#90ff66"/><circle cx="645.4" cy="786.9" r="2.25" fill="#73ff83"/><circle cx="658.1" cy="784.0" r="2.25" fill="#87ff70"/><circle cx="660.0" cy="780.2" r="2.25" fill="#7dff7a"/><circle cx="663.5" cy="787.2" r="2.25" fill="#80ff77"/><circle cx="666.2" cy="786.5" r="2.25" fill="#7dff7a"/><circle cx="667.5" cy="788.1" r="2.25" fill="#80ff77"/><circle cx="670.9" cy="780.2" r="2.25" fill="#8aff6d"/><circle cx="675.4" cy="784.4" r="2.25" fill="#66ff90"/><circle cx="678.1" cy="777.5" r="2.25" fill="#70ff87"/><circle cx="679.0" cy="782.5" r="2.25" fill="#87ff70"/><circle cx="687.2" cy="788.5" r="2.25" fill="#77ff80"/><circle cx="689.4" cy="788.1" r="2.25" fill="#6aff8d"/><circle cx="699.8" cy="783.1" r="2.25" fill="#7aff7d"/><circle cx="699.8" cy="786.5" r="2.25" fill="#66ff90"/><circle cx="702.5" cy="780.0" r="2.25" fill="#60ff97"/><circle cx="707.2" cy="783.1" r="2.25" fill="#83ff73"/><circle cx="712.5" cy="776.6" r="2.25" fill="#6dff8a"/><circle cx="710.0" cy="787.9" r="2.25" fill="#90ff66"/><circle cx="722.2" cy="782.9" r="2.25" fill="#73ff83"/><circle cx="725.6" cy="775.2" r="2.25" fill="#8dff6a"/><circle cx="731.2" cy="781.0" r="2.25" fill="#60ff97"/><circle cx="734.4" cy="783.1" r="2.25" fill="#9aff5d"/><circle cx="736.2" cy="784.4" r="2.25" fill="#6aff8d"/><circle cx="734.8" cy="787.5" r="2.25" fill="#9dff5a"/><circle cx="733.1" cy="786.5" r="2.25" fill="#77ff80"/><circle cx="741.9" cy="785.4" r="2.25" fill="#8dff6a"/><circle cx="745.6" cy="786.0" r="2.25" fill="#80ff77"/><circle cx="748.1" cy="789.4" r="2.25" fill="#6aff8d"/><circle cx="505.2" cy="795.0" r="2.25" fill="#7dff7a"/><circle cx="506.0" cy="798.1" r="2.25" fill="#7dff7a"/><circle cx="510.6" cy="795.6" r="2.25" fill="#60ff97"/><circle cx="514.4" cy="796.0" r="2.25" fill="#66ff90"/><circle cx="517.1" cy="796.5" r="2.25" fill="#7dff7a"/><circle cx="529.4" cy="794.6" r="2.25" fill="#6dff8a"/><circle cx="533.1" cy="797.8" r="2.25" fill="#77ff80"/><circle cx="534.4" cy="791.5" r="2.25" fill="#73ff83"/><circle cx="538.5" cy="790.6" r="2.25" fill="#87ff70"/><circle cx="541.0" cy="796.2" r="2.25" fill="#7aff7d"/><circle cx="523.8" cy="797.5" r="2.25" fill="#7dff7a"/><circle cx="521.9" cy="801.2" r="2.25" fill="#66ff90"/><circle cx="523.8" cy="801.2" r="2.25" fill="#6dff8a"/><circle cx="545.6" cy="799.6" r="2.25" fill="#66ff90"/><circle cx="548.1" cy="794.0" r="2.25" fill="#87ff70"/><circle cx="553.1" cy="792.1" r="2.25" fill="#73ff83"/><circle cx="556.2" cy="792.5" r="2.25" fill="#7aff7d"/><circle cx="557.8" cy="798.8" r="2.25" fill="#7dff7a"/><circle cx="564.0" cy="790.2" r="2.25" fill="#60ff97"/><circle cx="566.2" cy="794.8" r="2.25" fill="#80ff77"/><circle cx="575.0" cy="793.8" r="2.25" fill="#7aff7d"/><circle cx="580.0" cy="796.9" r="2.25" fill="#70ff87"/><circle cx="582.9" cy="798.8" r="2.25" fill="#90ff66"/><circle cx="586.2" cy="796.9" r="2.25" fill="#6aff8d"/><circle cx="588.5" cy="794.8" r="2.25" fill="#7aff7d"/><circle cx="592.0" cy="798.8" r="2.25" fill="#6aff8d"/><circle cx="618.5" cy="792.8" r="2.25" fill="#87ff70"/><circle cx="624.4" cy="793.8" r="2.25" fill="#83ff73"/><circle cx="628.5" cy="793.5" r="2.25" fill="#87ff70"/><circle cx="629.4" cy="791.2" r="2.25" fill="#8dff6a"/><circle cx="609.1" cy="801.2" r="2.25" fill="#8aff6d"/><circle cx="634.4" cy="801.2" r="2.25" fill="#6aff8d"/><circle cx="638.1" cy="795.9" r="2.25" fill="#8aff6d"/><circle cx="645.6" cy="800.0" r="2.25" fill="#70ff87"/><circle cx="648.5" cy="793.5" r="2.25" fill="#83ff73"/><circle cx="652.8" cy="791.9" r="2.25" fill="#63ff94"/><circle cx="658.8" cy="795.6" r="2.25" fill="#70ff87"/><circle cx="662.1" cy="797.8" r="2.25" fill="#6dff8a"/><circle cx="668.1" cy="798.8" r="2.25" fill="#8dff6a"/><circle cx="676.0" cy="791.9" r="2.25" fill="#8dff6a"/><circle cx="676.2" cy="801.5" r="2.25" fill="#6dff8a"/><circle cx="679.4" cy="798.4" r="2.25" fill="#66ff90"/><circle cx="682.8" cy="795.9" r="2.25" fill="#60ff97"/><circle cx="678.5" cy="802.2" r="2.25" fill="#7aff7d"/><circle cx="684.0" cy="804.4" r="2.25" fill="#53ffa4"/><circle cx="690.9" cy="800.2" r="2.25" fill="#73ff83"/><circle cx="693.5" cy="796.5" r="2.25" fill="#7dff7a"/><circle cx="698.8" cy="791.0" r="2.25" fill="#7aff7d"/><circle cx="699.6" cy="797.8" r="2.25" fill="#8aff6d"/><circle cx="710.9" cy="792.9" r="2.25" fill="#63ff94"/><circle cx="714.4" cy="794.6" r="2.25" fill="#87ff70"/><circle cx="710.4" cy="796.6" r="2.25" fill="#8aff6d"/><circle cx="719.0" cy="793.8" r="2.25" fill="#77ff80"/><circle cx="721.0" cy="794.4" r="2.25" fill="#73ff83"/><circle cx="727.5" cy="798.8" r="2.25" fill="#87ff70"/><circle cx="727.8" cy="801.5" r="2.25" fill="#8aff6d"/><circle cx="726.9" cy="803.1" r="2.25" fill="#7aff7d"/><circle cx="737.2" cy="794.8" r="2.25" fill="#73ff83"/><circle cx="738.8" cy="796.5" r="2.25" fill="#66ff90"/><circle cx="742.2" cy="792.2" r="2.25" fill="#6dff8a"/><circle cx="743.8" cy="798.1" r="2.25" fill="#83ff73"/><circle cx="748.1" cy="796.2" r="2.25" fill="#8dff6a"/><circle cx="749.1" cy="801.6" r="2.25" fill="#7aff7d"/><circle cx="745.0" cy="804.1" r="2.25" fill="#66ff90"/><circle cx="515.4" cy="806.2" r="2.25" fill="#7dff7a"/><circle cx="524.4" cy="808.1" r="2.25" fill="#7dff7a"/><circle cx="535.6" cy="807.2" r="2.25" fill="#77ff80"/><circle cx="554.1" cy="806.2" r="2.25" fill="#66ff90"/><circle cx="562.0" cy="811.5" r="2.25" fill="#8aff6d"/><circle cx="572.2" cy="804.4" r="2.25" fill="#6dff8a"/><circle cx="571.9" cy="805.0" r="2.25" fill="#90ff66"/><circle cx="607.2" cy="807.5" r="2.25" fill="#60ff97"/><circle cx="606.6" cy="812.5" r="2.25" fill="#87ff70"/><circle cx="615.0" cy="807.9" r="2.25" fill="#7aff7d"/><circle cx="646.2" cy="806.2" r="2.25" fill="#63ff94"/><circle cx="651.9" cy="803.5" r="2.25" fill="#60ff97"/><circle cx="651.9" cy="806.9" r="2.25" fill="#83ff73"/><circle cx="659.0" cy="810.6" r="2.25" fill="#6dff8a"/><circle cx="674.8" cy="808.8" r="2.25" fill="#6dff8a"/><circle cx="684.5" cy="807.5" r="2.25" fill="#90ff66"/><circle cx="682.9" cy="814.0" r="2.25" fill="#8dff6a"/><circle cx="688.4" cy="812.2" r="2.25" fill="#73ff83"/><circle cx="701.5" cy="806.9" r="2.25" fill="#60ff97"/><circle cx="697.2" cy="814.8" r="2.25" fill="#8aff6d"/><circle cx="715.4" cy="807.5" r="2.25" fill="#80ff77"/><circle cx="716.5" cy="812.8" r="2.25" fill="#8dff6a"/><circle cx="725.0" cy="810.2" r="2.25" fill="#66ff90"/><circle cx="507.2" cy="818.5" r="2.25" fill="#6dff8a"/><circle cx="540.6" cy="819.4" r="2.25" fill="#8dff6a"/><circle cx="546.0" cy="822.2" r="2.25" fill="#8aff6d"/><circle cx="573.8" cy="817.2" r="2.25" fill="#49ffad"/><circle cx="575.6" cy="817.5" r="2.25" fill="#6aff8d"/><circle cx="594.6" cy="816.2" r="2.25" fill="#83ff73"/><circle cx="602.8" cy="821.5" r="2.25" fill="#60ff97"/><circle cx="614.1" cy="822.9" r="2.25" fill="#6dff8a"/><circle cx="625.0" cy="819.6" r="2.25" fill="#73ff83"/><circle cx="627.5" cy="822.5" r="2.25" fill="#66ff90"/><circle cx="654.6" cy="821.2" r="2.25" fill="#8dff6a"/><circle cx="655.4" cy="821.9" r="2.25" fill="#60ff97"/><circle cx="663.4" cy="821.2" r="2.25" fill="#7dff7a"/><circle cx="668.5" cy="816.5" r="2.25" fill="#70ff87"/><circle cx="669.4" cy="821.0" r="2.25" fill="#63ff94"/><circle cx="693.1" cy="822.8" r="2.25" fill="#87ff70"/><circle cx="697.9" cy="822.1" r="2.25" fill="#7aff7d"/><circle cx="731.0" cy="818.1" r="2.25" fill="#77ff80"/><circle cx="728.5" cy="822.8" r="2.25" fill="#8aff6d"/><circle cx="502.1" cy="828.8" r="2.25" fill="#87ff70"/><circle cx="512.9" cy="828.1" r="2.25" fill="#7aff7d"/><circle cx="518.1" cy="828.1" r="2.25" fill="#6dff8a"/><circle cx="518.5" cy="831.0" r="2.25" fill="#60ff97"/><circle cx="518.8" cy="833.1" r="2.25" fill="#6aff8d"/><circle cx="508.1" cy="836.2" r="2.25" fill="#8dff6a"/><circle cx="510.6" cy="836.5" r="2.25" fill="#70ff87"/><circle cx="521.2" cy="838.1" r="2.25" fill="#70ff87"/><circle cx="529.4" cy="836.0" r="2.25" fill="#83ff73"/><circle cx="536.5" cy="834.8" r="2.25" fill="#60ff97"/><circle cx="539.5" cy="829.8" r="2.25" fill="#87ff70"/><circle cx="545.6" cy="834.0" r="2.25" fill="#63ff94"/><circle cx="553.1" cy="828.8" r="2.25" fill="#80ff77"/><circle cx="574.8" cy="824.6" r="2.25" fill="#8dff6a"/><circle cx="580.0" cy="824.4" r="2.25" fill="#8dff6a"/><circle cx="582.6" cy="828.5" r="2.25" fill="#83ff73"/><circle cx="595.0" cy="828.1" r="2.25" fill="#70ff87"/><circle cx="600.9" cy="829.8" r="2.25" fill="#7aff7d"/><circle cx="599.6" cy="833.1" r="2.25" fill="#63ff94"/><circle cx="598.8" cy="836.9" r="2.25" fill="#7dff7a"/><circle cx="597.8" cy="833.5" r="2.25" fill="#6aff8d"/><circle cx="595.2" cy="838.8" r="2.25" fill="#66ff90"/><circle cx="592.1" cy="840.0" r="2.25" fill="#8aff6d"/><circle cx="606.2" cy="830.6" r="2.25" fill="#6dff8a"/><circle cx="611.0" cy="828.1" r="2.25" fill="#60ff97"/><circle cx="611.2" cy="835.4" r="2.25" fill="#8aff6d"/><circle cx="606.6" cy="837.5" r="2.25" fill="#7dff7a"/><circle cx="618.5" cy="835.4" r="2.25" fill="#7aff7d"/><circle cx="614.8" cy="840.0" r="2.25" fill="#6dff8a"/><circle cx="625.0" cy="841.0" r="2.25" fill="#77ff80"/><circle cx="644.0" cy="824.4" r="2.25" fill="#83ff73"/><circle cx="645.4" cy="826.2" r="2.25" fill="#70ff87"/><circle cx="641.2" cy="829.8" r="2.25" fill="#77ff80"/><circle cx="646.9" cy="830.2" r="2.25" fill="#8dff6a"/><circle cx="650.0" cy="830.6" r="2.25" fill="#60ff97"/><circle cx="653.8" cy="830.6" r="2.25" fill="#8aff6d"/><circle cx="648.1" cy="839.4" r="2.25" fill="#7aff7d"/><circle cx="661.9" cy="831.2" r="2.25" fill="#60ff97"/><circle cx="659.0" cy="835.0" r="2.25" fill="#6dff8a"/><circle cx="661.2" cy="838.1" r="2.25" fill="#6aff8d"/><circle cx="670.6" cy="824.1" r="2.25" fill="#6aff8d"/><circle cx="672.2" cy="825.0" r="2.25" fill="#70ff87"/><circle cx="678.1" cy="824.0" r="2.25" fill="#66ff90"/><circle cx="681.2" cy="828.5" r="2.25" fill="#6aff8d"/><circle cx="682.5" cy="830.2" r="2.25" fill="#53ffa4"/><circle cx="671.0" cy="836.5" r="2.25" fill="#66ff90"/><circle cx="677.5" cy="836.2" r="2.25" fill="#60ff97"/><circle cx="683.1" cy="838.1" r="2.25" fill="#7dff7a"/><circle cx="684.8" cy="835.6" r="2.25" fill="#80ff77"/><circle cx="688.8" cy="834.0" r="2.25" fill="#83ff73"/><circle cx="690.9" cy="838.1" r="2.25" fill="#90ff66"/><circle cx="690.6" cy="827.5" r="2.25" fill="#6aff8d"/><circle cx="703.8" cy="826.2" r="2.25" fill="#60ff97"/><circle cx="707.9" cy="824.4" r="2.25" fill="#70ff87"/><circle cx="711.6" cy="824.4" r="2.25" fill="#80ff77"/><circle cx="715.0" cy="822.8" r="2.25" fill="#70ff87"/><circle cx="703.1" cy="830.0" r="2.25" fill="#87ff70"/><circle cx="707.5" cy="830.0" r="2.25" fill="#7dff7a"/><circle cx="711.2" cy="832.2" r="2.25" fill="#87ff70"/><circle cx="713.1" cy="829.8" r="2.25" fill="#8dff6a"/><circle cx="717.2" cy="829.8" r="2.25" fill="#70ff87"/><circle cx="721.9" cy="829.8" r="2.25" fill="#73ff83"/><circle cx="702.5" cy="834.4" r="2.25" fill="#63ff94"/><circle cx="716.2" cy="835.6" r="2.25" fill="#8aff6d"/><circle cx="720.0" cy="835.0" r="2.25" fill="#77ff80"/><circle cx="722.2" cy="833.1" r="2.25" fill="#63ff94"/><circle cx="726.9" cy="834.0" r="2.25" fill="#7dff7a"/><circle cx="729.0" cy="832.5" r="2.25" fill="#6dff8a"/><circle cx="733.1" cy="828.8" r="2.25" fill="#8aff6d"/><circle cx="736.2" cy="826.2" r="2.25" fill="#80ff77"/><circle cx="742.9" cy="824.8" r="2.25" fill="#7aff7d"/><circle cx="748.5" cy="825.2" r="2.25" fill="#66ff90"/><circle cx="746.9" cy="830.0" r="2.25" fill="#77ff80"/><circle cx="741.9" cy="832.8" r="2.25" fill="#87ff70"/><circle cx="742.2" cy="834.0" r="2.25" fill="#70ff87"/><circle cx="704.4" cy="839.6" r="2.25" fill="#4dffaa"/><circle cx="720.0" cy="839.6" r="2.25" fill="#8dff6a"/><circle cx="566.9" cy="841.9" r="2.25" fill="#8aff6d"/><circle cx="673.1" cy="841.2" r="2.25" fill="#70ff87"/><circle cx="664.0" cy="846.2" r="2.25" fill="#87ff70"/><circle cx="665.0" cy="846.9" r="2.25" fill="#66ff90"/><circle cx="741.9" cy="841.6" r="2.25" fill="#66ff90"/><circle cx="741.5" cy="856.5" r="2.25" fill="#77ff80"/><circle cx="799.8" cy="628.8" r="2.25" fill="#8aff6d"/><circle cx="841.0" cy="676.6" r="2.25" fill="#8aff6d"/><circle cx="885.6" cy="675.4" r="2.25" fill="#77ff80"/><circle cx="885.9" cy="683.5" r="2.25" fill="#63ff94"/><circle cx="879.4" cy="685.9" r="2.25" fill="#66ff90"/><circle cx="874.8" cy="688.5" r="2.25" fill="#70ff87"/><circle cx="871.9" cy="690.2" r="2.25" fill="#7dff7a"/><circle cx="882.2" cy="691.4" r="2.25" fill="#63ff94"/><circle cx="838.9" cy="690.4" r="2.25" fill="#70ff87"/><circle cx="819.6" cy="692.1" r="2.25" fill="#80ff77"/><circle cx="809.4" cy="695.4" r="2.25" fill="#6dff8a"/><circle cx="806.5" cy="699.5" r="2.25" fill="#60ff97"/><circle cx="788.8" cy="699.5" r="2.25" fill="#66ff90"/><circle cx="949.4" cy="680.4" r="2.25" fill="#83ff73"/><circle cx="919.5" cy="691.6" r="2.25" fill="#7dff7a"/><circle cx="939.4" cy="694.4" r="2.25" fill="#77ff80"/><circle cx="907.8" cy="697.6" r="2.25" fill="#63ff94"/><circle cx="929.0" cy="700.4" r="2.25" fill="#60ff97"/><circle cx="958.8" cy="694.8" r="2.25" fill="#6dff8a"/><circle cx="956.5" cy="699.6" r="2.25" fill="#6dff8a"/><circle cx="966.2" cy="699.6" r="2.25" fill="#63ff94"/><circle cx="974.6" cy="702.2" r="2.25" fill="#73ff83"/><circle cx="992.9" cy="695.4" r="2.25" fill="#70ff87"/><circle cx="988.8" cy="706.5" r="2.25" fill="#7aff7d"/><circle cx="949.1" cy="706.0" r="2.25" fill="#6dff8a"/><circle cx="916.2" cy="703.5" r="2.25" fill="#7aff7d"/><circle cx="915.9" cy="707.9" r="2.25" fill="#73ff83"/><circle cx="880.9" cy="702.1" r="2.25" fill="#8dff6a"/><circle cx="883.1" cy="704.8" r="2.25" fill="#6aff8d"/><circle cx="879.4" cy="707.5" r="2.25" fill="#77ff80"/><circle cx="858.8" cy="707.9" r="2.25" fill="#8dff6a"/><circle cx="833.5" cy="705.2" r="2.25" fill="#77ff80"/><circle cx="831.2" cy="709.4" r="2.25" fill="#7aff7d"/><circle cx="824.8" cy="710.0" r="2.25" fill="#7dff7a"/><circle cx="824.0" cy="703.1" r="2.25" fill="#87ff70"/><circle cx="810.0" cy="710.2" r="2.25" fill="#80ff77"/><circle cx="815.0" cy="711.6" r="2.25" fill="#83ff73"/><circle cx="791.2" cy="710.4" r="2.25" fill="#73ff83"/><circle cx="780.6" cy="708.1" r="2.25" fill="#7aff7d"/><circle cx="773.8" cy="704.8" r="2.25" fill="#77ff80"/><circle cx="772.5" cy="710.8" r="2.25" fill="#8aff6d"/><circle cx="775.4" cy="715.4" r="2.25" fill="#77ff80"/><circle cx="751.5" cy="704.5" r="2.25" fill="#53ffa4"/><circle cx="760.0" cy="711.0" r="2.25" fill="#66ff90"/><circle cx="762.2" cy="712.2" r="2.25" fill="#80ff77"/><circle cx="758.8" cy="715.0" r="2.25" fill="#73ff83"/><circle cx="926.2" cy="710.9" r="2.25" fill="#66ff90"/><circle cx="933.8" cy="711.2" r="2.25" fill="#7dff7a"/><circle cx="938.1" cy="715.9" r="2.25" fill="#66ff90"/><circle cx="942.5" cy="718.1" r="2.25" fill="#53ffa4"/><circle cx="976.2" cy="712.0" r="2.25" fill="#83ff73"/><circle cx="970.2" cy="715.0" r="2.25" fill="#87ff70"/><circle cx="972.9" cy="715.9" r="2.25" fill="#60ff97"/><circle cx="995.0" cy="714.8" r="2.25" fill="#70ff87"/><circle cx="995.6" cy="716.0" r="2.25" fill="#73ff83"/><circle cx="990.6" cy="718.4" r="2.25" fill="#6aff8d"/><circle cx="999.1" cy="713.8" r="2.25" fill="#73ff83"/><circle cx="980.6" cy="720.4" r="2.25" fill="#66ff90"/><circle cx="953.5" cy="721.2" r="2.25" fill="#83ff73"/><circle cx="953.8" cy="726.2" r="2.25" fill="#63ff94"/><circle cx="944.4" cy="726.2" r="2.25" fill="#8aff6d"/><circle cx="931.0" cy="717.8" r="2.25" fill="#63ff94"/><circle cx="926.9" cy="720.4" r="2.25" fill="#8dff6a"/><circle cx="928.8" cy="720.6" r="2.25" fill="#66ff90"/><circle cx="920.2" cy="722.2" r="2.25" fill="#8aff6d"/><circle cx="910.6" cy="722.2" r="2.25" fill="#66ff90"/><circle cx="905.0" cy="719.4" r="2.25" fill="#80ff77"/><circle cx="902.2" cy="715.6" r="2.25" fill="#6aff8d"/><circle cx="899.6" cy="723.1" r="2.25" fill="#63ff94"/><circle cx="898.1" cy="724.4" r="2.25" fill="#66ff90"/><circle cx="895.0" cy="722.2" r="2.25" fill="#6dff8a"/><circle cx="887.9" cy="717.8" r="2.25" fill="#73ff83"/><circle cx="884.4" cy="724.8" r="2.25" fill="#7aff7d"/><circle cx="877.8" cy="723.2" r="2.25" fill="#66ff90"/><circle cx="868.5" cy="716.9" r="2.25" fill="#77ff80"/><circle cx="867.1" cy="719.8" r="2.25" fill="#6dff8a"/><circle cx="864.8" cy="725.0" r="2.25" fill="#7aff7d"/><circle cx="858.5" cy="720.6" r="2.25" fill="#6dff8a"/><circle cx="850.4" cy="717.2" r="2.25" fill="#77ff80"/><circle cx="842.5" cy="720.4" r="2.25" fill="#6aff8d"/><circle cx="846.2" cy="724.0" r="2.25" fill="#7dff7a"/><circle cx="847.5" cy="726.2" r="2.25" fill="#8aff6d"/><circle cx="839.8" cy="726.9" r="2.25" fill="#8dff6a"/><circle cx="841.5" cy="729.4" r="2.25" fill="#7dff7a"/><circle cx="846.2" cy="731.2" r="2.25" fill="#87ff70"/><circle cx="843.5" cy="734.6" r="2.25" fill="#6aff8d"/><circle cx="835.4" cy="716.2" r="2.25" fill="#80ff77"/><circle cx="832.9" cy="728.8" r="2.25" fill="#8aff6d"/><circle cx="832.8" cy="731.2" r="2.25" fill="#87ff70"/><circle cx="857.9" cy="730.9" r="2.25" fill="#63ff94"/><circle cx="866.5" cy="733.2" r="2.25" fill="#80ff77"/><circle cx="866.5" cy="736.9" r="2.25" fill="#87ff70"/><circle cx="854.8" cy="735.4" r="2.25" fill="#66ff90"/><circle cx="880.6" cy="736.0" r="2.25" fill="#90ff66"/><circle cx="875.4" cy="731.2" r="2.25" fill="#73ff83"/><circle cx="879.4" cy="732.5" r="2.25" fill="#80ff77"/><circle cx="886.9" cy="732.2" r="2.25" fill="#5dff9a"/><circle cx="891.0" cy="737.5" r="2.25" fill="#56ffa0"/><circle cx="896.5" cy="731.2" r="2.25" fill="#7dff7a"/><circle cx="904.8" cy="731.0" r="2.25" fill="#70ff87"/><circle cx="907.9" cy="727.9" r="2.25" fill="#6dff8a"/><circle cx="904.0" cy="736.9" r="2.25" fill="#66ff90"/><circle cx="909.4" cy="736.9" r="2.25" fill="#77ff80"/><circle cx="915.0" cy="731.2" r="2.25" fill="#7aff7d"/><circle cx="916.9" cy="733.8" r="2.25" fill="#70ff87"/><circle cx="921.2" cy="732.5" r="2.25" fill="#70ff87"/><circle cx="925.4" cy="733.5" r="2.25" fill="#7aff7d"/><circle cx="920.6" cy="736.5" r="2.25" fill="#6aff8d"/><circle cx="926.6" cy="739.1" r="2.25" fill="#80ff77"/><circle cx="944.4" cy="736.0" r="2.25" fill="#66ff90"/><circle cx="953.8" cy="736.2" r="2.25" fill="#83ff73"/><circle cx="955.6" cy="733.8" r="2.25" fill="#63ff94"/><circle cx="960.0" cy="738.1" r="2.25" fill="#77ff80"/><circle cx="965.0" cy="732.1" r="2.25" fill="#66ff90"/><circle cx="965.0" cy="734.0" r="2.25" fill="#83ff73"/><circle cx="977.2" cy="735.2" r="2.25" fill="#7aff7d"/><circle cx="980.0" cy="732.9" r="2.25" fill="#6aff8d"/><circle cx="976.5" cy="738.1" r="2.25" fill="#77ff80"/><circle cx="987.2" cy="735.2" r="2.25" fill="#60ff97"/><circle cx="993.8" cy="725.6" r="2.25" fill="#60ff97"/><circle cx="996.0" cy="725.4" r="2.25" fill="#73ff83"/><circle cx="999.1" cy="726.0" r="2.25" fill="#80ff77"/><circle cx="999.4" cy="720.6" r="2.25" fill="#7dff7a"/><circle cx="999.8" cy="736.9" r="2.25" fill="#80ff77"/><circle cx="816.5" cy="724.1" r="2.25" fill="#70ff87"/><circle cx="805.9" cy="725.8" r="2.25" fill="#7dff7a"/><circle cx="792.5" cy="717.5" r="2.25" fill="#60ff97"/><circle cx="792.9" cy="718.8" r="2.25" fill="#77ff80"/><circle cx="786.9" cy="724.0" r="2.25" fill="#87ff70"/><circle cx="782.2" cy="721.0" r="2.25" fill="#77ff80"/><circle cx="781.2" cy="725.2" r="2.25" fill="#7aff7d"/><circle cx="756.9" cy="725.0" r="2.25" fill="#80ff77"/><circle cx="755.0" cy="724.4" r="2.25" fill="#8dff6a"/><circle cx="753.1" cy="729.0" r="2.25" fill="#83ff73"/><circle cx="756.2" cy="730.2" r="2.25" fill="#7dff7a"/><circle cx="754.0" cy="733.8" r="2.25" fill="#63ff94"/><circle cx="750.6" cy="721.0" r="2.25" fill="#53ffa4"/><circle cx="785.9" cy="732.9" r="2.25" fill="#77ff80"/><circle cx="790.0" cy="735.2" r="2.25" fill="#6dff8a"/><circle cx="795.6" cy="735.2" r="2.25" fill="#7aff7d"/><circle cx="801.2" cy="736.9" r="2.25" fill="#7dff7a"/><circle cx="798.1" cy="739.0" r="2.25" fill="#73ff83"/><circle cx="824.4" cy="739.1" r="2.25" fill="#66ff90"/><circle cx="828.8" cy="739.1" r="2.25" fill="#7aff7d"/><circle cx="835.6" cy="739.4" r="2.25" fill="#80ff77"/><circle cx="767.5" cy="741.9" r="2.25" fill="#66ff90"/><circle cx="771.0" cy="745.2" r="2.25" fill="#83ff73"/><circle cx="767.5" cy="751.9" r="2.25" fill="#80ff77"/><circle cx="760.6" cy="747.8" r="2.25" fill="#7dff7a"/><circle cx="763.1" cy="747.8" r="2.25" fill="#66ff90"/><circle cx="751.2" cy="756.2" r="2.25" fill="#87ff70"/><circle cx="784.4" cy="741.2" r="2.25" fill="#87ff70"/><circle cx="796.9" cy="740.6" r="2.25" fill="#63ff94"/><circle cx="800.0" cy="740.6" r="2.25" fill="#94ff63"/><circle cx="802.5" cy="744.4" r="2.25" fill="#8dff6a"/><circle cx="796.5" cy="748.5" r="2.25" fill="#90ff66"/><circle cx="795.6" cy="752.5" r="2.25" fill="#7dff7a"/><circle cx="803.1" cy="751.9" r="2.25" fill="#60ff97"/><circle cx="805.0" cy="754.4" r="2.25" fill="#87ff70"/><circle cx="796.2" cy="756.2" r="2.25" fill="#80ff77"/><circle cx="792.5" cy="758.1" r="2.25" fill="#80ff77"/><circle cx="779.4" cy="755.6" r="2.25" fill="#7dff7a"/><circle cx="783.1" cy="754.4" r="2.25" fill="#80ff77"/><circle cx="780.6" cy="756.9" r="2.25" fill="#63ff94"/><circle cx="810.9" cy="753.8" r="2.25" fill="#6dff8a"/><circle cx="815.0" cy="742.2" r="2.25" fill="#66ff90"/><circle cx="816.2" cy="749.8" r="2.25" fill="#70ff87"/><circle cx="825.0" cy="741.9" r="2.25" fill="#6dff8a"/><circle cx="828.8" cy="741.2" r="2.25" fill="#6aff8d"/><circle cx="827.2" cy="744.4" r="2.25" fill="#8dff6a"/><circle cx="831.9" cy="745.2" r="2.25" fill="#6dff8a"/><circle cx="835.6" cy="741.0" r="2.25" fill="#87ff70"/><circle cx="835.4" cy="747.8" r="2.25" fill="#60ff97"/><circle cx="825.0" cy="749.4" r="2.25" fill="#73ff83"/><circle cx="824.8" cy="751.5" r="2.25" fill="#70ff87"/><circle cx="818.8" cy="756.9" r="2.25" fill="#8dff6a"/><circle cx="820.6" cy="759.4" r="2.25" fill="#6aff8d"/><circle cx="816.9" cy="760.2" r="2.25" fill="#6aff8d"/><circle cx="843.5" cy="754.4" r="2.25" fill="#90ff66"/><circle cx="851.0" cy="753.8" r="2.25" fill="#80ff77"/><circle cx="850.0" cy="757.5" r="2.25" fill="#60ff97"/><circle cx="847.9" cy="758.1" r="2.25" fill="#80ff77"/><circle cx="853.8" cy="760.4" r="2.25" fill="#87ff70"/><circle cx="860.0" cy="756.0" r="2.25" fill="#60ff97"/><circle cx="856.0" cy="742.5" r="2.25" fill="#8aff6d"/><circle cx="869.8" cy="744.4" r="2.25" fill="#7dff7a"/><circle cx="875.6" cy="741.5" r="2.25" fill="#73ff83"/><circle cx="880.2" cy="744.4" r="2.25" fill="#6aff8d"/><circle cx="879.4" cy="746.5" r="2.25" fill="#70ff87"/><circle cx="878.1" cy="751.5" r="2.25" fill="#8aff6d"/><circle cx="878.5" cy="754.4" r="2.25" fill="#73ff83"/><circle cx="884.8" cy="749.4" r="2.25" fill="#8dff6a"/><circle cx="886.5" cy="752.2" r="2.25" fill="#6dff8a"/><circle cx="898.5" cy="747.1" r="2.25" fill="#6aff8d"/><circle cx="902.2" cy="744.4" r="2.25" fill="#6dff8a"/><circle cx="905.6" cy="742.8" r="2.25" fill="#87ff70"/><circle cx="898.1" cy="752.8" r="2.25" fill="#87ff70"/><circle cx="909.4" cy="751.0" r="2.25" fill="#4dffaa"/><circle cx="911.2" cy="752.2" r="2.25" fill="#8dff6a"/><circle cx="918.8" cy="753.1" r="2.25" fill="#6dff8a"/><circle cx="923.8" cy="757.2" r="2.25" fill="#8dff6a"/><circle cx="926.6" cy="761.2" r="2.25" fill="#66ff90"/><circle cx="926.2" cy="740.6" r="2.25" fill="#73ff83"/><circle cx="929.8" cy="745.2" r="2.25" fill="#60ff97"/><circle cx="934.4" cy="742.5" r="2.25" fill="#63ff94"/><circle cx="936.0" cy="749.0" r="2.25" fill="#50ffa7"/><circle cx="931.9" cy="754.8" r="2.25" fill="#60ff97"/><circle cx="941.6" cy="742.2" r="2.25" fill="#6dff8a"/><circle cx="943.8" cy="751.2" r="2.25" fill="#7dff7a"/><circle cx="946.9" cy="749.8" r="2.25" fill="#66ff90"/><circle cx="942.5" cy="756.0" r="2.25" fill="#6aff8d"/><circle cx="951.2" cy="747.8" r="2.25" fill="#80ff77"/><circle cx="956.5" cy="751.5" r="2.25" fill="#90ff66"/><circle cx="959.4" cy="741.2" r="2.25" fill="#6dff8a"/><circle cx="966.2" cy="746.0" r="2.25" fill="#8aff6d"/><circle cx="967.8" cy="744.4" r="2.25" fill="#6aff8d"/><circle cx="980.0" cy="751.0" r="2.25" fill="#6aff8d"/><circle cx="982.5" cy="752.2" r="2.25" fill="#8dff6a"/><circle cx="976.9" cy="760.0" r="2.25" fill="#6dff8a"/><circle cx="979.4" cy="762.5" r="2.25" fill="#60ff97"/><circle cx="992.9" cy="759.0" r="2.25" fill="#80ff77"/><circle cx="751.9" cy="765.0" r="2.25" fill="#7dff7a"/><circle cx="765.6" cy="770.2" r="2.25" fill="#73ff83"/><circle cx="760.6" cy="773.1" r="2.25" fill="#6aff8d"/><circle cx="774.1" cy="767.2" r="2.25" fill="#7aff7d"/><circle cx="787.8" cy="763.8" r="2.25" fill="#70ff87"/><circle cx="793.5" cy="764.8" r="2.25" fill="#6aff8d"/><circle cx="799.8" cy="764.5" r="2.25" fill="#8aff6d"/><circle cx="802.9" cy="769.0" r="2.25" fill="#6dff8a"/><circle cx="814.4" cy="765.6" r="2.25" fill="#87ff70"/><circle cx="826.6" cy="765.6" r="2.25" fill="#63ff94"/><circle cx="874.8" cy="762.2" r="2.25" fill="#6aff8d"/><circle cx="868.8" cy="768.5" r="2.25" fill="#6aff8d"/><circle cx="884.0" cy="772.8" r="2.25" fill="#80ff77"/><circle cx="906.9" cy="763.1" r="2.25" fill="#90ff66"/><circle cx="920.2" cy="767.2" r="2.25" fill="#77ff80"/><circle cx="902.2" cy="771.5" r="2.25" fill="#49ffad"/><circle cx="906.2" cy="774.4" r="2.25" fill="#66ff90"/><circle cx="953.1" cy="766.2" r="2.25" fill="#7aff7d"/><circle cx="960.4" cy="762.5" r="2.25" fill="#6dff8a"/><circle cx="965.9" cy="762.5" r="2.25" fill="#8aff6d"/><circle cx="959.0" cy="770.4" r="2.25" fill="#6dff8a"/><circle cx="978.5" cy="768.5" r="2.25" fill="#73ff83"/><circle cx="992.2" cy="771.9" r="2.25" fill="#60ff97"/><circle cx="998.8" cy="765.0" r="2.25" fill="#6aff8d"/><circle cx="778.8" cy="773.8" r="2.25" fill="#83ff73"/><circle cx="787.5" cy="773.1" r="2.25" fill="#8aff6d"/><circle cx="801.5" cy="773.8" r="2.25" fill="#66ff90"/><circle cx="768.5" cy="776.0" r="2.25" fill="#6dff8a"/><circle cx="778.8" cy="777.5" r="2.25" fill="#80ff77"/><circle cx="786.5" cy="778.1" r="2.25" fill="#4dffaa"/><circle cx="790.0" cy="776.2" r="2.25" fill="#7aff7d"/><circle cx="792.2" cy="776.6" r="2.25" fill="#63ff94"/><circle cx="801.9" cy="776.0" r="2.25" fill="#87ff70"/><circle cx="818.8" cy="775.2" r="2.25" fill="#87ff70"/><circle cx="779.4" cy="784.1" r="2.25" fill="#7dff7a"/><circle cx="792.9" cy="786.9" r="2.25" fill="#87ff70"/><circle cx="796.0" cy="787.9" r="2.25" fill="#8dff6a"/><circle cx="799.6" cy="785.6" r="2.25" fill="#8aff6d"/><circle cx="791.0" cy="790.6" r="2.25" fill="#77ff80"/><circle cx="794.8" cy="793.5" r="2.25" fill="#87ff70"/><circle cx="801.6" cy="791.2" r="2.25" fill="#73ff83"/><circle cx="806.2" cy="790.6" r="2.25" fill="#90ff66"/><circle cx="811.0" cy="790.6" r="2.25" fill="#7dff7a"/><circle cx="810.0" cy="787.5" r="2.25" fill="#7dff7a"/><circle cx="813.5" cy="785.0" r="2.25" fill="#73ff83"/><circle cx="818.5" cy="788.1" r="2.25" fill="#83ff73"/><circle cx="819.4" cy="789.0" r="2.25" fill="#83ff73"/><circle cx="824.4" cy="782.5" r="2.25" fill="#77ff80"/><circle cx="825.0" cy="782.8" r="2.25" fill="#6dff8a"/><circle cx="830.6" cy="785.0" r="2.25" fill="#8aff6d"/><circle cx="828.5" cy="788.1" r="2.25" fill="#80ff77"/><circle cx="835.0" cy="782.5" r="2.25" fill="#77ff80"/><circle cx="836.2" cy="783.8" r="2.25" fill="#60ff97"/><circle cx="776.0" cy="790.4" r="2.25" fill="#63ff94"/><circle cx="763.8" cy="790.6" r="2.25" fill="#6aff8d"/><circle cx="759.4" cy="792.2" r="2.25" fill="#70ff87"/><circle cx="753.8" cy="793.8" r="2.25" fill="#73ff83"/><circle cx="750.0" cy="789.4" r="2.25" fill="#80ff77"/><circle cx="847.2" cy="777.8" r="2.25" fill="#7aff7d"/><circle cx="855.6" cy="775.0" r="2.25" fill="#60ff97"/><circle cx="855.0" cy="778.8" r="2.25" fill="#7aff7d"/><circle cx="856.0" cy="781.2" r="2.25" fill="#60ff97"/><circle cx="857.2" cy="783.1" r="2.25" fill="#8dff6a"/><circle cx="850.0" cy="783.8" r="2.25" fill="#80ff77"/><circle cx="855.0" cy="787.5" r="2.25" fill="#73ff83"/><circle cx="849.4" cy="790.4" r="2.25" fill="#73ff83"/><circle cx="860.2" cy="791.2" r="2.25" fill="#7aff7d"/><circle cx="865.0" cy="793.8" r="2.25" fill="#87ff70"/><circle cx="865.6" cy="787.2" r="2.25" fill="#83ff73"/><circle cx="866.0" cy="777.5" r="2.25" fill="#87ff70"/><circle cx="871.2" cy="776.2" r="2.25" fill="#73ff83"/><circle cx="872.2" cy="782.5" r="2.25" fill="#70ff87"/><circle cx="878.1" cy="782.5" r="2.25" fill="#87ff70"/><circle cx="880.0" cy="787.8" r="2.25" fill="#73ff83"/><circle cx="882.2" cy="790.0" r="2.25" fill="#77ff80"/><circle cx="884.0" cy="791.0" r="2.25" fill="#90ff66"/><circle cx="889.4" cy="783.8" r="2.25" fill="#70ff87"/><circle cx="891.2" cy="788.5" r="2.25" fill="#7aff7d"/><circle cx="891.9" cy="792.2" r="2.25" fill="#7aff7d"/><circle cx="896.9" cy="783.8" r="2.25" fill="#6aff8d"/><circle cx="899.8" cy="786.2" r="2.25" fill="#6dff8a"/><circle cx="899.4" cy="790.0" r="2.25" fill="#90ff66"/><circle cx="901.2" cy="781.0" r="2.25" fill="#60ff97"/><circle cx="907.2" cy="779.1" r="2.25" fill="#66ff90"/><circle cx="907.8" cy="790.6" r="2.25" fill="#63ff94"/><circle cx="912.5" cy="784.4" r="2.25" fill="#87ff70"/><circle cx="914.1" cy="788.5" r="2.25" fill="#77ff80"/><circle cx="914.1" cy="777.1" r="2.25" fill="#7dff7a"/><circle cx="920.6" cy="776.5" r="2.25" fill="#8aff6d"/><circle cx="919.8" cy="787.9" r="2.25" fill="#63ff94"/><circle cx="923.5" cy="786.0" r="2.25" fill="#70ff87"/><circle cx="918.1" cy="790.6" r="2.25" fill="#83ff73"/><circle cx="928.8" cy="780.2" r="2.25" fill="#66ff90"/><circle cx="936.2" cy="783.8" r="2.25" fill="#9dff5a"/><circle cx="934.4" cy="775.4" r="2.25" fill="#8dff6a"/><circle cx="940.2" cy="775.6" r="2.25" fill="#56ffa0"/><circle cx="943.1" cy="787.8" r="2.25" fill="#63ff94"/><circle cx="948.8" cy="774.8" r="2.25" fill="#5dff9a"/><circle cx="954.0" cy="779.0" r="2.25" fill="#87ff70"/><circle cx="952.2" cy="784.4" r="2.25" fill="#8aff6d"/><circle cx="950.6" cy="788.8" r="2.25" fill="#77ff80"/><circle cx="935.4" cy="790.6" r="2.25" fill="#63ff94"/><circle cx="969.4" cy="786.2" r="2.25" fill="#8dff6a"/><circle cx="972.5" cy="778.1" r="2.25" fill="#73ff83"/><circle cx="975.0" cy="781.9" r="2.25" fill="#97ff60"/><circle cx="978.1" cy="780.2" r="2.25" fill="#83ff73"/><circle cx="973.8" cy="785.0" r="2.25" fill="#77ff80"/><circle cx="976.0" cy="788.8" r="2.25" fill="#60ff97"/><circle cx="982.8" cy="784.0" r="2.25" fill="#73ff83"/><circle cx="986.5" cy="788.5" r="2.25" fill="#8dff6a"/><circle cx="970.2" cy="790.6" r="2.25" fill="#70ff87"/><circle cx="762.5" cy="798.8" r="2.25" fill="#6aff8d"/><circle cx="762.5" cy="803.1" r="2.25" fill="#80ff77"/><circle cx="756.0" cy="804.8" r="2.25" fill="#7dff7a"/><circle cx="750.6" cy="801.5" r="2.25" fill="#8aff6d"/><circle cx="769.4" cy="793.4" r="2.25" fill="#73ff83"/><circle cx="772.2" cy="794.8" r="2.25" fill="#6dff8a"/><circle cx="775.6" cy="796.9" r="2.25" fill="#80ff77"/><circle cx="773.1" cy="801.9" r="2.25" fill="#87ff70"/><circle cx="773.8" cy="803.8" r="2.25" fill="#80ff77"/><circle cx="786.9" cy="801.5" r="2.25" fill="#8aff6d"/><circle cx="796.5" cy="802.1" r="2.25" fill="#8dff6a"/><circle cx="799.8" cy="799.4" r="2.25" fill="#83ff73"/><circle cx="804.4" cy="797.5" r="2.25" fill="#60ff97"/><circle cx="817.5" cy="792.5" r="2.25" fill="#77ff80"/><circle cx="816.9" cy="802.1" r="2.25" fill="#66ff90"/><circle cx="817.2" cy="805.6" r="2.25" fill="#7aff7d"/><circle cx="824.6" cy="801.9" r="2.25" fill="#80ff77"/><circle cx="829.4" cy="798.5" r="2.25" fill="#8dff6a"/><circle cx="829.0" cy="804.8" r="2.25" fill="#66ff90"/><circle cx="835.0" cy="806.6" r="2.25" fill="#9aff5d"/><circle cx="839.4" cy="795.2" r="2.25" fill="#77ff80"/><circle cx="845.0" cy="798.4" r="2.25" fill="#8dff6a"/><circle cx="846.2" cy="796.9" r="2.25" fill="#83ff73"/><circle cx="848.8" cy="802.2" r="2.25" fill="#66ff90"/><circle cx="851.9" cy="795.6" r="2.25" fill="#6dff8a"/><circle cx="852.5" cy="798.8" r="2.25" fill="#63ff94"/><circle cx="857.2" cy="798.8" r="2.25" fill="#63ff94"/><circle cx="860.6" cy="798.8" r="2.25" fill="#87ff70"/><circle cx="866.0" cy="802.2" r="2.25" fill="#87ff70"/><circle cx="866.2" cy="808.8" r="2.25" fill="#80ff77"/><circle cx="870.6" cy="797.5" r="2.25" fill="#87ff70"/><circle cx="877.8" cy="797.5" r="2.25" fill="#8dff6a"/><circle cx="883.5" cy="795.0" r="2.25" fill="#87ff70"/><circle cx="883.1" cy="797.9" r="2.25" fill="#8aff6d"/><circle cx="889.0" cy="805.6" r="2.25" fill="#87ff70"/><circle cx="893.5" cy="797.5" r="2.25" fill="#87ff70"/><circle cx="900.2" cy="793.1" r="2.25" fill="#8aff6d"/><circle cx="902.5" cy="795.0" r="2.25" fill="#60ff97"/><circle cx="907.8" cy="791.2" r="2.25" fill="#63ff94"/><circle cx="919.4" cy="793.8" r="2.25" fill="#60ff97"/><circle cx="922.2" cy="793.8" r="2.25" fill="#8dff6a"/><circle cx="927.8" cy="791.2" r="2.25" fill="#77ff80"/><circle cx="930.6" cy="797.8" r="2.25" fill="#5dff9a"/><circle cx="927.8" cy="799.8" r="2.25" fill="#77ff80"/><circle cx="929.8" cy="803.8" r="2.25" fill="#6aff8d"/><circle cx="935.9" cy="795.0" r="2.25" fill="#73ff83"/><circle cx="938.1" cy="803.4" r="2.25" fill="#70ff87"/><circle cx="943.5" cy="805.6" r="2.25" fill="#8dff6a"/><circle cx="947.5" cy="806.5" r="2.25" fill="#7dff7a"/><circle cx="946.5" cy="795.2" r="2.25" fill="#70ff87"/><circle cx="949.8" cy="792.8" r="2.25" fill="#73ff83"/><circle cx="953.1" cy="796.0" r="2.25" fill="#60ff97"/><circle cx="960.0" cy="792.8" r="2.25" fill="#6aff8d"/><circle cx="961.5" cy="796.2" r="2.25" fill="#6aff8d"/><circle cx="965.2" cy="792.2" r="2.25" fill="#90ff66"/><circle cx="962.8" cy="802.8" r="2.25" fill="#83ff73"/><circle cx="971.2" cy="795.0" r="2.25" fill="#6dff8a"/><circle cx="978.5" cy="793.4" r="2.25" fill="#66ff90"/><circle cx="983.8" cy="796.0" r="2.25" fill="#80ff77"/><circle cx="982.8" cy="799.8" r="2.25" fill="#6dff8a"/><circle cx="989.0" cy="796.9" r="2.25" fill="#83ff73"/><circle cx="992.5" cy="801.2" r="2.25" fill="#6aff8d"/><circle cx="991.2" cy="793.5" r="2.25" fill="#7dff7a"/><circle cx="997.2" cy="791.9" r="2.25" fill="#8dff6a"/><circle cx="999.4" cy="801.0" r="2.25" fill="#6dff8a"/><circle cx="783.5" cy="810.2" r="2.25" fill="#80ff77"/><circle cx="789.8" cy="811.2" r="2.25" fill="#87ff70"/><circle cx="792.5" cy="809.0" r="2.25" fill="#9aff5d"/><circle cx="796.5" cy="812.2" r="2.25" fill="#87ff70"/><circle cx="800.6" cy="807.8" r="2.25" fill="#80ff77"/><circle cx="773.5" cy="815.6" r="2.25" fill="#6dff8a"/><circle cx="799.6" cy="815.6" r="2.25" fill="#87ff70"/><circle cx="805.0" cy="815.6" r="2.25" fill="#77ff80"/><circle cx="810.0" cy="816.2" r="2.25" fill="#60ff97"/><circle cx="814.8" cy="818.8" r="2.25" fill="#5aff9d"/><circle cx="816.6" cy="813.8" r="2.25" fill="#7aff7d"/><circle cx="801.2" cy="820.2" r="2.25" fill="#7dff7a"/><circle cx="794.4" cy="822.2" r="2.25" fill="#7dff7a"/><circle cx="805.4" cy="822.2" r="2.25" fill="#8dff6a"/><circle cx="801.2" cy="825.6" r="2.25" fill="#87ff70"/><circle cx="808.1" cy="825.4" r="2.25" fill="#83ff73"/><circle cx="808.8" cy="830.2" r="2.25" fill="#7aff7d"/><circle cx="843.1" cy="811.0" r="2.25" fill="#87ff70"/><circle cx="843.8" cy="815.6" r="2.25" fill="#6dff8a"/><circle cx="850.6" cy="818.8" r="2.25" fill="#6dff8a"/><circle cx="846.9" cy="821.9" r="2.25" fill="#8dff6a"/><circle cx="848.1" cy="823.1" r="2.25" fill="#6dff8a"/><circle cx="836.2" cy="826.2" r="2.25" fill="#70ff87"/><circle cx="818.8" cy="828.1" r="2.25" fill="#80ff77"/><circle cx="821.0" cy="828.5" r="2.25" fill="#77ff80"/><circle cx="876.0" cy="818.5" r="2.25" fill="#60ff97"/><circle cx="896.0" cy="822.5" r="2.25" fill="#66ff90"/><circle cx="891.2" cy="826.2" r="2.25" fill="#73ff83"/><circle cx="892.8" cy="827.5" r="2.25" fill="#80ff77"/><circle cx="880.0" cy="827.8" r="2.25" fill="#6aff8d"/><circle cx="876.9" cy="831.0" r="2.25" fill="#80ff77"/><circle cx="910.6" cy="828.4" r="2.25" fill="#60ff97"/><circle cx="923.8" cy="823.1" r="2.25" fill="#87ff70"/><circle cx="937.5" cy="822.5" r="2.25" fill="#7dff7a"/><circle cx="950.6" cy="826.0" r="2.25" fill="#6dff8a"/><circle cx="952.5" cy="819.1" r="2.25" fill="#73ff83"/><circle cx="956.2" cy="818.1" r="2.25" fill="#80ff77"/><circle cx="968.8" cy="814.4" r="2.25" fill="#8dff6a"/><circle cx="962.2" cy="830.2" r="2.25" fill="#7dff7a"/><circle cx="970.0" cy="825.6" r="2.25" fill="#77ff80"/><circle cx="975.0" cy="826.0" r="2.25" fill="#73ff83"/><circle cx="976.5" cy="824.4" r="2.25" fill="#6aff8d"/><circle cx="985.6" cy="829.4" r="2.25" fill="#73ff83"/><circle cx="993.1" cy="819.0" r="2.25" fill="#80ff77"/><circle cx="994.4" cy="820.0" r="2.25" fill="#6dff8a"/><circle cx="997.5" cy="823.1" r="2.25" fill="#7dff7a"/><circle cx="753.1" cy="828.1" r="2.25" fill="#6dff8a"/><circle cx="756.9" cy="830.2" r="2.25" fill="#66ff90"/><circle cx="759.4" cy="826.9" r="2.25" fill="#60ff97"/><circle cx="761.5" cy="827.9" r="2.25" fill="#77ff80"/><circle cx="767.8" cy="829.6" r="2.25" fill="#63ff94"/><circle cx="851.0" cy="829.0" r="2.25" fill="#63ff94"/><circle cx="851.2" cy="831.2" r="2.25" fill="#7dff7a"/><circle cx="856.2" cy="831.0" r="2.25" fill="#6aff8d"/><circle cx="861.2" cy="831.9" r="2.25" fill="#60ff97"/><circle cx="755.6" cy="835.0" r="2.25" fill="#8dff6a"/><circle cx="761.9" cy="838.4" r="2.25" fill="#8dff6a"/><circle cx="758.5" cy="845.4" r="2.25" fill="#66ff90"/><circle cx="775.2" cy="838.5" r="2.25" fill="#7aff7d"/><circle cx="778.1" cy="836.9" r="2.25" fill="#66ff90"/><circle cx="781.9" cy="831.9" r="2.25" fill="#6aff8d"/><circle cx="788.1" cy="832.5" r="2.25" fill="#8dff6a"/><circle cx="792.5" cy="829.4" r="2.25" fill="#70ff87"/><circle cx="795.0" cy="828.8" r="2.25" fill="#6aff8d"/><circle cx="801.0" cy="832.5" r="2.25" fill="#60ff97"/><circle cx="802.5" cy="840.6" r="2.25" fill="#6dff8a"/><circle cx="810.6" cy="840.0" r="2.25" fill="#7dff7a"/><circle cx="814.4" cy="840.0" r="2.25" fill="#7dff7a"/><circle cx="827.5" cy="835.0" r="2.25" fill="#8aff6d"/><circle cx="830.0" cy="840.0" r="2.25" fill="#63ff94"/><circle cx="838.1" cy="839.4" r="2.25" fill="#8aff6d"/><circle cx="851.9" cy="840.6" r="2.25" fill="#6dff8a"/><circle cx="856.0" cy="836.2" r="2.25" fill="#66ff90"/><circle cx="887.5" cy="833.8" r="2.25" fill="#60ff97"/><circle cx="890.0" cy="840.4" r="2.25" fill="#6aff8d"/><circle cx="905.0" cy="838.1" r="2.25" fill="#70ff87"/><circle cx="918.1" cy="837.2" r="2.25" fill="#7dff7a"/><circle cx="932.8" cy="841.9" r="2.25" fill="#8aff6d"/><circle cx="943.8" cy="833.8" r="2.25" fill="#7dff7a"/><circle cx="945.6" cy="832.8" r="2.25" fill="#73ff83"/><circle cx="976.5" cy="836.5" r="2.25" fill="#63ff94"/><circle cx="874.1" cy="848.8" r="2.25" fill="#8dff6a"/><circle cx="1039.0" cy="673.2" r="2.25" fill="#63ff94"/><circle cx="1080.4" cy="669.4" r="2.25" fill="#7dff7a"/><circle cx="1107.2" cy="679.4" r="2.25" fill="#80ff77"/><circle cx="1121.4" cy="676.2" r="2.25" fill="#6aff8d"/><circle cx="1072.9" cy="684.5" r="2.25" fill="#77ff80"/><circle cx="1011.5" cy="690.6" r="2.25" fill="#70ff87"/><circle cx="1020.4" cy="691.2" r="2.25" fill="#66ff90"/><circle cx="1045.6" cy="689.0" r="2.25" fill="#83ff73"/><circle cx="1040.0" cy="692.9" r="2.25" fill="#7aff7d"/><circle cx="1026.5" cy="696.2" r="2.25" fill="#87ff70"/><circle cx="1068.1" cy="695.6" r="2.25" fill="#80ff77"/><circle cx="1080.0" cy="693.8" r="2.25" fill="#7dff7a"/><circle cx="1150.0" cy="686.2" r="2.25" fill="#63ff94"/><circle cx="1150.6" cy="687.2" r="2.25" fill="#7dff7a"/><circle cx="1154.8" cy="692.8" r="2.25" fill="#8aff6d"/><circle cx="1004.4" cy="700.0" r="2.25" fill="#77ff80"/><circle cx="1037.9" cy="702.5" r="2.25" fill="#6aff8d"/><circle cx="1036.2" cy="705.2" r="2.25" fill="#8dff6a"/><circle cx="1078.5" cy="701.9" r="2.25" fill="#a0ff56"/><circle cx="1102.5" cy="701.2" r="2.25" fill="#70ff87"/><circle cx="1134.4" cy="699.4" r="2.25" fill="#66ff90"/><circle cx="1151.2" cy="700.4" r="2.25" fill="#7aff7d"/><circle cx="1161.2" cy="699.8" r="2.25" fill="#8dff6a"/><circle cx="1177.8" cy="701.9" r="2.25" fill="#8aff6d"/><circle cx="1193.4" cy="702.2" r="2.25" fill="#73ff83"/><circle cx="1211.2" cy="703.2" r="2.25" fill="#80ff77"/><circle cx="1244.6" cy="704.1" r="2.25" fill="#8dff6a"/><circle cx="1003.8" cy="708.8" r="2.25" fill="#77ff80"/><circle cx="1014.1" cy="711.9" r="2.25" fill="#70ff87"/><circle cx="1015.6" cy="713.8" r="2.25" fill="#77ff80"/><circle cx="1001.2" cy="713.5" r="2.25" fill="#7dff7a"/><circle cx="1054.4" cy="708.1" r="2.25" fill="#63ff94"/><circle cx="1054.8" cy="712.2" r="2.25" fill="#6aff8d"/><circle cx="1038.4" cy="711.9" r="2.25" fill="#60ff97"/><circle cx="1077.5" cy="710.4" r="2.25" fill="#6dff8a"/><circle cx="1075.4" cy="714.6" r="2.25" fill="#60ff97"/><circle cx="1114.4" cy="711.2" r="2.25" fill="#6aff8d"/><circle cx="1115.6" cy="714.0" r="2.25" fill="#83ff73"/><circle cx="1150.0" cy="710.6" r="2.25" fill="#4dffaa"/><circle cx="1160.2" cy="707.5" r="2.25" fill="#7aff7d"/><circle cx="1168.8" cy="709.0" r="2.25" fill="#7dff7a"/><circle cx="1165.4" cy="714.4" r="2.25" fill="#77ff80"/><circle cx="1033.1" cy="715.8" r="2.25" fill="#8dff6a"/><circle cx="1040.4" cy="717.5" r="2.25" fill="#87ff70"/><circle cx="1023.8" cy="718.4" r="2.25" fill="#66ff90"/><circle cx="1026.6" cy="718.4" r="2.25" fill="#66ff90"/><circle cx="1055.0" cy="718.8" r="2.25" fill="#80ff77"/><circle cx="1060.6" cy="718.8" r="2.25" fill="#8dff6a"/><circle cx="1100.0" cy="718.5" r="2.25" fill="#60ff97"/><circle cx="1110.6" cy="716.9" r="2.25" fill="#9dff5a"/><circle cx="1136.9" cy="720.4" r="2.25" fill="#90ff66"/><circle cx="1142.5" cy="718.8" r="2.25" fill="#8dff6a"/><circle cx="1141.9" cy="720.6" r="2.25" fill="#7dff7a"/><circle cx="1154.8" cy="718.8" r="2.25" fill="#8aff6d"/><circle cx="1169.4" cy="720.0" r="2.25" fill="#83ff73"/><circle cx="1175.6" cy="717.5" r="2.25" fill="#7dff7a"/><circle cx="1211.6" cy="721.0" r="2.25" fill="#66ff90"/><circle cx="1001.0" cy="721.0" r="2.25" fill="#66ff90"/><circle cx="1017.1" cy="722.1" r="2.25" fill="#83ff73"/><circle cx="1033.1" cy="722.5" r="2.25" fill="#9aff5d"/><circle cx="1037.5" cy="723.1" r="2.25" fill="#5aff9d"/><circle cx="1038.8" cy="724.0" r="2.25" fill="#63ff94"/><circle cx="1044.5" cy="725.2" r="2.25" fill="#6aff8d"/><circle cx="1073.5" cy="723.2" r="2.25" fill="#7dff7a"/><circle cx="1104.4" cy="724.8" r="2.25" fill="#83ff73"/><circle cx="1152.5" cy="723.1" r="2.25" fill="#83ff73"/><circle cx="1137.8" cy="725.6" r="2.25" fill="#70ff87"/><circle cx="1159.0" cy="725.9" r="2.25" fill="#50ffa7"/><circle cx="1169.4" cy="727.2" r="2.25" fill="#77ff80"/><circle cx="1183.8" cy="726.9" r="2.25" fill="#87ff70"/><circle cx="1194.8" cy="725.9" r="2.25" fill="#8dff6a"/><circle cx="1217.9" cy="725.4" r="2.25" fill="#8dff6a"/><circle cx="1226.9" cy="727.1" r="2.25" fill="#6dff8a"/><circle cx="1148.1" cy="728.1" r="2.25" fill="#77ff80"/><circle cx="1120.0" cy="727.5" r="2.25" fill="#73ff83"/><circle cx="1117.1" cy="728.8" r="2.25" fill="#73ff83"/><circle cx="1126.0" cy="731.0" r="2.25" fill="#66ff90"/><circle cx="1100.0" cy="730.9" r="2.25" fill="#8dff6a"/><circle cx="1075.0" cy="731.2" r="2.25" fill="#97ff60"/><circle cx="1056.9" cy="729.0" r="2.25" fill="#a0ff56"/><circle cx="1056.6" cy="729.8" r="2.25" fill="#8aff6d"/><circle cx="1026.2" cy="727.5" r="2.25" fill="#66ff90"/><circle cx="1028.5" cy="730.2" r="2.25" fill="#5aff9d"/><circle cx="1038.1" cy="731.5" r="2.25" fill="#8aff6d"/><circle cx="1040.0" cy="732.5" r="2.25" fill="#6dff8a"/><circle cx="1039.8" cy="735.0" r="2.25" fill="#66ff90"/><circle cx="1006.5" cy="734.0" r="2.25" fill="#77ff80"/><circle cx="1067.5" cy="735.2" r="2.25" fill="#6dff8a"/><circle cx="1081.5" cy="734.4" r="2.25" fill="#70ff87"/><circle cx="1092.5" cy="733.1" r="2.25" fill="#77ff80"/><circle cx="1091.0" cy="736.0" r="2.25" fill="#6aff8d"/><circle cx="1109.8" cy="733.8" r="2.25" fill="#87ff70"/><circle cx="1116.5" cy="736.5" r="2.25" fill="#49ffad"/><circle cx="1134.8" cy="733.8" r="2.25" fill="#80ff77"/><circle cx="1152.5" cy="734.0" r="2.25" fill="#8dff6a"/><circle cx="1169.6" cy="730.6" r="2.25" fill="#7dff7a"/><circle cx="1210.6" cy="735.0" r="2.25" fill="#63ff94"/><circle cx="1235.4" cy="732.9" r="2.25" fill="#70ff87"/><circle cx="1001.2" cy="738.1" r="2.25" fill="#7aff7d"/><circle cx="1016.9" cy="739.4" r="2.25" fill="#7aff7d"/><circle cx="1035.0" cy="738.8" r="2.25" fill="#73ff83"/><circle cx="1044.4" cy="738.8" r="2.25" fill="#66ff90"/><circle cx="1077.5" cy="739.4" r="2.25" fill="#80ff77"/><circle cx="1109.8" cy="738.8" r="2.25" fill="#90ff66"/><circle cx="1130.4" cy="738.5" r="2.25" fill="#80ff77"/><circle cx="1159.4" cy="739.8" r="2.25" fill="#70ff87"/><circle cx="1172.9" cy="738.1" r="2.25" fill="#7dff7a"/><circle cx="1208.1" cy="738.8" r="2.25" fill="#70ff87"/><circle cx="1216.9" cy="739.4" r="2.25" fill="#63ff94"/><circle cx="1226.9" cy="738.8" r="2.25" fill="#6dff8a"/><circle cx="1235.6" cy="738.1" r="2.25" fill="#66ff90"/><circle cx="1240.2" cy="738.1" r="2.25" fill="#66ff90"/><circle cx="1007.5" cy="744.4" r="2.25" fill="#80ff77"/><circle cx="1016.9" cy="740.6" r="2.25" fill="#8dff6a"/><circle cx="1025.0" cy="748.8" r="2.25" fill="#7aff7d"/><circle cx="1033.8" cy="746.9" r="2.25" fill="#60ff97"/><circle cx="1040.0" cy="751.0" r="2.25" fill="#77ff80"/><circle cx="1043.1" cy="751.2" r="2.25" fill="#7aff7d"/><circle cx="1042.5" cy="752.5" r="2.25" fill="#77ff80"/><circle cx="1050.2" cy="745.6" r="2.25" fill="#83ff73"/><circle cx="1050.2" cy="748.5" r="2.25" fill="#66ff90"/><circle cx="1053.1" cy="751.9" r="2.25" fill="#70ff87"/><circle cx="1056.9" cy="752.5" r="2.25" fill="#80ff77"/><circle cx="1055.6" cy="754.0" r="2.25" fill="#6aff8d"/><circle cx="1064.0" cy="753.4" r="2.25" fill="#8dff6a"/><circle cx="1068.5" cy="742.8" r="2.25" fill="#63ff94"/><circle cx="1072.9" cy="743.8" r="2.25" fill="#6aff8d"/><circle cx="1076.9" cy="741.5" r="2.25" fill="#63ff94"/><circle cx="1070.6" cy="749.4" r="2.25" fill="#7dff7a"/><circle cx="1068.5" cy="752.5" r="2.25" fill="#80ff77"/><circle cx="1071.2" cy="755.0" r="2.25" fill="#6dff8a"/><circle cx="1082.2" cy="751.5" r="2.25" fill="#94ff63"/><circle cx="1087.2" cy="745.6" r="2.25" fill="#6dff8a"/><circle cx="1088.1" cy="752.8" r="2.25" fill="#83ff73"/><circle cx="1095.0" cy="745.9" r="2.25" fill="#6aff8d"/><circle cx="1091.9" cy="756.0" r="2.25" fill="#8dff6a"/><circle cx="1081.9" cy="756.9" r="2.25" fill="#5dff9a"/><circle cx="1111.2" cy="747.5" r="2.25" fill="#77ff80"/><circle cx="1115.0" cy="747.5" r="2.25" fill="#6aff8d"/><circle cx="1121.9" cy="748.1" r="2.25" fill="#60ff97"/><circle cx="1110.0" cy="740.6" r="2.25" fill="#7dff7a"/><circle cx="1128.5" cy="743.8" r="2.25" fill="#8dff6a"/><circle cx="1129.8" cy="746.2" r="2.25" fill="#8dff6a"/><circle cx="1135.0" cy="743.5" r="2.25" fill="#83ff73"/><circle cx="1134.4" cy="747.5" r="2.25" fill="#4dffaa"/><circle cx="1141.2" cy="742.2" r="2.25" fill="#8dff6a"/><circle cx="1146.2" cy="748.5" r="2.25" fill="#83ff73"/><circle cx="1139.0" cy="752.8" r="2.25" fill="#80ff77"/><circle cx="1135.6" cy="753.8" r="2.25" fill="#8dff6a"/><circle cx="1127.5" cy="752.5" r="2.25" fill="#87ff70"/><circle cx="1152.2" cy="747.8" r="2.25" fill="#66ff90"/><circle cx="1154.1" cy="751.9" r="2.25" fill="#66ff90"/><circle cx="1153.8" cy="754.0" r="2.25" fill="#77ff80"/><circle cx="1158.8" cy="749.4" r="2.25" fill="#8dff6a"/><circle cx="1159.8" cy="753.5" r="2.25" fill="#80ff77"/><circle cx="1159.4" cy="741.2" r="2.25" fill="#7aff7d"/><circle cx="1170.6" cy="744.0" r="2.25" fill="#6aff8d"/><circle cx="1176.2" cy="743.5" r="2.25" fill="#77ff80"/><circle cx="1179.1" cy="749.8" r="2.25" fill="#90ff66"/><circle cx="1183.4" cy="746.2" r="2.25" fill="#8aff6d"/><circle cx="1167.9" cy="751.9" r="2.25" fill="#70ff87"/><circle cx="1211.2" cy="746.9" r="2.25" fill="#7aff7d"/><circle cx="1214.4" cy="747.8" r="2.25" fill="#77ff80"/><circle cx="1217.9" cy="750.2" r="2.25" fill="#66ff90"/><circle cx="1208.1" cy="740.6" r="2.25" fill="#73ff83"/><circle cx="1216.9" cy="740.6" r="2.25" fill="#6aff8d"/><circle cx="1226.9" cy="740.6" r="2.25" fill="#7dff7a"/><circle cx="1237.5" cy="741.9" r="2.25" fill="#6aff8d"/><circle cx="1245.6" cy="746.2" r="2.25" fill="#6dff8a"/><circle cx="1232.8" cy="754.8" r="2.25" fill="#6dff8a"/><circle cx="1011.2" cy="756.2" r="2.25" fill="#7aff7d"/><circle cx="1015.6" cy="757.2" r="2.25" fill="#63ff94"/><circle cx="1249.4" cy="754.4" r="2.25" fill="#87ff70"/><circle cx="1012.5" cy="761.9" r="2.25" fill="#7dff7a"/><circle cx="1001.2" cy="764.8" r="2.25" fill="#63ff94"/><circle cx="1014.4" cy="768.5" r="2.25" fill="#7aff7d"/><circle cx="1038.1" cy="766.6" r="2.25" fill="#63ff94"/><circle cx="1045.2" cy="765.0" r="2.25" fill="#66ff90"/><circle cx="1046.0" cy="766.5" r="2.25" fill="#60ff97"/><circle cx="1049.0" cy="769.0" r="2.25" fill="#70ff87"/><circle cx="1059.8" cy="766.6" r="2.25" fill="#60ff97"/><circle cx="1061.0" cy="770.0" r="2.25" fill="#7dff7a"/><circle cx="1070.4" cy="766.0" r="2.25" fill="#87ff70"/><circle cx="1074.4" cy="762.8" r="2.25" fill="#7dff7a"/><circle cx="1078.1" cy="759.4" r="2.25" fill="#63ff94"/><circle cx="1078.1" cy="761.9" r="2.25" fill="#70ff87"/><circle cx="1083.8" cy="762.8" r="2.25" fill="#7dff7a"/><circle cx="1086.0" cy="759.0" r="2.25" fill="#7aff7d"/><circle cx="1093.8" cy="763.8" r="2.25" fill="#77ff80"/><circle cx="1097.5" cy="762.2" r="2.25" fill="#63ff94"/><circle cx="1102.5" cy="765.4" r="2.25" fill="#87ff70"/><circle cx="1105.4" cy="758.1" r="2.25" fill="#66ff90"/><circle cx="1118.5" cy="757.2" r="2.25" fill="#8aff6d"/><circle cx="1118.1" cy="765.0" r="2.25" fill="#70ff87"/><circle cx="1119.8" cy="765.6" r="2.25" fill="#80ff77"/><circle cx="1124.4" cy="761.2" r="2.25" fill="#6dff8a"/><circle cx="1124.8" cy="763.5" r="2.25" fill="#63ff94"/><circle cx="1127.5" cy="759.0" r="2.25" fill="#7dff7a"/><circle cx="1134.4" cy="760.6" r="2.25" fill="#87ff70"/><circle cx="1132.8" cy="765.6" r="2.25" fill="#83ff73"/><circle cx="1121.9" cy="770.0" r="2.25" fill="#66ff90"/><circle cx="1146.5" cy="760.2" r="2.25" fill="#60ff97"/><circle cx="1154.0" cy="759.0" r="2.25" fill="#66ff90"/><circle cx="1152.2" cy="765.6" r="2.25" fill="#6aff8d"/><circle cx="1163.8" cy="766.0" r="2.25" fill="#8aff6d"/><circle cx="1179.8" cy="766.0" r="2.25" fill="#7dff7a"/><circle cx="1205.0" cy="760.0" r="2.25" fill="#7dff7a"/><circle cx="1205.6" cy="762.9" r="2.25" fill="#6dff8a"/><circle cx="1208.1" cy="758.8" r="2.25" fill="#70ff87"/><circle cx="1218.1" cy="758.5" r="2.25" fill="#87ff70"/><circle cx="1222.8" cy="765.4" r="2.25" fill="#73ff83"/><circle cx="1212.5" cy="770.0" r="2.25" fill="#70ff87"/><circle cx="1072.9" cy="771.9" r="2.25" fill="#7dff7a"/><circle cx="1076.0" cy="771.9" r="2.25" fill="#73ff83"/><circle cx="1093.5" cy="771.0" r="2.25" fill="#7dff7a"/><circle cx="1088.5" cy="774.0" r="2.25" fill="#87ff70"/><circle cx="1047.9" cy="774.4" r="2.25" fill="#63ff94"/><circle cx="1057.5" cy="775.0" r="2.25" fill="#63ff94"/><circle cx="1121.0" cy="775.6" r="2.25" fill="#7aff7d"/><circle cx="1116.2" cy="774.4" r="2.25" fill="#70ff87"/><circle cx="1138.5" cy="772.2" r="2.25" fill="#70ff87"/><circle cx="1176.6" cy="773.1" r="2.25" fill="#6dff8a"/><circle cx="1016.9" cy="775.6" r="2.25" fill="#87ff70"/><circle cx="1008.4" cy="776.2" r="2.25" fill="#60ff97"/><circle cx="1014.4" cy="779.4" r="2.25" fill="#83ff73"/><circle cx="1005.0" cy="781.9" r="2.25" fill="#63ff94"/><circle cx="1009.4" cy="781.9" r="2.25" fill="#90ff66"/><circle cx="1017.5" cy="786.2" r="2.25" fill="#87ff70"/><circle cx="1012.5" cy="787.9" r="2.25" fill="#87ff70"/><circle cx="1003.8" cy="790.6" r="2.25" fill="#66ff90"/><circle cx="1010.0" cy="790.6" r="2.25" fill="#60ff97"/><circle cx="1014.8" cy="791.0" r="2.25" fill="#6aff8d"/><circle cx="1002.8" cy="794.0" r="2.25" fill="#7dff7a"/><circle cx="1025.0" cy="783.1" r="2.25" fill="#56ffa0"/><circle cx="1027.2" cy="780.2" r="2.25" fill="#6aff8d"/><circle cx="1029.4" cy="788.1" r="2.25" fill="#7dff7a"/><circle cx="1028.5" cy="789.0" r="2.25" fill="#8dff6a"/><circle cx="1032.8" cy="784.6" r="2.25" fill="#7dff7a"/><circle cx="1036.2" cy="789.4" r="2.25" fill="#6dff8a"/><circle cx="1035.0" cy="793.5" r="2.25" fill="#7aff7d"/><circle cx="1039.0" cy="777.5" r="2.25" fill="#87ff70"/><circle cx="1044.8" cy="783.4" r="2.25" fill="#63ff94"/><circle cx="1050.2" cy="779.4" r="2.25" fill="#73ff83"/><circle cx="1055.9" cy="781.0" r="2.25" fill="#8dff6a"/><circle cx="1054.4" cy="784.8" r="2.25" fill="#49ffad"/><circle cx="1051.9" cy="787.2" r="2.25" fill="#70ff87"/><circle cx="1051.9" cy="790.9" r="2.25" fill="#7aff7d"/><circle cx="1058.4" cy="788.1" r="2.25" fill="#87ff70"/><circle cx="1063.8" cy="784.4" r="2.25" fill="#80ff77"/><circle cx="1068.1" cy="779.4" r="2.25" fill="#77ff80"/><circle cx="1069.4" cy="783.1" r="2.25" fill="#8dff6a"/><circle cx="1084.0" cy="786.0" r="2.25" fill="#73ff83"/><circle cx="1085.4" cy="781.9" r="2.25" fill="#87ff70"/><circle cx="1098.8" cy="784.4" r="2.25" fill="#7dff7a"/><circle cx="1101.5" cy="784.8" r="2.25" fill="#6aff8d"/><circle cx="1099.1" cy="791.2" r="2.25" fill="#87ff70"/><circle cx="1107.8" cy="780.0" r="2.25" fill="#87ff70"/><circle cx="1109.6" cy="781.5" r="2.25" fill="#70ff87"/><circle cx="1114.4" cy="782.5" r="2.25" fill="#7dff7a"/><circle cx="1118.5" cy="779.4" r="2.25" fill="#90ff66"/><circle cx="1116.0" cy="784.4" r="2.25" fill="#87ff70"/><circle cx="1119.4" cy="786.5" r="2.25" fill="#8aff6d"/><circle cx="1111.0" cy="787.9" r="2.25" fill="#87ff70"/><circle cx="1111.9" cy="790.6" r="2.25" fill="#87ff70"/><circle cx="1116.9" cy="788.8" r="2.25" fill="#70ff87"/><circle cx="1128.5" cy="781.5" r="2.25" fill="#83ff73"/><circle cx="1127.2" cy="787.2" r="2.25" fill="#87ff70"/><circle cx="1136.2" cy="787.5" r="2.25" fill="#7dff7a"/><circle cx="1135.6" cy="789.1" r="2.25" fill="#6aff8d"/><circle cx="1137.2" cy="790.0" r="2.25" fill="#7dff7a"/><circle cx="1143.5" cy="780.6" r="2.25" fill="#8dff6a"/><circle cx="1153.1" cy="786.0" r="2.25" fill="#87ff70"/><circle cx="1156.0" cy="784.4" r="2.25" fill="#83ff73"/><circle cx="1158.1" cy="781.9" r="2.25" fill="#97ff60"/><circle cx="1160.0" cy="775.6" r="2.25" fill="#70ff87"/><circle cx="1162.1" cy="778.1" r="2.25" fill="#87ff70"/><circle cx="1164.4" cy="779.0" r="2.25" fill="#77ff80"/><circle cx="1189.4" cy="781.6" r="2.25" fill="#77ff80"/><circle cx="1188.8" cy="786.5" r="2.25" fill="#6aff8d"/><circle cx="1193.5" cy="790.2" r="2.25" fill="#66ff90"/><circle cx="1180.6" cy="790.9" r="2.25" fill="#66ff90"/><circle cx="1228.1" cy="780.2" r="2.25" fill="#83ff73"/><circle cx="1234.4" cy="781.2" r="2.25" fill="#8dff6a"/><circle cx="1234.8" cy="784.8" r="2.25" fill="#87ff70"/><circle cx="1016.2" cy="795.6" r="2.25" fill="#66ff90"/><circle cx="1018.5" cy="798.1" r="2.25" fill="#8dff6a"/><circle cx="1001.2" cy="801.0" r="2.25" fill="#8dff6a"/><circle cx="1007.5" cy="805.2" r="2.25" fill="#87ff70"/><circle cx="1021.5" cy="806.9" r="2.25" fill="#80ff77"/><circle cx="1029.8" cy="799.4" r="2.25" fill="#60ff97"/><circle cx="1040.0" cy="796.5" r="2.25" fill="#6dff8a"/><circle cx="1042.5" cy="798.5" r="2.25" fill="#7aff7d"/><circle cx="1040.0" cy="801.9" r="2.25" fill="#66ff90"/><circle cx="1043.8" cy="801.2" r="2.25" fill="#8dff6a"/><circle cx="1047.5" cy="795.0" r="2.25" fill="#8dff6a"/><circle cx="1048.8" cy="798.8" r="2.25" fill="#8dff6a"/><circle cx="1049.5" cy="806.2" r="2.25" fill="#73ff83"/><circle cx="1057.5" cy="794.6" r="2.25" fill="#8dff6a"/><circle cx="1063.8" cy="796.2" r="2.25" fill="#7dff7a"/><circle cx="1064.4" cy="798.8" r="2.25" fill="#80ff77"/><circle cx="1071.2" cy="793.5" r="2.25" fill="#77ff80"/><circle cx="1071.5" cy="798.1" r="2.25" fill="#80ff77"/><circle cx="1076.5" cy="804.8" r="2.25" fill="#70ff87"/><circle cx="1081.9" cy="794.1" r="2.25" fill="#80ff77"/><circle cx="1087.9" cy="803.5" r="2.25" fill="#6dff8a"/><circle cx="1093.5" cy="799.0" r="2.25" fill="#70ff87"/><circle cx="1102.5" cy="795.6" r="2.25" fill="#66ff90"/><circle cx="1103.5" cy="801.6" r="2.25" fill="#7dff7a"/><circle cx="1111.2" cy="801.2" r="2.25" fill="#7aff7d"/><circle cx="1116.2" cy="793.5" r="2.25" fill="#87ff70"/><circle cx="1126.2" cy="796.5" r="2.25" fill="#66ff90"/><circle cx="1130.0" cy="793.1" r="2.25" fill="#8aff6d"/><circle cx="1128.1" cy="806.0" r="2.25" fill="#87ff70"/><circle cx="1139.8" cy="793.5" r="2.25" fill="#90ff66"/><circle cx="1141.2" cy="802.5" r="2.25" fill="#73ff83"/><circle cx="1143.8" cy="798.1" r="2.25" fill="#8aff6d"/><circle cx="1145.6" cy="800.6" r="2.25" fill="#6dff8a"/><circle cx="1161.2" cy="796.0" r="2.25" fill="#60ff97"/><circle cx="1176.2" cy="795.9" r="2.25" fill="#6dff8a"/><circle cx="1180.6" cy="797.2" r="2.25" fill="#63ff94"/><circle cx="1181.2" cy="802.2" r="2.25" fill="#77ff80"/><circle cx="1170.6" cy="806.2" r="2.25" fill="#8dff6a"/><circle cx="1175.4" cy="806.2" r="2.25" fill="#66ff90"/><circle cx="1192.5" cy="795.9" r="2.25" fill="#70ff87"/><circle cx="1197.8" cy="794.8" r="2.25" fill="#60ff97"/><circle cx="1203.4" cy="795.0" r="2.25" fill="#7aff7d"/><circle cx="1207.5" cy="798.1" r="2.25" fill="#6dff8a"/><circle cx="1204.0" cy="799.8" r="2.25" fill="#8aff6d"/><circle cx="1211.0" cy="804.1" r="2.25" fill="#63ff94"/><circle cx="1199.4" cy="804.6" r="2.25" fill="#6aff8d"/><circle cx="1230.9" cy="801.2" r="2.25" fill="#87ff70"/><circle cx="1239.8" cy="795.0" r="2.25" fill="#8dff6a"/><circle cx="1241.2" cy="797.5" r="2.25" fill="#6dff8a"/><circle cx="1245.6" cy="796.2" r="2.25" fill="#60ff97"/><circle cx="1006.5" cy="810.9" r="2.25" fill="#6dff8a"/><circle cx="1029.1" cy="814.5" r="2.25" fill="#87ff70"/><circle cx="1014.8" cy="819.4" r="2.25" fill="#66ff90"/><circle cx="1060.6" cy="814.1" r="2.25" fill="#6dff8a"/><circle cx="1087.2" cy="814.6" r="2.25" fill="#80ff77"/><circle cx="1114.8" cy="811.0" r="2.25" fill="#7dff7a"/><circle cx="1105.9" cy="818.8" r="2.25" fill="#77ff80"/><circle cx="1199.8" cy="810.9" r="2.25" fill="#63ff94"/><circle cx="1221.5" cy="814.0" r="2.25" fill="#60ff97"/><circle cx="1224.8" cy="820.2" r="2.25" fill="#83ff73"/><circle cx="1177.8" cy="821.9" r="2.25" fill="#8aff6d"/><circle cx="1018.8" cy="826.2" r="2.25" fill="#8aff6d"/><circle cx="1020.2" cy="827.9" r="2.25" fill="#63ff94"/><circle cx="1006.5" cy="829.0" r="2.25" fill="#87ff70"/><circle cx="1037.8" cy="826.6" r="2.25" fill="#87ff70"/><circle cx="1045.0" cy="825.6" r="2.25" fill="#66ff90"/><circle cx="1045.0" cy="829.4" r="2.25" fill="#73ff83"/><circle cx="1059.4" cy="826.5" r="2.25" fill="#66ff90"/><circle cx="1070.0" cy="828.5" r="2.25" fill="#8dff6a"/><circle cx="1081.2" cy="826.5" r="2.25" fill="#63ff94"/><circle cx="1103.1" cy="828.5" r="2.25" fill="#73ff83"/><circle cx="1118.1" cy="826.9" r="2.25" fill="#87ff70"/><circle cx="1125.0" cy="824.8" r="2.25" fill="#83ff73"/><circle cx="1131.5" cy="828.1" r="2.25" fill="#7dff7a"/><circle cx="1144.4" cy="829.4" r="2.25" fill="#77ff80"/><circle cx="1198.1" cy="829.4" r="2.25" fill="#7dff7a"/><circle cx="1233.5" cy="829.1" r="2.25" fill="#4dffaa"/><circle cx="1237.5" cy="827.2" r="2.25" fill="#80ff77"/><circle cx="1228.8" cy="832.8" r="2.25" fill="#60ff97"/><circle cx="1176.9" cy="833.8" r="2.25" fill="#60ff97"/><circle cx="1098.1" cy="834.6" r="2.25" fill="#8aff6d"/><circle cx="1133.8" cy="834.0" r="2.25" fill="#6aff8d"/><circle cx="1036.2" cy="836.2" r="2.25" fill="#73ff83"/><circle cx="1016.9" cy="837.5" r="2.25" fill="#66ff90"/><circle cx="1023.8" cy="840.0" r="2.25" fill="#66ff90"/><circle cx="1023.1" cy="844.4" r="2.25" fill="#8aff6d"/><circle cx="1025.6" cy="844.4" r="2.25" fill="#8dff6a"/><circle cx="1033.1" cy="841.2" r="2.25" fill="#8dff6a"/><circle cx="1117.9" cy="838.8" r="2.25" fill="#60ff97"/><circle cx="1084.4" cy="842.5" r="2.25" fill="#70ff87"/><circle cx="1183.8" cy="840.6" r="2.25" fill="#8dff6a"/><circle cx="1184.0" cy="842.2" r="2.25" fill="#63ff94"/><circle cx="1189.4" cy="846.2" r="2.25" fill="#83ff73"/><circle cx="1246.2" cy="837.5" r="2.25" fill="#66ff90"/><circle cx="1240.6" cy="848.1" r="2.25" fill="#83ff73"/><circle cx="1146.9" cy="845.9" r="2.25" fill="#8aff6d"/><circle cx="1045.4" cy="856.5" r="2.25" fill="#90ff66"/><circle cx="1450.6" cy="674.0" r="2.25" fill="#73ff83"/><circle cx="1402.0" cy="676.9" r="2.25" fill="#73ff83"/><circle cx="1335.6" cy="681.9" r="2.25" fill="#60ff97"/><circle cx="1317.2" cy="686.0" r="2.25" fill="#6aff8d"/><circle cx="1276.0" cy="696.0" r="2.25" fill="#66ff90"/><circle cx="1345.0" cy="695.0" r="2.25" fill="#77ff80"/><circle cx="1354.8" cy="702.1" r="2.25" fill="#7dff7a"/><circle cx="1402.8" cy="699.0" r="2.25" fill="#a0ff56"/><circle cx="1450.4" cy="696.5" r="2.25" fill="#80ff77"/><circle cx="1312.5" cy="705.0" r="2.25" fill="#7dff7a"/><circle cx="1381.5" cy="709.6" r="2.25" fill="#77ff80"/><circle cx="1396.5" cy="709.4" r="2.25" fill="#63ff94"/><circle cx="1277.2" cy="714.6" r="2.25" fill="#87ff70"/><circle cx="1284.4" cy="715.0" r="2.25" fill="#6dff8a"/><circle cx="1288.1" cy="718.5" r="2.25" fill="#8dff6a"/><circle cx="1330.4" cy="716.5" r="2.25" fill="#8dff6a"/><circle cx="1409.4" cy="715.4" r="2.25" fill="#60ff97"/><circle cx="1418.4" cy="719.0" r="2.25" fill="#66ff90"/><circle cx="1363.1" cy="719.0" r="2.25" fill="#9aff5d"/><circle cx="1329.0" cy="722.5" r="2.25" fill="#6aff8d"/><circle cx="1313.1" cy="725.6" r="2.25" fill="#6aff8d"/><circle cx="1256.0" cy="723.5" r="2.25" fill="#8dff6a"/><circle cx="1271.9" cy="726.9" r="2.25" fill="#6dff8a"/><circle cx="1252.8" cy="728.8" r="2.25" fill="#53ffa4"/><circle cx="1274.6" cy="731.5" r="2.25" fill="#6aff8d"/><circle cx="1290.0" cy="730.2" r="2.25" fill="#66ff90"/><circle cx="1293.8" cy="732.1" r="2.25" fill="#73ff83"/><circle cx="1297.9" cy="730.2" r="2.25" fill="#7aff7d"/><circle cx="1305.4" cy="732.2" r="2.25" fill="#97ff60"/><circle cx="1474.8" cy="723.8" r="2.25" fill="#73ff83"/><circle cx="1479.4" cy="728.4" r="2.25" fill="#8dff6a"/><circle cx="1435.2" cy="726.2" r="2.25" fill="#56ffa0"/><circle cx="1430.0" cy="729.4" r="2.25" fill="#60ff97"/><circle cx="1436.2" cy="732.5" r="2.25" fill="#66ff90"/><circle cx="1401.0" cy="728.4" r="2.25" fill="#60ff97"/><circle cx="1392.1" cy="729.8" r="2.25" fill="#77ff80"/><circle cx="1407.9" cy="733.5" r="2.25" fill="#77ff80"/><circle cx="1414.0" cy="732.5" r="2.25" fill="#70ff87"/><circle cx="1376.9" cy="736.5" r="2.25" fill="#66ff90"/><circle cx="1388.1" cy="736.0" r="2.25" fill="#73ff83"/><circle cx="1293.5" cy="738.1" r="2.25" fill="#6aff8d"/><circle cx="1451.9" cy="738.8" r="2.25" fill="#6dff8a"/><circle cx="1481.2" cy="739.4" r="2.25" fill="#87ff70"/><circle cx="1403.5" cy="739.8" r="2.25" fill="#6dff8a"/><circle cx="1410.6" cy="739.8" r="2.25" fill="#87ff70"/><circle cx="1255.2" cy="745.4" r="2.25" fill="#73ff83"/><circle cx="1276.0" cy="747.9" r="2.25" fill="#6aff8d"/><circle cx="1251.5" cy="754.4" r="2.25" fill="#66ff90"/><circle cx="1255.6" cy="754.4" r="2.25" fill="#7dff7a"/><circle cx="1267.9" cy="759.0" r="2.25" fill="#77ff80"/><circle cx="1262.2" cy="763.4" r="2.25" fill="#80ff77"/><circle cx="1260.2" cy="772.2" r="2.25" fill="#73ff83"/><circle cx="1285.6" cy="752.2" r="2.25" fill="#66ff90"/><circle cx="1291.5" cy="754.1" r="2.25" fill="#5aff9d"/><circle cx="1292.5" cy="766.0" r="2.25" fill="#6dff8a"/><circle cx="1299.0" cy="766.9" r="2.25" fill="#66ff90"/><circle cx="1301.9" cy="767.2" r="2.25" fill="#70ff87"/><circle cx="1319.0" cy="748.1" r="2.25" fill="#66ff90"/><circle cx="1321.0" cy="749.0" r="2.25" fill="#87ff70"/><circle cx="1328.5" cy="754.6" r="2.25" fill="#66ff90"/><circle cx="1329.0" cy="759.0" r="2.25" fill="#70ff87"/><circle cx="1319.1" cy="772.9" r="2.25" fill="#73ff83"/><circle cx="1345.0" cy="742.5" r="2.25" fill="#87ff70"/><circle cx="1347.2" cy="744.0" r="2.25" fill="#70ff87"/><circle cx="1353.1" cy="744.8" r="2.25" fill="#77ff80"/><circle cx="1356.2" cy="749.4" r="2.25" fill="#63ff94"/><circle cx="1370.0" cy="755.9" r="2.25" fill="#83ff73"/><circle cx="1379.4" cy="741.5" r="2.25" fill="#83ff73"/><circle cx="1386.5" cy="751.2" r="2.25" fill="#8aff6d"/><circle cx="1385.6" cy="755.2" r="2.25" fill="#80ff77"/><circle cx="1383.1" cy="757.8" r="2.25" fill="#90ff66"/><circle cx="1394.0" cy="744.0" r="2.25" fill="#66ff90"/><circle cx="1400.6" cy="745.6" r="2.25" fill="#80ff77"/><circle cx="1403.5" cy="740.6" r="2.25" fill="#63ff94"/><circle cx="1410.4" cy="741.0" r="2.25" fill="#8aff6d"/><circle cx="1410.4" cy="757.5" r="2.25" fill="#80ff77"/><circle cx="1403.4" cy="767.8" r="2.25" fill="#80ff77"/><circle cx="1406.2" cy="773.5" r="2.25" fill="#60ff97"/><circle cx="1405.4" cy="776.2" r="2.25" fill="#80ff77"/><circle cx="1426.2" cy="749.8" r="2.25" fill="#4dffaa"/><circle cx="1461.0" cy="749.8" r="2.25" fill="#70ff87"/><circle cx="1475.0" cy="746.2" r="2.25" fill="#8dff6a"/><circle cx="1481.2" cy="740.6" r="2.25" fill="#66ff90"/><circle cx="1275.6" cy="783.1" r="2.25" fill="#70ff87"/><circle cx="1301.9" cy="788.1" r="2.25" fill="#6aff8d"/><circle cx="1307.5" cy="787.9" r="2.25" fill="#8aff6d"/><circle cx="1322.1" cy="789.4" r="2.25" fill="#8dff6a"/><circle cx="1321.9" cy="791.9" r="2.25" fill="#8dff6a"/><circle cx="1330.0" cy="786.0" r="2.25" fill="#77ff80"/><circle cx="1341.6" cy="791.6" r="2.25" fill="#8dff6a"/><circle cx="1291.5" cy="795.4" r="2.25" fill="#7aff7d"/><circle cx="1260.6" cy="796.9" r="2.25" fill="#70ff87"/><circle cx="1253.1" cy="800.6" r="2.25" fill="#7aff7d"/><circle cx="1367.5" cy="800.2" r="2.25" fill="#83ff73"/><circle cx="1376.9" cy="810.0" r="2.25" fill="#6dff8a"/><circle cx="1408.1" cy="790.9" r="2.25" fill="#8dff6a"/><circle cx="1415.2" cy="794.0" r="2.25" fill="#60ff97"/><circle cx="1412.8" cy="796.2" r="2.25" fill="#70ff87"/><circle cx="1426.0" cy="808.5" r="2.25" fill="#8dff6a"/><circle cx="1461.0" cy="785.6" r="2.25" fill="#77ff80"/><circle cx="1470.2" cy="788.4" r="2.25" fill="#83ff73"/><circle cx="1475.6" cy="803.8" r="2.25" fill="#7aff7d"/><circle cx="1254.0" cy="825.9" r="2.25" fill="#6dff8a"/><circle cx="1284.4" cy="825.6" r="2.25" fill="#8aff6d"/><circle cx="1306.6" cy="829.8" r="2.25" fill="#8dff6a"/><circle cx="1311.2" cy="831.5" r="2.25" fill="#73ff83"/><circle cx="1359.4" cy="823.8" r="2.25" fill="#77ff80"/><circle cx="1374.8" cy="823.1" r="2.25" fill="#8aff6d"/><circle cx="1375.0" cy="828.1" r="2.25" fill="#70ff87"/><circle cx="1388.8" cy="830.2" r="2.25" fill="#8aff6d"/><circle cx="1281.5" cy="839.8" r="2.25" fill="#77ff80"/><circle cx="1306.2" cy="839.1" r="2.25" fill="#77ff80"/><circle cx="1333.4" cy="840.4" r="2.25" fill="#6dff8a"/><circle cx="1351.9" cy="841.6" r="2.25" fill="#63ff94"/><circle cx="1274.4" cy="856.5" r="2.25" fill="#7aff7d"/><circle cx="1136.6" cy="866.2" r="2.25" fill="#60ff97"/><circle cx="1136.6" cy="720.4" r="2.25" fill="#800000"/><circle cx="1136.6" cy="865.9" r="2.25" fill="#800000"/><circle cx="799.6" cy="764.4" r="2.25" fill="#00007f"/><circle cx="800" cy="629" r="2.25" fill="#eeff09"/></g>
<path d="M250.5 120.5H1490.5V470.5H250.5ZM250.5 470.5v5.0M508.5 470.5v5.0M767.5 470.5v5.0M1025.5 470.5v5.0M1283.5 470.5v5.0M250.5 470.5h-5.0M250.5 353.5h-5.0M250.5 237.5h-5.0M250.5 120.5h-5.0" stroke="#000" stroke-width="1.11" fill="none"/>
<path d="M302.5 470.5v2.95M353.5 470.5v2.95M405.5 470.5v2.95M457.5 470.5v2.95M560.5 470.5v2.95M612.5 470.5v2.95M663.5 470.5v2.95M715.5 470.5v2.95M818.5 470.5v2.95M870.5 470.5v2.95M922.5 470.5v2.95M973.5 470.5v2.95M1077.5 470.5v2.95M1128.5 470.5v2.95M1180.5 470.5v2.95M1232.5 470.5v2.95M1335.5 470.5v2.95M1387.5 470.5v2.95M1438.5 470.5v2.95M1490.5 470.5v2.95M250.5 447.5h-2.95M250.5 423.5h-2.95M250.5 400.5h-2.95M250.5 377.5h-2.95M250.5 330.5h-2.95M250.5 307.5h-2.95M250.5 283.5h-2.95M250.5 260.5h-2.95M250.5 213.5h-2.95M250.5 190.5h-2.95M250.5 167.5h-2.95M250.5 143.5h-2.95" stroke="#000" stroke-width="0.83" fill="none"/>
<path d="M1568.5 120.5H1585.5V470.5H1568.5ZM1585.5 470.5h5.0M1585.5 383.5h5.0M1585.5 295.5h5.0M1585.5 208.5h5.0M1585.5 120.5h5.0" stroke="#000" stroke-width="1.11" fill="none"/>
<path d="M250.5 540.5H1490.5V890.5H250.5ZM250.5 890.5v5.0M508.5 890.5v5.0M767.5 890.5v5.0M1025.5 890.5v5.0M1283.5 890.5v5.0M250.5 890.5h-5.0M250.5 773.5h-5.0M250.5 657.5h-5.0M250.5 540.5h-5.0" stroke="#000" stroke-width="1.11" fill="none"/>
<path d="M302.5 890.5v2.95M353.5 890.5v2.95M405.5 890.5v2.95M457.5 890.5v2.95M560.5 890.5v2.95M612.5 890.5v2.95M663.5 890.5v2.95M715.5 890.5v2.95M818.5 890.5v2.95M870.5 890.5v2.95M922.5 890.5v2.95M973.5 890.5v2.95M1077.5 890.5v2.95M1128.5 890.5v2.95M1180.5 890.5v2.95M1232.5 890.5v2.95M1335.5 890.5v2.95M1387.5 890.5v2.95M1438.5 890.5v2.95M1490.5 890.5v2.95M250.5 867.5h-2.95M250.5 843.5h-2.95M250.5 820.5h-2.95M250.5 797.5h-2.95M250.5 750.5h-2.95M250.5 727.5h-2.95M250.5 703.5h-2.95M250.5 680.5h-2.95M250.5 633.5h-2.95M250.5 610.5h-2.95M250.5 587.5h-2.95M250.5 563.5h-2.95" stroke="#000" stroke-width="0.83" fill="none"/>
<path d="M1568.5 540.5H1585.5V890.5H1568.5ZM1585.5 812.5h5.0M1585.5 715.5h5.0M1585.5 618.5h5.0" stroke="#000" stroke-width="1.11" fill="none"/>
<text x="249.53" y="502.50" font-size="31.10" text-anchor="middle" textLength="18.23" lengthAdjust="spacingAndGlyphs">0</text>
<text x="508.40" y="502.50" font-size="31.36" text-anchor="middle" textLength="17.59" lengthAdjust="spacingAndGlyphs">5</text>
<text x="757.50" y="502.50" font-size="31.21" text-anchor="middle" textLength="18.45" lengthAdjust="spacingAndGlyphs">1</text>
<text x="775.95" y="502.50" font-size="31.21" text-anchor="middle" textLength="18.45" lengthAdjust="spacingAndGlyphs">0</text>
<text x="1015.64" y="502.50" font-size="31.37" text-anchor="middle" textLength="18.05" lengthAdjust="spacingAndGlyphs">1</text>
<text x="1033.69" y="502.50" font-size="31.37" text-anchor="middle" textLength="18.05" lengthAdjust="spacingAndGlyphs">5</text>
<text x="1273.55" y="502.50" font-size="31.00" text-anchor="middle" textLength="18.34" lengthAdjust="spacingAndGlyphs">2</text>
<text x="1291.89" y="502.50" font-size="31.00" text-anchor="middle" textLength="18.34" lengthAdjust="spacingAndGlyphs">0</text>
<text transform="translate(149.00,415.63) rotate(-90)" font-size="28.89" text-anchor="middle" textLength="21.11" lengthAdjust="spacingAndGlyphs">R</text>
<text transform="translate(149.00,396.33) rotate(-90)" font-size="28.89" text-anchor="middle" textLength="17.48" lengthAdjust="spacingAndGlyphs">F</text>
<text transform="translate(149.00,366.24) rotate(-90)" font-size="28.89" text-anchor="middle" textLength="23.40" lengthAdjust="spacingAndGlyphs">D</text>
<text transform="translate(149.00,350.32) rotate(-90)" font-size="28.89" text-anchor="middle" textLength="8.44" lengthAdjust="spacingAndGlyphs">i</text>
<text transform="translate(149.00,338.18) rotate(-90)" font-size="28.89" text-anchor="middle" textLength="15.83" lengthAdjust="spacingAndGlyphs">s</text>
<text transform="translate(149.00,324.31) rotate(-90)" font-size="28.89" text-anchor="middle" textLength="11.91" lengthAdjust="spacingAndGlyphs">t</text>
<text transform="translate(149.00,309.04) rotate(-90)" font-size="28.89" text-anchor="middle" textLength="18.62" lengthAdjust="spacingAndGlyphs">a</text>
<text transform="translate(149.00,290.10) rotate(-90)" font-size="28.89" text-anchor="middle" textLength="19.26" lengthAdjust="spacingAndGlyphs">n</text>
<text transform="translate(149.00,272.12) rotate(-90)" font-size="28.89" text-anchor="middle" textLength="16.71" lengthAdjust="spacingAndGlyphs">c</text>
<text transform="translate(149.00,254.42) rotate(-90)" font-size="28.89" text-anchor="middle" textLength="18.69" lengthAdjust="spacingAndGlyphs">e</text>
<text transform="translate(149.00,229.49) rotate(-90)" font-size="28.89" text-anchor="middle" textLength="11.85" lengthAdjust="spacingAndGlyphs">(</text>
<text transform="translate(149.00,214.76) rotate(-90)" font-size="28.89" text-anchor="middle" textLength="17.60" lengthAdjust="spacingAndGlyphs">k</text>
<text transform="translate(149.00,191.16) rotate(-90)" font-size="28.89" text-anchor="middle" textLength="29.60" lengthAdjust="spacingAndGlyphs">m</text>
<text transform="translate(149.00,170.44) rotate(-90)" font-size="28.89" text-anchor="middle" textLength="11.85" lengthAdjust="spacingAndGlyphs">)</text>
<text x="230.53" y="481.50" font-size="31.10" text-anchor="middle" textLength="18.23" lengthAdjust="spacingAndGlyphs">0</text>
<text x="172.57" y="364.50" font-size="31.51" text-anchor="middle" textLength="19.04" lengthAdjust="spacingAndGlyphs">1</text>
<text x="191.61" y="364.50" font-size="31.51" text-anchor="middle" textLength="19.04" lengthAdjust="spacingAndGlyphs">0</text>
<text x="210.65" y="364.50" font-size="31.51" text-anchor="middle" textLength="19.04" lengthAdjust="spacingAndGlyphs">0</text>
<text x="229.70" y="364.50" font-size="31.51" text-anchor="middle" textLength="19.04" lengthAdjust="spacingAndGlyphs">0</text>
<text x="172.82" y="247.50" font-size="31.51" text-anchor="middle" textLength="18.86" lengthAdjust="spacingAndGlyphs">2</text>
<text x="191.68" y="247.50" font-size="31.51" text-anchor="middle" textLength="18.86" lengthAdjust="spacingAndGlyphs">0</text>
<text x="210.53" y="247.50" font-size="31.51" text-anchor="middle" textLength="18.86" lengthAdjust="spacingAndGlyphs">0</text>
<text x="229.39" y="247.50" font-size="31.51" text-anchor="middle" textLength="18.86" lengthAdjust="spacingAndGlyphs">0</text>
<text x="173.23" y="131.50" font-size="31.51" text-anchor="middle" textLength="18.77" lengthAdjust="spacingAndGlyphs">3</text>
<text x="192.00" y="131.50" font-size="31.51" text-anchor="middle" textLength="18.77" lengthAdjust="spacingAndGlyphs">0</text>
<text x="210.77" y="131.50" font-size="31.51" text-anchor="middle" textLength="18.77" lengthAdjust="spacingAndGlyphs">0</text>
<text x="229.54" y="131.50" font-size="31.51" text-anchor="middle" textLength="18.77" lengthAdjust="spacingAndGlyphs">0</text>
<text x="552.44" y="112.00" font-size="38.88" text-anchor="middle" textLength="23.42" lengthAdjust="spacingAndGlyphs">2</text>
<text x="575.86" y="112.00" font-size="38.88" text-anchor="middle" textLength="23.42" lengthAdjust="spacingAndGlyphs">0</text>
<text x="599.28" y="112.00" font-size="38.88" text-anchor="middle" textLength="23.42" lengthAdjust="spacingAndGlyphs">2</text>
<text x="622.71" y="112.00" font-size="38.88" text-anchor="middle" textLength="23.42" lengthAdjust="spacingAndGlyphs">3</text>
<text x="641.06" y="112.00" font-size="38.88" text-anchor="middle" textLength="13.28" lengthAdjust="spacingAndGlyphs">-</text>
<text x="659.41" y="112.00" font-size="38.88" text-anchor="middle" textLength="23.42" lengthAdjust="spacingAndGlyphs">1</text>
<text x="682.83" y="112.00" font-size="38.88" text-anchor="middle" textLength="23.42" lengthAdjust="spacingAndGlyphs">1</text>
<text x="701.19" y="112.00" font-size="38.88" text-anchor="middle" textLength="13.28" lengthAdjust="spacingAndGlyphs">-</text>
<text x="719.54" y="112.00" font-size="38.88" text-anchor="middle" textLength="23.42" lengthAdjust="spacingAndGlyphs">1</text>
<text x="742.96" y="112.00" font-size="38.88" text-anchor="middle" textLength="23.42" lengthAdjust="spacingAndGlyphs">7</text>
<text x="771.80" y="112.00" font-size="38.88" text-anchor="middle" textLength="10.86" lengthAdjust="spacingAndGlyphs">I</text>
<text x="790.08" y="112.00" font-size="38.88" text-anchor="middle" textLength="25.70" lengthAdjust="spacingAndGlyphs">C</text>
<text x="814.57" y="112.00" font-size="38.88" text-anchor="middle" textLength="23.26" lengthAdjust="spacingAndGlyphs">E</text>
<text x="838.82" y="112.00" font-size="38.88" text-anchor="middle" textLength="25.26" lengthAdjust="spacingAndGlyphs">B</text>
<text x="863.08" y="112.00" font-size="38.88" text-anchor="middle" textLength="23.26" lengthAdjust="spacingAndGlyphs">E</text>
<text x="887.30" y="112.00" font-size="38.88" text-anchor="middle" textLength="25.18" lengthAdjust="spacingAndGlyphs">A</text>
<text x="912.68" y="112.00" font-size="38.88" text-anchor="middle" textLength="25.58" lengthAdjust="spacingAndGlyphs">R</text>
<text x="948.86" y="112.00" font-size="38.88" text-anchor="middle" textLength="23.37" lengthAdjust="spacingAndGlyphs">S</text>
<text x="972.21" y="112.00" font-size="38.88" text-anchor="middle" textLength="23.33" lengthAdjust="spacingAndGlyphs">u</text>
<text x="1001.81" y="112.00" font-size="38.88" text-anchor="middle" textLength="35.86" lengthAdjust="spacingAndGlyphs">m</text>
<text x="1037.67" y="112.00" font-size="38.88" text-anchor="middle" textLength="35.86" lengthAdjust="spacingAndGlyphs">m</text>
<text x="1066.88" y="112.00" font-size="38.88" text-anchor="middle" textLength="22.56" lengthAdjust="spacingAndGlyphs">a</text>
<text x="1085.72" y="112.00" font-size="38.88" text-anchor="middle" textLength="15.14" lengthAdjust="spacingAndGlyphs">r</text>
<text x="1104.18" y="112.00" font-size="38.88" text-anchor="middle" textLength="21.79" lengthAdjust="spacingAndGlyphs">y</text>
<text x="1137.88" y="112.00" font-size="38.88" text-anchor="middle" textLength="22.20" lengthAdjust="spacingAndGlyphs">P</text>
<text x="1154.09" y="112.00" font-size="38.88" text-anchor="middle" textLength="10.23" lengthAdjust="spacingAndGlyphs">l</text>
<text x="1170.47" y="112.00" font-size="38.88" text-anchor="middle" textLength="22.52" lengthAdjust="spacingAndGlyphs">o</text>
<text x="1188.95" y="112.00" font-size="38.88" text-anchor="middle" textLength="14.43" lengthAdjust="spacingAndGlyphs">t</text>
<text x="782.93" y="956.00" font-size="29.48" text-anchor="middle" textLength="18.49" lengthAdjust="spacingAndGlyphs">T</text>
<text x="795.52" y="956.00" font-size="29.48" text-anchor="middle" textLength="8.41" lengthAdjust="spacingAndGlyphs">i</text>
<text x="814.47" y="956.00" font-size="29.48" text-anchor="middle" textLength="29.49" lengthAdjust="spacingAndGlyphs">m</text>
<text x="838.53" y="956.00" font-size="29.48" text-anchor="middle" textLength="18.63" lengthAdjust="spacingAndGlyphs">e</text>
<text x="863.37" y="956.00" font-size="29.48" text-anchor="middle" textLength="11.81" lengthAdjust="spacingAndGlyphs">(</text>
<text x="878.87" y="956.00" font-size="29.48" text-anchor="middle" textLength="19.19" lengthAdjust="spacingAndGlyphs">h</text>
<text x="897.73" y="956.00" font-size="29.48" text-anchor="middle" textLength="18.52" lengthAdjust="spacingAndGlyphs">o</text>
<text x="916.58" y="956.00" font-size="29.48" text-anchor="middle" textLength="19.19" lengthAdjust="spacingAndGlyphs">u</text>
<text x="932.40" y="956.00" font-size="29.48" text-anchor="middle" textLength="12.45" lengthAdjust="spacingAndGlyphs">r</text>
<text x="946.51" y="956.00" font-size="29.48" text-anchor="middle" textLength="15.77" lengthAdjust="spacingAndGlyphs">s</text>
<text x="960.30" y="956.00" font-size="29.48" text-anchor="middle" textLength="11.81" lengthAdjust="spacingAndGlyphs">)</text>
<text x="249.53" y="922.50" font-size="31.10" text-anchor="middle" textLength="18.23" lengthAdjust="spacingAndGlyphs">0</text>
<text x="508.40" y="922.50" font-size="31.36" text-anchor="middle" textLength="17.59" lengthAdjust="spacingAndGlyphs">5</text>
<text x="757.50" y="922.50" font-size="31.21" text-anchor="middle" textLength="18.45" lengthAdjust="spacingAndGlyphs">1</text>
<text x="775.95" y="922.50" font-size="31.21" text-anchor="middle" textLength="18.45" lengthAdjust="spacingAndGlyphs">0</text>
<text x="1015.64" y="922.50" font-size="31.37" text-anchor="middle" textLength="18.05" lengthAdjust="spacingAndGlyphs">1</text>
<text x="1033.69" y="922.50" font-size="31.37" text-anchor="middle" textLength="18.05" lengthAdjust="spacingAndGlyphs">5</text>
<text x="1273.55" y="922.50" font-size="31.00" text-anchor="middle" textLength="18.34" lengthAdjust="spacingAndGlyphs">2</text>
<text x="1291.89" y="922.50" font-size="31.00" text-anchor="middle" textLength="18.34" lengthAdjust="spacingAndGlyphs">0</text>
<text transform="translate(149.00,835.63) rotate(-90)" font-size="28.89" text-anchor="middle" textLength="21.11" lengthAdjust="spacingAndGlyphs">R</text>
<text transform="translate(149.00,816.33) rotate(-90)" font-size="28.89" text-anchor="middle" textLength="17.48" lengthAdjust="spacingAndGlyphs">F</text>
<text transform="translate(149.00,786.24) rotate(-90)" font-size="28.89" text-anchor="middle" textLength="23.40" lengthAdjust="spacingAndGlyphs">D</text>
<text transform="translate(149.00,770.32) rotate(-90)" font-size="28.89" text-anchor="middle" textLength="8.44" lengthAdjust="spacingAndGlyphs">i</text>
<text transform="translate(149.00,758.18) rotate(-90)" font-size="28.89" text-anchor="middle" textLength="15.83" lengthAdjust="spacingAndGlyphs">s</text>
<text transform="translate(149.00,744.31) rotate(-90)" font-size="28.89" text-anchor="middle" textLength="11.91" lengthAdjust="spacingAndGlyphs">t</text>
<text transform="translate(149.00,729.04) rotate(-90)" font-size="28.89" text-anchor="middle" textLength="18.62" lengthAdjust="spacingAndGlyphs">a</text>
<text transform="translate(149.00,710.10) rotate(-90)" font-size="28.89" text-anchor="middle" textLength="19.26" lengthAdjust="spacingAndGlyphs">n</text>
<text transform="translate(149.00,692.12) rotate(-90)" font-size="28.89" text-anchor="middle" textLength="16.71" lengthAdjust="spacingAndGlyphs">c</text>
<text transform="translate(149.00,674.42) rotate(-90)" font-size="28.89" text-anchor="middle" textLength="18.69" lengthAdjust="spacingAndGlyphs">e</text>
<text transform="translate(149.00,649.49) rotate(-90)" font-size="28.89" text-anchor="middle" textLength="11.85" lengthAdjust="spacingAndGlyphs">(</text>
<text transform="translate(149.00,634.76) rotate(-90)" font-size="28.89" text-anchor="middle" textLength="17.60" lengthAdjust="spacingAndGlyphs">k</text>
<text transform="translate(149.00,611.16) rotate(-90)" font-size="28.89" text-anchor="middle" textLength="29.60" lengthAdjust="spacingAndGlyphs">m</text>
<text transform="translate(149.00,590.44) rotate(-90)" font-size="28.89" text-anchor="middle" textLength="11.85" lengthAdjust="spacingAndGlyphs">)</text>
<text x="230.53" y="901.50" font-size="31.10" text-anchor="middle" textLength="18.23" lengthAdjust="spacingAndGlyphs">0</text>
<text x="172.57" y="784.50" font-size="31.51" text-anchor="middle" textLength="19.04" lengthAdjust="spacingAndGlyphs">1</text>
<text x="191.61" y="784.50" font-size="31.51" text-anchor="middle" textLength="19.04" lengthAdjust="spacingAndGlyphs">0</text>
<text x="210.65" y="784.50" font-size="31.51" text-anchor="middle" textLength="19.04" lengthAdjust="spacingAndGlyphs">0</text>
<text x="229.70" y="784.50" font-size="31.51" text-anchor="middle" textLength="19.04" lengthAdjust="spacingAndGlyphs">0</text>
<text x="172.82" y="667.50" font-size="31.51" text-anchor="middle" textLength="18.86" lengthAdjust="spacingAndGlyphs">2</text>
<text x="191.68" y="667.50" font-size="31.51" text-anchor="middle" textLength="18.86" lengthAdjust="spacingAndGlyphs">0</text>
<text x="210.53" y="667.50" font-size="31.51" text-anchor="middle" textLength="18.86" lengthAdjust="spacingAndGlyphs">0</text>
<text x="229.39" y="667.50" font-size="31.51" text-anchor="middle" textLength="18.86" lengthAdjust="spacingAndGlyphs">0</text>
<text x="173.23" y="551.50" font-size="31.51" text-anchor="middle" textLength="18.77" lengthAdjust="spacingAndGlyphs">3</text>
<text x="192.00" y="551.50" font-size="31.51" text-anchor="middle" textLength="18.77" lengthAdjust="spacingAndGlyphs">0</text>
<text x="210.77" y="551.50" font-size="31.51" text-anchor="middle" textLength="18.77" lengthAdjust="spacingAndGlyphs">0</text>
<text x="229.54" y="551.50" font-size="31.51" text-anchor="middle" textLength="18.77" lengthAdjust="spacingAndGlyphs">0</text>
<text transform="translate(1660.00,354.81) rotate(-90)" font-size="29.24" text-anchor="middle" textLength="19.26" lengthAdjust="spacingAndGlyphs">S</text>
<text transform="translate(1660.00,333.83) rotate(-90)" font-size="29.24" text-anchor="middle" textLength="22.70" lengthAdjust="spacingAndGlyphs">N</text>
<text transform="translate(1660.00,311.94) rotate(-90)" font-size="29.24" text-anchor="middle" textLength="21.08" lengthAdjust="spacingAndGlyphs">R</text>
<text transform="translate(1660.00,285.84) rotate(-90)" font-size="29.24" text-anchor="middle" textLength="11.84" lengthAdjust="spacingAndGlyphs">(</text>
<text transform="translate(1660.00,270.29) rotate(-90)" font-size="29.24" text-anchor="middle" textLength="19.26" lengthAdjust="spacingAndGlyphs">d</text>
<text transform="translate(1660.00,250.26) rotate(-90)" font-size="29.24" text-anchor="middle" textLength="20.81" lengthAdjust="spacingAndGlyphs">B</text>
<text transform="translate(1660.00,233.93) rotate(-90)" font-size="29.24" text-anchor="middle" textLength="11.84" lengthAdjust="spacingAndGlyphs">)</text>
<text x="1604.53" y="481.50" font-size="31.10" text-anchor="middle" textLength="18.23" lengthAdjust="spacingAndGlyphs">0</text>
<text x="1604.40" y="393.50" font-size="31.36" text-anchor="middle" textLength="17.59" lengthAdjust="spacingAndGlyphs">5</text>
<text x="1604.49" y="305.50" font-size="31.47" text-anchor="middle" textLength="18.44" lengthAdjust="spacingAndGlyphs">1</text>
<text x="1622.93" y="305.50" font-size="31.47" text-anchor="middle" textLength="18.44" lengthAdjust="spacingAndGlyphs">0</text>
<text x="1604.64" y="218.50" font-size="31.37" text-anchor="middle" textLength="18.05" lengthAdjust="spacingAndGlyphs">1</text>
<text x="1622.69" y="218.50" font-size="31.37" text-anchor="middle" textLength="18.05" lengthAdjust="spacingAndGlyphs">5</text>
<text x="1604.55" y="131.50" font-size="31.00" text-anchor="middle" textLength="18.34" lengthAdjust="spacingAndGlyphs">2</text>
<text x="1622.89" y="131.50" font-size="31.00" text-anchor="middle" textLength="18.34" lengthAdjust="spacingAndGlyphs">0</text>
<text transform="translate(1705.00,808.76) rotate(-90)" font-size="30.41" text-anchor="middle" textLength="23.38" lengthAdjust="spacingAndGlyphs">D</text>
<text transform="translate(1705.00,787.78) rotate(-90)" font-size="30.41" text-anchor="middle" textLength="18.58" lengthAdjust="spacingAndGlyphs">o</text>
<text transform="translate(1705.00,768.86) rotate(-90)" font-size="30.41" text-anchor="middle" textLength="19.27" lengthAdjust="spacingAndGlyphs">p</text>
<text transform="translate(1705.00,749.58) rotate(-90)" font-size="30.41" text-anchor="middle" textLength="19.27" lengthAdjust="spacingAndGlyphs">p</text>
<text transform="translate(1705.00,735.73) rotate(-90)" font-size="30.41" text-anchor="middle" textLength="8.44" lengthAdjust="spacingAndGlyphs">l</text>
<text transform="translate(1705.00,722.17) rotate(-90)" font-size="30.41" text-anchor="middle" textLength="18.68" lengthAdjust="spacingAndGlyphs">e</text>
<text transform="translate(1705.00,706.59) rotate(-90)" font-size="30.41" text-anchor="middle" textLength="12.48" lengthAdjust="spacingAndGlyphs">r</text>
<text transform="translate(1705.00,684.77) rotate(-90)" font-size="30.41" text-anchor="middle" textLength="11.85" lengthAdjust="spacingAndGlyphs">(</text>
<text transform="translate(1705.00,664.06) rotate(-90)" font-size="30.41" text-anchor="middle" textLength="29.58" lengthAdjust="spacingAndGlyphs">m</text>
<text transform="translate(1705.00,644.15) rotate(-90)" font-size="30.41" text-anchor="middle" textLength="10.23" lengthAdjust="spacingAndGlyphs">/</text>
<text transform="translate(1705.00,631.13) rotate(-90)" font-size="30.41" text-anchor="middle" textLength="15.82" lengthAdjust="spacingAndGlyphs">s</text>
<text transform="translate(1705.00,617.29) rotate(-90)" font-size="30.41" text-anchor="middle" textLength="11.85" lengthAdjust="spacingAndGlyphs">)</text>
<text x="1607.69" y="823.50" font-size="31.10" text-anchor="middle" textLength="24.88" lengthAdjust="spacingAndGlyphs">−</text>
<text x="1629.58" y="823.50" font-size="31.10" text-anchor="middle" textLength="18.89" lengthAdjust="spacingAndGlyphs">5</text>
<text x="1648.47" y="823.50" font-size="31.10" text-anchor="middle" textLength="18.89" lengthAdjust="spacingAndGlyphs">0</text>
<text x="1667.36" y="823.50" font-size="31.10" text-anchor="middle" textLength="18.89" lengthAdjust="spacingAndGlyphs">0</text>
<text x="1604.53" y="725.50" font-size="31.10" text-anchor="middle" textLength="18.23" lengthAdjust="spacingAndGlyphs">0</text>
<text x="1604.77" y="628.50" font-size="31.51" text-anchor="middle" textLength="18.57" lengthAdjust="spacingAndGlyphs">5</text>
<text x="1623.34" y="628.50" font-size="31.51" text-anchor="middle" textLength="18.57" lengthAdjust="spacingAndGlyphs">0</text>
<text x="1641.91" y="628.50" font-size="31.51" text-anchor="middle" textLength="18.57" lengthAdjust="spacingAndGlyphs">0</text>
</svg></body></html>
